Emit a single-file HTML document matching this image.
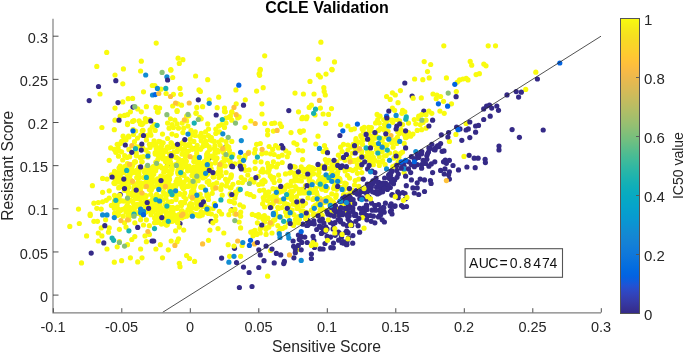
<!DOCTYPE html>
<html><head><meta charset="utf-8"><style>html,body{margin:0;padding:0;background:#fff;overflow:hidden}svg{display:block;filter:blur(0.4px)}</style></head><body>
<svg width="685" height="354" viewBox="0 0 685 354">
<rect width="685" height="354" fill="#fff"/>
<defs><linearGradient id="cb" x1="0" y1="0" x2="0" y2="1"><stop offset="0.0000" stop-color="#f9fb0e"/><stop offset="0.0159" stop-color="#f6f313"/><stop offset="0.0317" stop-color="#f5eb18"/><stop offset="0.0476" stop-color="#f5e41d"/><stop offset="0.0635" stop-color="#f5de21"/><stop offset="0.0794" stop-color="#f7d826"/><stop offset="0.0952" stop-color="#fad32a"/><stop offset="0.1111" stop-color="#fcce2e"/><stop offset="0.1270" stop-color="#fec832"/><stop offset="0.1429" stop-color="#ffc337"/><stop offset="0.1587" stop-color="#fdbe3d"/><stop offset="0.1746" stop-color="#f8bb44"/><stop offset="0.1905" stop-color="#f1b94a"/><stop offset="0.2063" stop-color="#e9b94e"/><stop offset="0.2222" stop-color="#e1b952"/><stop offset="0.2381" stop-color="#d9ba56"/><stop offset="0.2540" stop-color="#d1bb59"/><stop offset="0.2698" stop-color="#c8bc5d"/><stop offset="0.2857" stop-color="#c0bc60"/><stop offset="0.3016" stop-color="#b7bd64"/><stop offset="0.3175" stop-color="#aebe67"/><stop offset="0.3333" stop-color="#a5be6b"/><stop offset="0.3492" stop-color="#9cbf6f"/><stop offset="0.3651" stop-color="#92bf73"/><stop offset="0.3810" stop-color="#87bf77"/><stop offset="0.3968" stop-color="#7cbf7b"/><stop offset="0.4127" stop-color="#71bf80"/><stop offset="0.4286" stop-color="#65be86"/><stop offset="0.4444" stop-color="#59bd8c"/><stop offset="0.4603" stop-color="#4dbc92"/><stop offset="0.4762" stop-color="#42bb98"/><stop offset="0.4921" stop-color="#38b99e"/><stop offset="0.5079" stop-color="#2eb7a4"/><stop offset="0.5238" stop-color="#25b5a9"/><stop offset="0.5397" stop-color="#1db3af"/><stop offset="0.5556" stop-color="#15b1b4"/><stop offset="0.5714" stop-color="#0faeb9"/><stop offset="0.5873" stop-color="#0aacbe"/><stop offset="0.6032" stop-color="#07a9c2"/><stop offset="0.6190" stop-color="#06a7c6"/><stop offset="0.6349" stop-color="#06a4ca"/><stop offset="0.6508" stop-color="#06a0cd"/><stop offset="0.6667" stop-color="#079ccf"/><stop offset="0.6825" stop-color="#0998d1"/><stop offset="0.6984" stop-color="#0c93d2"/><stop offset="0.7143" stop-color="#108ed2"/><stop offset="0.7302" stop-color="#1389d3"/><stop offset="0.7460" stop-color="#1485d4"/><stop offset="0.7619" stop-color="#1481d6"/><stop offset="0.7778" stop-color="#127dd8"/><stop offset="0.7937" stop-color="#1079da"/><stop offset="0.8095" stop-color="#0d75dc"/><stop offset="0.8254" stop-color="#0871de"/><stop offset="0.8413" stop-color="#046de0"/><stop offset="0.8571" stop-color="#0268e1"/><stop offset="0.8730" stop-color="#0363e1"/><stop offset="0.8889" stop-color="#0f5cdd"/><stop offset="0.9048" stop-color="#2053d4"/><stop offset="0.9206" stop-color="#2c4ac7"/><stop offset="0.9365" stop-color="#3243ba"/><stop offset="0.9524" stop-color="#353dad"/><stop offset="0.9683" stop-color="#3637a0"/><stop offset="0.9841" stop-color="#363093"/><stop offset="1.0000" stop-color="#352a87"/></linearGradient></defs>
<g stroke="none">
<circle cx="133.0" cy="107.1" r="2.6" fill="#352a87"/>
<circle cx="412.1" cy="96.0" r="2.6" fill="#352a87"/>
<circle cx="423.8" cy="111.1" r="2.6" fill="#352a87"/>
<circle cx="195.3" cy="148.7" r="2.6" fill="#352a87"/>
<circle cx="225.7" cy="147.2" r="2.6" fill="#352a87"/>
<circle cx="209.2" cy="158.1" r="2.6" fill="#352a87"/>
<circle cx="167.6" cy="164.4" r="2.6" fill="#352a87"/>
<circle cx="281.5" cy="145.7" r="2.6" fill="#352a87"/>
<circle cx="120.2" cy="194.5" r="2.6" fill="#352a87"/>
<circle cx="231.8" cy="209.8" r="2.6" fill="#352a87"/>
<circle cx="303.4" cy="189.4" r="2.6" fill="#352a87"/>
<circle cx="180.0" cy="223.5" r="2.6" fill="#352a87"/>
<circle cx="211.1" cy="221.3" r="2.6" fill="#352a87"/>
<circle cx="234.5" cy="248.3" r="2.6" fill="#352a87"/>
<circle cx="185.9" cy="145.2" r="2.6" fill="#f9fb0e"/>
<circle cx="218.2" cy="151.9" r="2.6" fill="#f9fb0e"/>
<circle cx="182.1" cy="149.5" r="2.6" fill="#f9fb0e"/>
<circle cx="197.7" cy="148.7" r="2.6" fill="#f9fb0e"/>
<circle cx="162.8" cy="155.0" r="2.6" fill="#f9fb0e"/>
<circle cx="197.4" cy="149.0" r="2.6" fill="#f9fb0e"/>
<circle cx="196.7" cy="153.2" r="2.6" fill="#f9fb0e"/>
<circle cx="228.7" cy="147.1" r="2.6" fill="#f9fb0e"/>
<circle cx="230.3" cy="154.5" r="2.6" fill="#f9fb0e"/>
<circle cx="192.8" cy="148.4" r="2.6" fill="#f9fb0e"/>
<circle cx="209.8" cy="149.4" r="2.6" fill="#f9fb0e"/>
<circle cx="180.0" cy="145.5" r="2.6" fill="#f9fb0e"/>
<circle cx="179.8" cy="167.3" r="2.6" fill="#f9fb0e"/>
<circle cx="230.3" cy="162.1" r="2.6" fill="#f9fb0e"/>
<circle cx="153.3" cy="166.6" r="2.6" fill="#f9fb0e"/>
<circle cx="221.8" cy="162.7" r="2.6" fill="#f9fb0e"/>
<circle cx="167.1" cy="147.3" r="2.6" fill="#f9fb0e"/>
<circle cx="185.7" cy="165.4" r="2.6" fill="#f9fb0e"/>
<circle cx="198.7" cy="161.9" r="2.6" fill="#f9fb0e"/>
<circle cx="171.4" cy="157.0" r="2.6" fill="#f9fb0e"/>
<circle cx="209.0" cy="164.0" r="2.6" fill="#f9fb0e"/>
<circle cx="216.8" cy="150.3" r="2.6" fill="#f9fb0e"/>
<circle cx="222.0" cy="150.0" r="2.6" fill="#f9fb0e"/>
<circle cx="216.4" cy="157.8" r="2.6" fill="#f9fb0e"/>
<circle cx="167.7" cy="158.5" r="2.6" fill="#f9fb0e"/>
<circle cx="193.9" cy="167.0" r="2.6" fill="#f9fb0e"/>
<circle cx="156.3" cy="148.8" r="2.6" fill="#f9fb0e"/>
<circle cx="230.7" cy="164.1" r="2.6" fill="#f9fb0e"/>
<circle cx="164.9" cy="150.3" r="2.6" fill="#f9fb0e"/>
<circle cx="195.6" cy="148.6" r="2.6" fill="#f9fb0e"/>
<circle cx="178.6" cy="146.1" r="2.6" fill="#f9fb0e"/>
<circle cx="209.2" cy="146.8" r="2.6" fill="#f9fb0e"/>
<circle cx="231.6" cy="166.2" r="2.6" fill="#f9fb0e"/>
<circle cx="215.3" cy="162.8" r="2.6" fill="#f9fb0e"/>
<circle cx="182.1" cy="160.6" r="2.6" fill="#f9fb0e"/>
<circle cx="213.1" cy="156.1" r="2.6" fill="#f9fb0e"/>
<circle cx="157.9" cy="159.4" r="2.6" fill="#f9fb0e"/>
<circle cx="178.7" cy="159.0" r="2.6" fill="#f9fb0e"/>
<circle cx="186.2" cy="166.9" r="2.6" fill="#f9fb0e"/>
<circle cx="168.9" cy="162.7" r="2.6" fill="#f9fb0e"/>
<circle cx="208.2" cy="157.8" r="2.6" fill="#f9fb0e"/>
<circle cx="159.3" cy="148.8" r="2.6" fill="#f9fb0e"/>
<circle cx="229.4" cy="150.3" r="2.6" fill="#f9fb0e"/>
<circle cx="165.9" cy="151.6" r="2.6" fill="#f9fb0e"/>
<circle cx="195.4" cy="157.0" r="2.6" fill="#f9fb0e"/>
<circle cx="153.3" cy="145.1" r="2.6" fill="#f9fb0e"/>
<circle cx="192.2" cy="149.3" r="2.6" fill="#f9fb0e"/>
<circle cx="201.0" cy="163.4" r="2.6" fill="#f9fb0e"/>
<circle cx="160.6" cy="156.6" r="2.6" fill="#f9fb0e"/>
<circle cx="185.1" cy="163.2" r="2.6" fill="#f9fb0e"/>
<circle cx="228.4" cy="154.6" r="2.6" fill="#f9fb0e"/>
<circle cx="172.2" cy="165.2" r="2.6" fill="#f9fb0e"/>
<circle cx="155.2" cy="152.6" r="2.6" fill="#f9fb0e"/>
<circle cx="184.2" cy="149.1" r="2.6" fill="#f9fb0e"/>
<circle cx="206.7" cy="156.9" r="2.6" fill="#f9fb0e"/>
<circle cx="172.7" cy="154.5" r="2.6" fill="#f9fb0e"/>
<circle cx="207.7" cy="152.5" r="2.6" fill="#f9fb0e"/>
<circle cx="158.3" cy="155.6" r="2.6" fill="#f9fb0e"/>
<circle cx="168.4" cy="159.3" r="2.6" fill="#f9fb0e"/>
<circle cx="168.9" cy="148.1" r="2.6" fill="#f9fb0e"/>
<circle cx="223.6" cy="152.6" r="2.6" fill="#f9fb0e"/>
<circle cx="176.1" cy="157.4" r="2.6" fill="#f9fb0e"/>
<circle cx="207.8" cy="160.4" r="2.6" fill="#f9fb0e"/>
<circle cx="216.1" cy="151.0" r="2.6" fill="#f9fb0e"/>
<circle cx="186.7" cy="153.4" r="2.6" fill="#f9fb0e"/>
<circle cx="193.8" cy="158.2" r="2.6" fill="#f9fb0e"/>
<circle cx="202.7" cy="146.6" r="2.6" fill="#f9fb0e"/>
<circle cx="182.3" cy="161.3" r="2.6" fill="#f9fb0e"/>
<circle cx="155.8" cy="162.2" r="2.6" fill="#f9fb0e"/>
<circle cx="207.2" cy="154.2" r="2.6" fill="#f9fb0e"/>
<circle cx="188.5" cy="151.1" r="2.6" fill="#f9fb0e"/>
<circle cx="211.2" cy="156.0" r="2.6" fill="#f9fb0e"/>
<circle cx="173.9" cy="145.7" r="2.6" fill="#f9fb0e"/>
<circle cx="180.3" cy="166.2" r="2.6" fill="#f9fb0e"/>
<circle cx="206.4" cy="159.4" r="2.6" fill="#f9fb0e"/>
<circle cx="226.8" cy="145.7" r="2.6" fill="#f9fb0e"/>
<circle cx="200.6" cy="149.3" r="2.6" fill="#f9fb0e"/>
<circle cx="184.4" cy="149.2" r="2.6" fill="#f9fb0e"/>
<circle cx="180.6" cy="165.7" r="2.6" fill="#f9fb0e"/>
<circle cx="210.3" cy="164.5" r="2.6" fill="#f9fb0e"/>
<circle cx="159.0" cy="151.9" r="2.6" fill="#f9fb0e"/>
<circle cx="214.9" cy="145.9" r="2.6" fill="#f9fb0e"/>
<circle cx="168.0" cy="146.9" r="2.6" fill="#f9fb0e"/>
<circle cx="217.6" cy="150.3" r="2.6" fill="#f9fb0e"/>
<circle cx="186.5" cy="145.3" r="2.6" fill="#f9fb0e"/>
<circle cx="162.0" cy="156.8" r="2.6" fill="#f9fb0e"/>
<circle cx="215.5" cy="152.8" r="2.6" fill="#f9fb0e"/>
<circle cx="178.2" cy="145.9" r="2.6" fill="#f9fb0e"/>
<circle cx="160.9" cy="148.4" r="2.6" fill="#f9fb0e"/>
<circle cx="169.3" cy="158.1" r="2.6" fill="#f9fb0e"/>
<circle cx="181.4" cy="167.5" r="2.6" fill="#f9fb0e"/>
<circle cx="175.4" cy="164.7" r="2.6" fill="#f9fb0e"/>
<circle cx="160.3" cy="157.1" r="2.6" fill="#f9fb0e"/>
<circle cx="196.4" cy="160.1" r="2.6" fill="#f9fb0e"/>
<circle cx="185.4" cy="157.1" r="2.6" fill="#f9fb0e"/>
<circle cx="214.4" cy="148.5" r="2.6" fill="#f9fb0e"/>
<circle cx="195.0" cy="158.5" r="2.6" fill="#f9fb0e"/>
<circle cx="214.8" cy="148.8" r="2.6" fill="#f9fb0e"/>
<circle cx="185.8" cy="145.6" r="2.6" fill="#f9fb0e"/>
<circle cx="205.3" cy="165.0" r="2.6" fill="#f9fb0e"/>
<circle cx="180.9" cy="163.8" r="2.6" fill="#f9fb0e"/>
<circle cx="205.0" cy="145.4" r="2.6" fill="#f9fb0e"/>
<circle cx="190.1" cy="146.1" r="2.6" fill="#f9fb0e"/>
<circle cx="177.7" cy="163.4" r="2.6" fill="#f9fb0e"/>
<circle cx="162.9" cy="158.0" r="2.6" fill="#f9fb0e"/>
<circle cx="157.5" cy="147.5" r="2.6" fill="#f9fb0e"/>
<circle cx="228.2" cy="147.2" r="2.6" fill="#f9fb0e"/>
<circle cx="166.8" cy="166.6" r="2.6" fill="#f9fb0e"/>
<circle cx="177.4" cy="150.0" r="2.6" fill="#f9fb0e"/>
<circle cx="160.6" cy="156.5" r="2.6" fill="#f9fb0e"/>
<circle cx="157.7" cy="150.1" r="2.6" fill="#f9fb0e"/>
<circle cx="170.5" cy="162.1" r="2.6" fill="#f9fb0e"/>
<circle cx="165.8" cy="158.5" r="2.6" fill="#f9fb0e"/>
<circle cx="172.1" cy="167.9" r="2.6" fill="#f9fb0e"/>
<circle cx="231.3" cy="166.2" r="2.6" fill="#f9fb0e"/>
<circle cx="224.1" cy="157.7" r="2.6" fill="#f9fb0e"/>
<circle cx="226.5" cy="159.7" r="2.6" fill="#f9fb0e"/>
<circle cx="165.6" cy="161.8" r="2.6" fill="#f9fb0e"/>
<circle cx="220.1" cy="145.3" r="2.6" fill="#f9fb0e"/>
<circle cx="168.4" cy="163.0" r="2.6" fill="#f9fb0e"/>
<circle cx="213.7" cy="157.9" r="2.6" fill="#f9fb0e"/>
<circle cx="162.7" cy="151.1" r="2.6" fill="#f9fb0e"/>
<circle cx="171.6" cy="167.6" r="2.6" fill="#f9fb0e"/>
<circle cx="170.8" cy="153.5" r="2.6" fill="#f9fb0e"/>
<circle cx="207.4" cy="160.3" r="2.6" fill="#f9fb0e"/>
<circle cx="197.4" cy="160.0" r="2.6" fill="#f9fb0e"/>
<circle cx="221.3" cy="166.0" r="2.6" fill="#f9fb0e"/>
<circle cx="161.6" cy="145.7" r="2.6" fill="#f9fb0e"/>
<circle cx="225.2" cy="165.9" r="2.6" fill="#f9fb0e"/>
<circle cx="182.1" cy="154.2" r="2.6" fill="#f9fb0e"/>
<circle cx="207.1" cy="154.7" r="2.6" fill="#f9fb0e"/>
<circle cx="161.8" cy="150.7" r="2.6" fill="#f9fb0e"/>
<circle cx="177.0" cy="158.0" r="2.6" fill="#f9fb0e"/>
<circle cx="166.5" cy="161.8" r="2.6" fill="#f9fb0e"/>
<circle cx="229.6" cy="153.9" r="2.6" fill="#f9fb0e"/>
<circle cx="198.1" cy="159.6" r="2.6" fill="#f9fb0e"/>
<circle cx="216.0" cy="159.5" r="2.6" fill="#f9fb0e"/>
<circle cx="193.8" cy="161.6" r="2.6" fill="#f9fb0e"/>
<circle cx="154.9" cy="166.6" r="2.6" fill="#f9fb0e"/>
<circle cx="224.0" cy="161.0" r="2.6" fill="#f9fb0e"/>
<circle cx="168.9" cy="159.4" r="2.6" fill="#f9fb0e"/>
<circle cx="155.2" cy="154.1" r="2.6" fill="#f9fb0e"/>
<circle cx="170.0" cy="157.9" r="2.6" fill="#f9fb0e"/>
<circle cx="172.8" cy="147.1" r="2.6" fill="#f9fb0e"/>
<circle cx="215.7" cy="150.8" r="2.6" fill="#f9fb0e"/>
<circle cx="197.2" cy="145.4" r="2.6" fill="#f9fb0e"/>
<circle cx="197.5" cy="163.2" r="2.6" fill="#f9fb0e"/>
<circle cx="215.0" cy="152.6" r="2.6" fill="#f9fb0e"/>
<circle cx="163.1" cy="159.0" r="2.6" fill="#f9fb0e"/>
<circle cx="177.2" cy="151.6" r="2.6" fill="#f9fb0e"/>
<circle cx="169.6" cy="154.0" r="2.6" fill="#f9fb0e"/>
<circle cx="206.9" cy="154.2" r="2.6" fill="#f9fb0e"/>
<circle cx="204.1" cy="161.7" r="2.6" fill="#f9fb0e"/>
<circle cx="217.0" cy="158.1" r="2.6" fill="#f9fb0e"/>
<circle cx="231.2" cy="156.5" r="2.6" fill="#f9fb0e"/>
<circle cx="195.4" cy="160.1" r="2.6" fill="#f9fb0e"/>
<circle cx="229.7" cy="161.1" r="2.6" fill="#f9fb0e"/>
<circle cx="225.4" cy="148.6" r="2.6" fill="#f9fb0e"/>
<circle cx="186.3" cy="161.2" r="2.6" fill="#f9fb0e"/>
<circle cx="210.9" cy="164.1" r="2.6" fill="#f9fb0e"/>
<circle cx="174.0" cy="152.2" r="2.6" fill="#f9fb0e"/>
<circle cx="185.6" cy="154.0" r="2.6" fill="#f9fb0e"/>
<circle cx="160.3" cy="141.9" r="2.6" fill="#f9fb0e"/>
<circle cx="203.7" cy="143.7" r="2.6" fill="#f9fb0e"/>
<circle cx="171.2" cy="143.1" r="2.6" fill="#f9fb0e"/>
<circle cx="212.3" cy="140.8" r="2.6" fill="#f9fb0e"/>
<circle cx="154.1" cy="140.8" r="2.6" fill="#f9fb0e"/>
<circle cx="206.6" cy="144.6" r="2.6" fill="#f9fb0e"/>
<circle cx="183.6" cy="141.6" r="2.6" fill="#f9fb0e"/>
<circle cx="245.2" cy="155.7" r="2.6" fill="#f9fb0e"/>
<circle cx="232.8" cy="154.4" r="2.6" fill="#f9fb0e"/>
<circle cx="244.6" cy="158.2" r="2.6" fill="#f9fb0e"/>
<circle cx="239.3" cy="157.1" r="2.6" fill="#f9fb0e"/>
<circle cx="234.9" cy="163.8" r="2.6" fill="#f9fb0e"/>
<circle cx="239.9" cy="162.4" r="2.6" fill="#f9fb0e"/>
<circle cx="243.9" cy="166.2" r="2.6" fill="#f9fb0e"/>
<circle cx="248.7" cy="152.4" r="2.6" fill="#f9fb0e"/>
<circle cx="131.6" cy="166.6" r="2.6" fill="#f9fb0e"/>
<circle cx="143.4" cy="177.5" r="2.6" fill="#f9fb0e"/>
<circle cx="152.1" cy="177.3" r="2.6" fill="#f9fb0e"/>
<circle cx="133.8" cy="190.6" r="2.6" fill="#f9fb0e"/>
<circle cx="146.3" cy="195.8" r="2.6" fill="#f9fb0e"/>
<circle cx="148.4" cy="182.0" r="2.6" fill="#f9fb0e"/>
<circle cx="117.8" cy="175.3" r="2.6" fill="#f9fb0e"/>
<circle cx="115.8" cy="201.4" r="2.6" fill="#f9fb0e"/>
<circle cx="140.8" cy="203.7" r="2.6" fill="#f9fb0e"/>
<circle cx="144.5" cy="172.3" r="2.6" fill="#f9fb0e"/>
<circle cx="116.5" cy="199.0" r="2.6" fill="#f9fb0e"/>
<circle cx="114.0" cy="182.9" r="2.6" fill="#f9fb0e"/>
<circle cx="136.9" cy="198.6" r="2.6" fill="#f9fb0e"/>
<circle cx="138.0" cy="213.5" r="2.6" fill="#f9fb0e"/>
<circle cx="152.0" cy="181.5" r="2.6" fill="#f9fb0e"/>
<circle cx="126.3" cy="167.1" r="2.6" fill="#f9fb0e"/>
<circle cx="118.7" cy="187.9" r="2.6" fill="#f9fb0e"/>
<circle cx="139.0" cy="177.8" r="2.6" fill="#f9fb0e"/>
<circle cx="117.9" cy="200.2" r="2.6" fill="#f9fb0e"/>
<circle cx="140.2" cy="191.0" r="2.6" fill="#f9fb0e"/>
<circle cx="119.5" cy="175.8" r="2.6" fill="#f9fb0e"/>
<circle cx="124.5" cy="208.6" r="2.6" fill="#f9fb0e"/>
<circle cx="150.1" cy="168.4" r="2.6" fill="#f9fb0e"/>
<circle cx="150.5" cy="211.6" r="2.6" fill="#f9fb0e"/>
<circle cx="144.9" cy="177.7" r="2.6" fill="#f9fb0e"/>
<circle cx="151.7" cy="206.4" r="2.6" fill="#f9fb0e"/>
<circle cx="119.4" cy="167.8" r="2.6" fill="#f9fb0e"/>
<circle cx="128.7" cy="195.0" r="2.6" fill="#f9fb0e"/>
<circle cx="115.0" cy="213.7" r="2.6" fill="#f9fb0e"/>
<circle cx="140.2" cy="191.8" r="2.6" fill="#f9fb0e"/>
<circle cx="133.2" cy="171.2" r="2.6" fill="#f9fb0e"/>
<circle cx="143.2" cy="203.1" r="2.6" fill="#f9fb0e"/>
<circle cx="114.9" cy="206.3" r="2.6" fill="#f9fb0e"/>
<circle cx="127.8" cy="212.7" r="2.6" fill="#f9fb0e"/>
<circle cx="127.3" cy="176.6" r="2.6" fill="#f9fb0e"/>
<circle cx="121.6" cy="182.6" r="2.6" fill="#f9fb0e"/>
<circle cx="116.8" cy="174.1" r="2.6" fill="#f9fb0e"/>
<circle cx="132.4" cy="193.6" r="2.6" fill="#f9fb0e"/>
<circle cx="135.7" cy="172.6" r="2.6" fill="#f9fb0e"/>
<circle cx="115.0" cy="173.3" r="2.6" fill="#f9fb0e"/>
<circle cx="149.1" cy="172.8" r="2.6" fill="#f9fb0e"/>
<circle cx="140.7" cy="193.8" r="2.6" fill="#f9fb0e"/>
<circle cx="137.4" cy="212.8" r="2.6" fill="#f9fb0e"/>
<circle cx="124.0" cy="201.1" r="2.6" fill="#f9fb0e"/>
<circle cx="134.2" cy="184.4" r="2.6" fill="#f9fb0e"/>
<circle cx="129.6" cy="176.1" r="2.6" fill="#f9fb0e"/>
<circle cx="117.9" cy="212.1" r="2.6" fill="#f9fb0e"/>
<circle cx="139.0" cy="174.5" r="2.6" fill="#f9fb0e"/>
<circle cx="145.3" cy="175.2" r="2.6" fill="#f9fb0e"/>
<circle cx="139.8" cy="195.3" r="2.6" fill="#f9fb0e"/>
<circle cx="145.1" cy="186.6" r="2.6" fill="#f9fb0e"/>
<circle cx="151.3" cy="202.0" r="2.6" fill="#f9fb0e"/>
<circle cx="131.5" cy="172.1" r="2.6" fill="#f9fb0e"/>
<circle cx="124.1" cy="172.6" r="2.6" fill="#f9fb0e"/>
<circle cx="134.3" cy="206.3" r="2.6" fill="#f9fb0e"/>
<circle cx="142.9" cy="197.9" r="2.6" fill="#f9fb0e"/>
<circle cx="130.6" cy="179.9" r="2.6" fill="#f9fb0e"/>
<circle cx="145.4" cy="199.6" r="2.6" fill="#f9fb0e"/>
<circle cx="139.9" cy="193.9" r="2.6" fill="#f9fb0e"/>
<circle cx="144.8" cy="195.4" r="2.6" fill="#f9fb0e"/>
<circle cx="124.3" cy="184.7" r="2.6" fill="#f9fb0e"/>
<circle cx="126.1" cy="180.6" r="2.6" fill="#f9fb0e"/>
<circle cx="149.0" cy="201.6" r="2.6" fill="#f9fb0e"/>
<circle cx="137.9" cy="188.5" r="2.6" fill="#f9fb0e"/>
<circle cx="132.9" cy="171.3" r="2.6" fill="#f9fb0e"/>
<circle cx="132.5" cy="195.4" r="2.6" fill="#f9fb0e"/>
<circle cx="127.7" cy="191.4" r="2.6" fill="#f9fb0e"/>
<circle cx="153.0" cy="211.6" r="2.6" fill="#f9fb0e"/>
<circle cx="117.0" cy="213.3" r="2.6" fill="#f9fb0e"/>
<circle cx="145.0" cy="206.6" r="2.6" fill="#f9fb0e"/>
<circle cx="145.4" cy="176.4" r="2.6" fill="#f9fb0e"/>
<circle cx="119.1" cy="198.1" r="2.6" fill="#f9fb0e"/>
<circle cx="146.3" cy="171.1" r="2.6" fill="#f9fb0e"/>
<circle cx="114.6" cy="213.3" r="2.6" fill="#f9fb0e"/>
<circle cx="149.5" cy="179.1" r="2.6" fill="#f9fb0e"/>
<circle cx="146.3" cy="180.9" r="2.6" fill="#f9fb0e"/>
<circle cx="146.8" cy="166.6" r="2.6" fill="#f9fb0e"/>
<circle cx="137.7" cy="177.2" r="2.6" fill="#f9fb0e"/>
<circle cx="138.8" cy="167.3" r="2.6" fill="#f9fb0e"/>
<circle cx="139.2" cy="171.0" r="2.6" fill="#f9fb0e"/>
<circle cx="131.3" cy="169.5" r="2.6" fill="#f9fb0e"/>
<circle cx="129.0" cy="173.8" r="2.6" fill="#f9fb0e"/>
<circle cx="126.8" cy="189.5" r="2.6" fill="#f9fb0e"/>
<circle cx="139.7" cy="197.7" r="2.6" fill="#f9fb0e"/>
<circle cx="134.4" cy="208.6" r="2.6" fill="#f9fb0e"/>
<circle cx="130.0" cy="173.2" r="2.6" fill="#f9fb0e"/>
<circle cx="140.7" cy="183.9" r="2.6" fill="#f9fb0e"/>
<circle cx="150.5" cy="185.5" r="2.6" fill="#f9fb0e"/>
<circle cx="114.5" cy="183.2" r="2.6" fill="#f9fb0e"/>
<circle cx="151.4" cy="189.9" r="2.6" fill="#f9fb0e"/>
<circle cx="146.1" cy="184.4" r="2.6" fill="#f9fb0e"/>
<circle cx="137.7" cy="169.8" r="2.6" fill="#f9fb0e"/>
<circle cx="121.9" cy="171.2" r="2.6" fill="#f9fb0e"/>
<circle cx="129.7" cy="182.2" r="2.6" fill="#f9fb0e"/>
<circle cx="135.8" cy="198.4" r="2.6" fill="#f9fb0e"/>
<circle cx="123.4" cy="179.4" r="2.6" fill="#f9fb0e"/>
<circle cx="115.0" cy="172.1" r="2.6" fill="#f9fb0e"/>
<circle cx="128.9" cy="211.0" r="2.6" fill="#f9fb0e"/>
<circle cx="121.3" cy="186.4" r="2.6" fill="#f9fb0e"/>
<circle cx="114.5" cy="195.4" r="2.6" fill="#f9fb0e"/>
<circle cx="130.4" cy="182.6" r="2.6" fill="#f9fb0e"/>
<circle cx="129.2" cy="179.6" r="2.6" fill="#f9fb0e"/>
<circle cx="129.9" cy="175.2" r="2.6" fill="#f9fb0e"/>
<circle cx="141.8" cy="212.7" r="2.6" fill="#f9fb0e"/>
<circle cx="149.4" cy="184.3" r="2.6" fill="#f9fb0e"/>
<circle cx="114.5" cy="204.4" r="2.6" fill="#f9fb0e"/>
<circle cx="132.0" cy="193.3" r="2.6" fill="#f9fb0e"/>
<circle cx="139.6" cy="206.6" r="2.6" fill="#f9fb0e"/>
<circle cx="134.2" cy="187.7" r="2.6" fill="#f9fb0e"/>
<circle cx="119.1" cy="168.1" r="2.6" fill="#f9fb0e"/>
<circle cx="120.5" cy="173.7" r="2.6" fill="#f9fb0e"/>
<circle cx="150.7" cy="194.3" r="2.6" fill="#f9fb0e"/>
<circle cx="115.1" cy="181.9" r="2.6" fill="#f9fb0e"/>
<circle cx="130.1" cy="207.7" r="2.6" fill="#f9fb0e"/>
<circle cx="130.1" cy="193.3" r="2.6" fill="#f9fb0e"/>
<circle cx="124.3" cy="182.2" r="2.6" fill="#f9fb0e"/>
<circle cx="117.1" cy="205.1" r="2.6" fill="#f9fb0e"/>
<circle cx="133.1" cy="202.6" r="2.6" fill="#f9fb0e"/>
<circle cx="136.3" cy="170.4" r="2.6" fill="#f9fb0e"/>
<circle cx="124.5" cy="182.0" r="2.6" fill="#f9fb0e"/>
<circle cx="144.5" cy="183.3" r="2.6" fill="#f9fb0e"/>
<circle cx="151.7" cy="205.8" r="2.6" fill="#f9fb0e"/>
<circle cx="140.9" cy="192.6" r="2.6" fill="#f9fb0e"/>
<circle cx="141.0" cy="182.9" r="2.6" fill="#f9fb0e"/>
<circle cx="118.0" cy="208.9" r="2.6" fill="#f9fb0e"/>
<circle cx="131.9" cy="213.9" r="2.6" fill="#f9fb0e"/>
<circle cx="142.5" cy="194.7" r="2.6" fill="#f9fb0e"/>
<circle cx="130.7" cy="200.3" r="2.6" fill="#f9fb0e"/>
<circle cx="123.5" cy="183.7" r="2.6" fill="#f9fb0e"/>
<circle cx="126.5" cy="206.9" r="2.6" fill="#f9fb0e"/>
<circle cx="151.0" cy="170.9" r="2.6" fill="#f9fb0e"/>
<circle cx="115.0" cy="183.6" r="2.6" fill="#f9fb0e"/>
<circle cx="140.6" cy="187.9" r="2.6" fill="#f9fb0e"/>
<circle cx="143.6" cy="214.4" r="2.6" fill="#f9fb0e"/>
<circle cx="140.0" cy="199.3" r="2.6" fill="#f9fb0e"/>
<circle cx="119.6" cy="195.3" r="2.6" fill="#f9fb0e"/>
<circle cx="138.5" cy="175.8" r="2.6" fill="#f9fb0e"/>
<circle cx="115.0" cy="199.9" r="2.6" fill="#f9fb0e"/>
<circle cx="152.7" cy="198.3" r="2.6" fill="#f9fb0e"/>
<circle cx="121.8" cy="209.5" r="2.6" fill="#f9fb0e"/>
<circle cx="126.4" cy="183.1" r="2.6" fill="#f9fb0e"/>
<circle cx="145.7" cy="205.7" r="2.6" fill="#f9fb0e"/>
<circle cx="150.3" cy="210.2" r="2.6" fill="#f9fb0e"/>
<circle cx="114.1" cy="177.4" r="2.6" fill="#f9fb0e"/>
<circle cx="136.7" cy="177.6" r="2.6" fill="#f9fb0e"/>
<circle cx="147.2" cy="202.8" r="2.6" fill="#f9fb0e"/>
<circle cx="143.5" cy="213.2" r="2.6" fill="#f9fb0e"/>
<circle cx="141.6" cy="214.2" r="2.6" fill="#f9fb0e"/>
<circle cx="132.2" cy="172.8" r="2.6" fill="#f9fb0e"/>
<circle cx="134.1" cy="213.4" r="2.6" fill="#f9fb0e"/>
<circle cx="138.0" cy="182.1" r="2.6" fill="#f9fb0e"/>
<circle cx="117.8" cy="172.7" r="2.6" fill="#f9fb0e"/>
<circle cx="118.8" cy="201.5" r="2.6" fill="#f9fb0e"/>
<circle cx="126.8" cy="187.7" r="2.6" fill="#f9fb0e"/>
<circle cx="152.0" cy="182.6" r="2.6" fill="#f9fb0e"/>
<circle cx="139.5" cy="183.5" r="2.6" fill="#f9fb0e"/>
<circle cx="129.0" cy="187.3" r="2.6" fill="#f9fb0e"/>
<circle cx="131.3" cy="171.8" r="2.6" fill="#f9fb0e"/>
<circle cx="139.0" cy="193.8" r="2.6" fill="#f9fb0e"/>
<circle cx="118.4" cy="214.7" r="2.6" fill="#f9fb0e"/>
<circle cx="152.5" cy="179.7" r="2.6" fill="#f9fb0e"/>
<circle cx="127.3" cy="205.0" r="2.6" fill="#f9fb0e"/>
<circle cx="133.7" cy="194.3" r="2.6" fill="#f9fb0e"/>
<circle cx="143.8" cy="203.6" r="2.6" fill="#f9fb0e"/>
<circle cx="124.3" cy="190.4" r="2.6" fill="#f9fb0e"/>
<circle cx="145.6" cy="210.1" r="2.6" fill="#f9fb0e"/>
<circle cx="147.8" cy="206.0" r="2.6" fill="#f9fb0e"/>
<circle cx="139.7" cy="167.3" r="2.6" fill="#f9fb0e"/>
<circle cx="128.3" cy="201.5" r="2.6" fill="#f9fb0e"/>
<circle cx="123.5" cy="169.1" r="2.6" fill="#f9fb0e"/>
<circle cx="137.2" cy="204.4" r="2.6" fill="#f9fb0e"/>
<circle cx="152.8" cy="202.4" r="2.6" fill="#f9fb0e"/>
<circle cx="131.5" cy="167.6" r="2.6" fill="#f9fb0e"/>
<circle cx="140.5" cy="210.6" r="2.6" fill="#f9fb0e"/>
<circle cx="134.2" cy="194.1" r="2.6" fill="#f9fb0e"/>
<circle cx="117.6" cy="182.0" r="2.6" fill="#f9fb0e"/>
<circle cx="137.1" cy="206.1" r="2.6" fill="#f9fb0e"/>
<circle cx="126.7" cy="207.6" r="2.6" fill="#f9fb0e"/>
<circle cx="136.9" cy="193.7" r="2.6" fill="#f9fb0e"/>
<circle cx="121.8" cy="200.8" r="2.6" fill="#f9fb0e"/>
<circle cx="119.3" cy="187.0" r="2.6" fill="#f9fb0e"/>
<circle cx="148.6" cy="209.4" r="2.6" fill="#f9fb0e"/>
<circle cx="150.8" cy="175.7" r="2.6" fill="#f9fb0e"/>
<circle cx="149.3" cy="189.4" r="2.6" fill="#f9fb0e"/>
<circle cx="120.4" cy="210.8" r="2.6" fill="#f9fb0e"/>
<circle cx="151.1" cy="214.7" r="2.6" fill="#f9fb0e"/>
<circle cx="128.0" cy="177.2" r="2.6" fill="#f9fb0e"/>
<circle cx="150.1" cy="201.6" r="2.6" fill="#f9fb0e"/>
<circle cx="150.1" cy="202.5" r="2.6" fill="#f9fb0e"/>
<circle cx="152.4" cy="202.5" r="2.6" fill="#f9fb0e"/>
<circle cx="146.0" cy="212.1" r="2.6" fill="#f9fb0e"/>
<circle cx="130.8" cy="212.0" r="2.6" fill="#f9fb0e"/>
<circle cx="130.1" cy="214.1" r="2.6" fill="#f9fb0e"/>
<circle cx="135.1" cy="198.0" r="2.6" fill="#f9fb0e"/>
<circle cx="114.4" cy="183.0" r="2.6" fill="#f9fb0e"/>
<circle cx="124.7" cy="166.6" r="2.6" fill="#f9fb0e"/>
<circle cx="126.2" cy="178.9" r="2.6" fill="#f9fb0e"/>
<circle cx="118.2" cy="178.8" r="2.6" fill="#f9fb0e"/>
<circle cx="147.6" cy="176.8" r="2.6" fill="#f9fb0e"/>
<circle cx="141.3" cy="215.6" r="2.6" fill="#f9fb0e"/>
<circle cx="114.4" cy="201.6" r="2.6" fill="#f9fb0e"/>
<circle cx="119.2" cy="175.2" r="2.6" fill="#f9fb0e"/>
<circle cx="126.0" cy="211.9" r="2.6" fill="#f9fb0e"/>
<circle cx="148.2" cy="170.6" r="2.6" fill="#f9fb0e"/>
<circle cx="144.8" cy="170.2" r="2.6" fill="#f9fb0e"/>
<circle cx="128.0" cy="216.0" r="2.6" fill="#f9fb0e"/>
<circle cx="148.3" cy="171.5" r="2.6" fill="#f9fb0e"/>
<circle cx="136.1" cy="187.0" r="2.6" fill="#f9fb0e"/>
<circle cx="140.3" cy="208.9" r="2.6" fill="#f9fb0e"/>
<circle cx="135.7" cy="212.6" r="2.6" fill="#f9fb0e"/>
<circle cx="149.0" cy="174.2" r="2.6" fill="#f9fb0e"/>
<circle cx="114.5" cy="171.4" r="2.6" fill="#f9fb0e"/>
<circle cx="118.1" cy="177.3" r="2.6" fill="#f9fb0e"/>
<circle cx="120.8" cy="177.8" r="2.6" fill="#f9fb0e"/>
<circle cx="119.2" cy="176.2" r="2.6" fill="#f9fb0e"/>
<circle cx="119.2" cy="173.8" r="2.6" fill="#f9fb0e"/>
<circle cx="119.3" cy="179.0" r="2.6" fill="#f9fb0e"/>
<circle cx="120.9" cy="177.6" r="2.6" fill="#f9fb0e"/>
<circle cx="188.1" cy="169.6" r="2.6" fill="#f9fb0e"/>
<circle cx="170.1" cy="188.8" r="2.6" fill="#f9fb0e"/>
<circle cx="169.0" cy="175.9" r="2.6" fill="#f9fb0e"/>
<circle cx="172.5" cy="207.7" r="2.6" fill="#f9fb0e"/>
<circle cx="166.9" cy="212.8" r="2.6" fill="#f9fb0e"/>
<circle cx="153.3" cy="187.1" r="2.6" fill="#f9fb0e"/>
<circle cx="190.5" cy="203.7" r="2.6" fill="#f9fb0e"/>
<circle cx="153.6" cy="171.8" r="2.6" fill="#f9fb0e"/>
<circle cx="156.7" cy="194.3" r="2.6" fill="#f9fb0e"/>
<circle cx="157.9" cy="185.8" r="2.6" fill="#f9fb0e"/>
<circle cx="167.7" cy="171.1" r="2.6" fill="#f9fb0e"/>
<circle cx="172.5" cy="187.8" r="2.6" fill="#f9fb0e"/>
<circle cx="183.1" cy="183.3" r="2.6" fill="#f9fb0e"/>
<circle cx="156.6" cy="182.4" r="2.6" fill="#f9fb0e"/>
<circle cx="189.1" cy="166.2" r="2.6" fill="#f9fb0e"/>
<circle cx="180.1" cy="167.0" r="2.6" fill="#f9fb0e"/>
<circle cx="197.9" cy="175.8" r="2.6" fill="#f9fb0e"/>
<circle cx="180.7" cy="170.6" r="2.6" fill="#f9fb0e"/>
<circle cx="181.5" cy="205.6" r="2.6" fill="#f9fb0e"/>
<circle cx="200.6" cy="205.5" r="2.6" fill="#f9fb0e"/>
<circle cx="199.5" cy="166.4" r="2.6" fill="#f9fb0e"/>
<circle cx="194.9" cy="168.5" r="2.6" fill="#f9fb0e"/>
<circle cx="198.3" cy="215.8" r="2.6" fill="#f9fb0e"/>
<circle cx="190.3" cy="196.3" r="2.6" fill="#f9fb0e"/>
<circle cx="191.1" cy="170.3" r="2.6" fill="#f9fb0e"/>
<circle cx="197.9" cy="170.4" r="2.6" fill="#f9fb0e"/>
<circle cx="165.4" cy="179.5" r="2.6" fill="#f9fb0e"/>
<circle cx="188.8" cy="185.7" r="2.6" fill="#f9fb0e"/>
<circle cx="173.1" cy="191.1" r="2.6" fill="#f9fb0e"/>
<circle cx="192.2" cy="208.0" r="2.6" fill="#f9fb0e"/>
<circle cx="196.9" cy="180.2" r="2.6" fill="#f9fb0e"/>
<circle cx="155.7" cy="170.7" r="2.6" fill="#f9fb0e"/>
<circle cx="159.0" cy="203.3" r="2.6" fill="#f9fb0e"/>
<circle cx="157.4" cy="203.8" r="2.6" fill="#f9fb0e"/>
<circle cx="153.1" cy="200.3" r="2.6" fill="#f9fb0e"/>
<circle cx="165.9" cy="198.2" r="2.6" fill="#f9fb0e"/>
<circle cx="192.5" cy="198.7" r="2.6" fill="#f9fb0e"/>
<circle cx="156.8" cy="167.0" r="2.6" fill="#f9fb0e"/>
<circle cx="172.9" cy="211.4" r="2.6" fill="#f9fb0e"/>
<circle cx="177.2" cy="179.1" r="2.6" fill="#f9fb0e"/>
<circle cx="177.5" cy="207.0" r="2.6" fill="#f9fb0e"/>
<circle cx="163.8" cy="172.2" r="2.6" fill="#f9fb0e"/>
<circle cx="200.8" cy="187.2" r="2.6" fill="#f9fb0e"/>
<circle cx="176.1" cy="181.5" r="2.6" fill="#f9fb0e"/>
<circle cx="165.7" cy="209.1" r="2.6" fill="#f9fb0e"/>
<circle cx="194.7" cy="178.7" r="2.6" fill="#f9fb0e"/>
<circle cx="190.7" cy="212.0" r="2.6" fill="#f9fb0e"/>
<circle cx="174.7" cy="215.0" r="2.6" fill="#f9fb0e"/>
<circle cx="157.7" cy="207.9" r="2.6" fill="#f9fb0e"/>
<circle cx="197.2" cy="178.6" r="2.6" fill="#f9fb0e"/>
<circle cx="167.4" cy="179.6" r="2.6" fill="#f9fb0e"/>
<circle cx="160.1" cy="206.6" r="2.6" fill="#f9fb0e"/>
<circle cx="189.3" cy="205.4" r="2.6" fill="#f9fb0e"/>
<circle cx="186.4" cy="179.1" r="2.6" fill="#f9fb0e"/>
<circle cx="157.5" cy="178.9" r="2.6" fill="#f9fb0e"/>
<circle cx="194.0" cy="167.0" r="2.6" fill="#f9fb0e"/>
<circle cx="180.7" cy="182.1" r="2.6" fill="#f9fb0e"/>
<circle cx="168.0" cy="182.7" r="2.6" fill="#f9fb0e"/>
<circle cx="183.8" cy="174.4" r="2.6" fill="#f9fb0e"/>
<circle cx="161.3" cy="208.5" r="2.6" fill="#f9fb0e"/>
<circle cx="192.2" cy="184.0" r="2.6" fill="#f9fb0e"/>
<circle cx="165.9" cy="195.2" r="2.6" fill="#f9fb0e"/>
<circle cx="201.5" cy="205.4" r="2.6" fill="#f9fb0e"/>
<circle cx="176.0" cy="197.7" r="2.6" fill="#f9fb0e"/>
<circle cx="171.7" cy="201.5" r="2.6" fill="#f9fb0e"/>
<circle cx="179.9" cy="167.4" r="2.6" fill="#f9fb0e"/>
<circle cx="188.0" cy="209.6" r="2.6" fill="#f9fb0e"/>
<circle cx="178.2" cy="174.0" r="2.6" fill="#f9fb0e"/>
<circle cx="168.8" cy="175.6" r="2.6" fill="#f9fb0e"/>
<circle cx="196.7" cy="202.8" r="2.6" fill="#f9fb0e"/>
<circle cx="168.5" cy="181.1" r="2.6" fill="#f9fb0e"/>
<circle cx="159.6" cy="188.0" r="2.6" fill="#f9fb0e"/>
<circle cx="203.8" cy="203.8" r="2.6" fill="#f9fb0e"/>
<circle cx="201.6" cy="169.7" r="2.6" fill="#f9fb0e"/>
<circle cx="201.1" cy="211.6" r="2.6" fill="#f9fb0e"/>
<circle cx="195.2" cy="172.4" r="2.6" fill="#f9fb0e"/>
<circle cx="198.2" cy="214.9" r="2.6" fill="#f9fb0e"/>
<circle cx="191.5" cy="191.7" r="2.6" fill="#f9fb0e"/>
<circle cx="170.8" cy="209.9" r="2.6" fill="#f9fb0e"/>
<circle cx="184.1" cy="182.2" r="2.6" fill="#f9fb0e"/>
<circle cx="157.3" cy="166.9" r="2.6" fill="#f9fb0e"/>
<circle cx="189.5" cy="180.8" r="2.6" fill="#f9fb0e"/>
<circle cx="159.9" cy="181.4" r="2.6" fill="#f9fb0e"/>
<circle cx="177.0" cy="208.4" r="2.6" fill="#f9fb0e"/>
<circle cx="177.7" cy="172.4" r="2.6" fill="#f9fb0e"/>
<circle cx="196.1" cy="199.7" r="2.6" fill="#f9fb0e"/>
<circle cx="181.4" cy="210.9" r="2.6" fill="#f9fb0e"/>
<circle cx="174.1" cy="185.4" r="2.6" fill="#f9fb0e"/>
<circle cx="155.8" cy="200.8" r="2.6" fill="#f9fb0e"/>
<circle cx="185.3" cy="213.4" r="2.6" fill="#f9fb0e"/>
<circle cx="153.4" cy="186.6" r="2.6" fill="#f9fb0e"/>
<circle cx="175.7" cy="186.8" r="2.6" fill="#f9fb0e"/>
<circle cx="155.3" cy="206.7" r="2.6" fill="#f9fb0e"/>
<circle cx="155.2" cy="198.0" r="2.6" fill="#f9fb0e"/>
<circle cx="169.3" cy="187.2" r="2.6" fill="#f9fb0e"/>
<circle cx="196.6" cy="176.2" r="2.6" fill="#f9fb0e"/>
<circle cx="179.6" cy="179.3" r="2.6" fill="#f9fb0e"/>
<circle cx="184.7" cy="193.2" r="2.6" fill="#f9fb0e"/>
<circle cx="187.7" cy="170.8" r="2.6" fill="#f9fb0e"/>
<circle cx="185.9" cy="199.1" r="2.6" fill="#f9fb0e"/>
<circle cx="156.5" cy="214.5" r="2.6" fill="#f9fb0e"/>
<circle cx="197.2" cy="205.7" r="2.6" fill="#f9fb0e"/>
<circle cx="193.9" cy="191.0" r="2.6" fill="#f9fb0e"/>
<circle cx="200.6" cy="173.8" r="2.6" fill="#f9fb0e"/>
<circle cx="191.7" cy="214.8" r="2.6" fill="#f9fb0e"/>
<circle cx="156.3" cy="198.4" r="2.6" fill="#f9fb0e"/>
<circle cx="203.6" cy="173.1" r="2.6" fill="#f9fb0e"/>
<circle cx="182.1" cy="210.9" r="2.6" fill="#f9fb0e"/>
<circle cx="166.7" cy="176.5" r="2.6" fill="#f9fb0e"/>
<circle cx="190.3" cy="205.7" r="2.6" fill="#f9fb0e"/>
<circle cx="202.0" cy="198.6" r="2.6" fill="#f9fb0e"/>
<circle cx="155.8" cy="207.1" r="2.6" fill="#f9fb0e"/>
<circle cx="167.9" cy="194.2" r="2.6" fill="#f9fb0e"/>
<circle cx="190.5" cy="214.9" r="2.6" fill="#f9fb0e"/>
<circle cx="181.7" cy="173.2" r="2.6" fill="#f9fb0e"/>
<circle cx="179.6" cy="193.7" r="2.6" fill="#f9fb0e"/>
<circle cx="192.1" cy="175.6" r="2.6" fill="#f9fb0e"/>
<circle cx="181.7" cy="168.5" r="2.6" fill="#f9fb0e"/>
<circle cx="204.2" cy="167.1" r="2.6" fill="#f9fb0e"/>
<circle cx="181.1" cy="174.7" r="2.6" fill="#f9fb0e"/>
<circle cx="167.3" cy="186.1" r="2.6" fill="#f9fb0e"/>
<circle cx="166.2" cy="179.1" r="2.6" fill="#f9fb0e"/>
<circle cx="169.1" cy="191.0" r="2.6" fill="#f9fb0e"/>
<circle cx="202.7" cy="176.5" r="2.6" fill="#f9fb0e"/>
<circle cx="162.0" cy="168.1" r="2.6" fill="#f9fb0e"/>
<circle cx="200.6" cy="205.2" r="2.6" fill="#f9fb0e"/>
<circle cx="196.2" cy="173.5" r="2.6" fill="#f9fb0e"/>
<circle cx="176.0" cy="199.6" r="2.6" fill="#f9fb0e"/>
<circle cx="180.6" cy="202.6" r="2.6" fill="#f9fb0e"/>
<circle cx="163.1" cy="211.1" r="2.6" fill="#f9fb0e"/>
<circle cx="183.8" cy="196.6" r="2.6" fill="#f9fb0e"/>
<circle cx="183.5" cy="188.1" r="2.6" fill="#f9fb0e"/>
<circle cx="153.7" cy="174.2" r="2.6" fill="#f9fb0e"/>
<circle cx="178.0" cy="170.1" r="2.6" fill="#f9fb0e"/>
<circle cx="183.9" cy="175.5" r="2.6" fill="#f9fb0e"/>
<circle cx="188.6" cy="186.3" r="2.6" fill="#f9fb0e"/>
<circle cx="187.2" cy="179.1" r="2.6" fill="#f9fb0e"/>
<circle cx="159.5" cy="199.2" r="2.6" fill="#f9fb0e"/>
<circle cx="195.9" cy="176.5" r="2.6" fill="#f9fb0e"/>
<circle cx="154.9" cy="209.4" r="2.6" fill="#f9fb0e"/>
<circle cx="192.2" cy="204.3" r="2.6" fill="#f9fb0e"/>
<circle cx="194.1" cy="186.9" r="2.6" fill="#f9fb0e"/>
<circle cx="202.5" cy="206.4" r="2.6" fill="#f9fb0e"/>
<circle cx="192.3" cy="213.0" r="2.6" fill="#f9fb0e"/>
<circle cx="200.2" cy="194.3" r="2.6" fill="#f9fb0e"/>
<circle cx="155.9" cy="195.5" r="2.6" fill="#f9fb0e"/>
<circle cx="178.8" cy="166.8" r="2.6" fill="#f9fb0e"/>
<circle cx="169.3" cy="207.0" r="2.6" fill="#f9fb0e"/>
<circle cx="185.5" cy="212.5" r="2.6" fill="#f9fb0e"/>
<circle cx="192.3" cy="175.3" r="2.6" fill="#f9fb0e"/>
<circle cx="190.1" cy="168.3" r="2.6" fill="#f9fb0e"/>
<circle cx="198.2" cy="180.7" r="2.6" fill="#f9fb0e"/>
<circle cx="203.5" cy="168.4" r="2.6" fill="#f9fb0e"/>
<circle cx="191.6" cy="171.1" r="2.6" fill="#f9fb0e"/>
<circle cx="197.9" cy="206.9" r="2.6" fill="#f9fb0e"/>
<circle cx="179.6" cy="194.2" r="2.6" fill="#f9fb0e"/>
<circle cx="164.4" cy="184.2" r="2.6" fill="#f9fb0e"/>
<circle cx="160.7" cy="185.7" r="2.6" fill="#f9fb0e"/>
<circle cx="160.2" cy="197.7" r="2.6" fill="#f9fb0e"/>
<circle cx="178.6" cy="183.8" r="2.6" fill="#f9fb0e"/>
<circle cx="171.0" cy="213.6" r="2.6" fill="#f9fb0e"/>
<circle cx="202.3" cy="215.0" r="2.6" fill="#f9fb0e"/>
<circle cx="171.9" cy="170.1" r="2.6" fill="#f9fb0e"/>
<circle cx="161.5" cy="209.0" r="2.6" fill="#f9fb0e"/>
<circle cx="171.2" cy="173.4" r="2.6" fill="#f9fb0e"/>
<circle cx="202.7" cy="177.2" r="2.6" fill="#f9fb0e"/>
<circle cx="182.1" cy="186.7" r="2.6" fill="#f9fb0e"/>
<circle cx="160.2" cy="184.6" r="2.6" fill="#f9fb0e"/>
<circle cx="194.0" cy="193.2" r="2.6" fill="#f9fb0e"/>
<circle cx="197.6" cy="166.8" r="2.6" fill="#f9fb0e"/>
<circle cx="158.6" cy="187.6" r="2.6" fill="#f9fb0e"/>
<circle cx="186.4" cy="186.6" r="2.6" fill="#f9fb0e"/>
<circle cx="167.4" cy="206.7" r="2.6" fill="#f9fb0e"/>
<circle cx="197.3" cy="198.5" r="2.6" fill="#f9fb0e"/>
<circle cx="159.9" cy="203.0" r="2.6" fill="#f9fb0e"/>
<circle cx="184.6" cy="202.7" r="2.6" fill="#f9fb0e"/>
<circle cx="191.3" cy="194.2" r="2.6" fill="#f9fb0e"/>
<circle cx="173.0" cy="207.9" r="2.6" fill="#f9fb0e"/>
<circle cx="201.1" cy="213.6" r="2.6" fill="#f9fb0e"/>
<circle cx="168.8" cy="176.6" r="2.6" fill="#f9fb0e"/>
<circle cx="163.0" cy="200.0" r="2.6" fill="#f9fb0e"/>
<circle cx="203.1" cy="177.9" r="2.6" fill="#f9fb0e"/>
<circle cx="176.4" cy="193.3" r="2.6" fill="#f9fb0e"/>
<circle cx="174.7" cy="193.4" r="2.6" fill="#f9fb0e"/>
<circle cx="172.3" cy="195.3" r="2.6" fill="#f9fb0e"/>
<circle cx="203.9" cy="204.2" r="2.6" fill="#f9fb0e"/>
<circle cx="203.1" cy="187.1" r="2.6" fill="#f9fb0e"/>
<circle cx="160.8" cy="176.1" r="2.6" fill="#f9fb0e"/>
<circle cx="165.0" cy="204.5" r="2.6" fill="#f9fb0e"/>
<circle cx="164.6" cy="194.1" r="2.6" fill="#f9fb0e"/>
<circle cx="201.2" cy="187.1" r="2.6" fill="#f9fb0e"/>
<circle cx="165.3" cy="210.4" r="2.6" fill="#f9fb0e"/>
<circle cx="203.9" cy="169.4" r="2.6" fill="#f9fb0e"/>
<circle cx="195.8" cy="214.7" r="2.6" fill="#f9fb0e"/>
<circle cx="168.4" cy="183.9" r="2.6" fill="#f9fb0e"/>
<circle cx="163.0" cy="176.8" r="2.6" fill="#f9fb0e"/>
<circle cx="193.0" cy="188.1" r="2.6" fill="#f9fb0e"/>
<circle cx="169.1" cy="184.2" r="2.6" fill="#f9fb0e"/>
<circle cx="200.2" cy="215.8" r="2.6" fill="#f9fb0e"/>
<circle cx="169.6" cy="179.4" r="2.6" fill="#f9fb0e"/>
<circle cx="167.0" cy="205.2" r="2.6" fill="#f9fb0e"/>
<circle cx="200.3" cy="175.6" r="2.6" fill="#f9fb0e"/>
<circle cx="158.4" cy="182.6" r="2.6" fill="#f9fb0e"/>
<circle cx="196.2" cy="208.4" r="2.6" fill="#f9fb0e"/>
<circle cx="202.4" cy="187.0" r="2.6" fill="#f9fb0e"/>
<circle cx="155.3" cy="168.3" r="2.6" fill="#f9fb0e"/>
<circle cx="194.9" cy="184.7" r="2.6" fill="#f9fb0e"/>
<circle cx="161.9" cy="180.1" r="2.6" fill="#f9fb0e"/>
<circle cx="158.2" cy="211.8" r="2.6" fill="#f9fb0e"/>
<circle cx="175.4" cy="191.2" r="2.6" fill="#f9fb0e"/>
<circle cx="163.4" cy="192.1" r="2.6" fill="#f9fb0e"/>
<circle cx="166.2" cy="213.0" r="2.6" fill="#f9fb0e"/>
<circle cx="198.0" cy="201.9" r="2.6" fill="#f9fb0e"/>
<circle cx="182.3" cy="202.5" r="2.6" fill="#f9fb0e"/>
<circle cx="157.4" cy="184.1" r="2.6" fill="#f9fb0e"/>
<circle cx="198.8" cy="205.6" r="2.6" fill="#f9fb0e"/>
<circle cx="169.4" cy="185.2" r="2.6" fill="#f9fb0e"/>
<circle cx="160.2" cy="166.0" r="2.6" fill="#f9fb0e"/>
<circle cx="202.4" cy="175.2" r="2.6" fill="#f9fb0e"/>
<circle cx="194.7" cy="174.9" r="2.6" fill="#f9fb0e"/>
<circle cx="176.7" cy="193.2" r="2.6" fill="#f9fb0e"/>
<circle cx="162.6" cy="180.1" r="2.6" fill="#f9fb0e"/>
<circle cx="160.2" cy="166.2" r="2.6" fill="#f9fb0e"/>
<circle cx="172.1" cy="208.0" r="2.6" fill="#f9fb0e"/>
<circle cx="164.4" cy="187.6" r="2.6" fill="#f9fb0e"/>
<circle cx="173.5" cy="191.8" r="2.6" fill="#f9fb0e"/>
<circle cx="164.1" cy="168.4" r="2.6" fill="#f9fb0e"/>
<circle cx="170.2" cy="215.0" r="2.6" fill="#f9fb0e"/>
<circle cx="183.2" cy="188.6" r="2.6" fill="#f9fb0e"/>
<circle cx="168.3" cy="201.8" r="2.6" fill="#f9fb0e"/>
<circle cx="160.7" cy="196.7" r="2.6" fill="#f9fb0e"/>
<circle cx="179.0" cy="169.4" r="2.6" fill="#f9fb0e"/>
<circle cx="220.0" cy="174.1" r="2.6" fill="#f9fb0e"/>
<circle cx="205.3" cy="176.8" r="2.6" fill="#f9fb0e"/>
<circle cx="211.1" cy="168.6" r="2.6" fill="#f9fb0e"/>
<circle cx="225.6" cy="179.3" r="2.6" fill="#f9fb0e"/>
<circle cx="216.7" cy="182.9" r="2.6" fill="#f9fb0e"/>
<circle cx="231.3" cy="174.8" r="2.6" fill="#f9fb0e"/>
<circle cx="220.8" cy="187.4" r="2.6" fill="#f9fb0e"/>
<circle cx="213.0" cy="176.8" r="2.6" fill="#f9fb0e"/>
<circle cx="219.6" cy="174.7" r="2.6" fill="#f9fb0e"/>
<circle cx="221.8" cy="184.9" r="2.6" fill="#f9fb0e"/>
<circle cx="231.2" cy="175.9" r="2.6" fill="#f9fb0e"/>
<circle cx="213.5" cy="184.4" r="2.6" fill="#f9fb0e"/>
<circle cx="226.1" cy="172.6" r="2.6" fill="#f9fb0e"/>
<circle cx="218.3" cy="171.9" r="2.6" fill="#f9fb0e"/>
<circle cx="220.7" cy="171.0" r="2.6" fill="#f9fb0e"/>
<circle cx="207.1" cy="172.4" r="2.6" fill="#f9fb0e"/>
<circle cx="207.6" cy="173.2" r="2.6" fill="#f9fb0e"/>
<circle cx="214.9" cy="173.5" r="2.6" fill="#f9fb0e"/>
<circle cx="232.9" cy="184.3" r="2.6" fill="#f9fb0e"/>
<circle cx="212.8" cy="187.7" r="2.6" fill="#f9fb0e"/>
<circle cx="219.5" cy="166.4" r="2.6" fill="#f9fb0e"/>
<circle cx="219.1" cy="168.0" r="2.6" fill="#f9fb0e"/>
<circle cx="213.2" cy="189.1" r="2.6" fill="#f9fb0e"/>
<circle cx="220.9" cy="189.6" r="2.6" fill="#f9fb0e"/>
<circle cx="218.3" cy="174.0" r="2.6" fill="#f9fb0e"/>
<circle cx="211.9" cy="171.9" r="2.6" fill="#f9fb0e"/>
<circle cx="228.1" cy="180.2" r="2.6" fill="#f9fb0e"/>
<circle cx="230.8" cy="177.5" r="2.6" fill="#f9fb0e"/>
<circle cx="231.1" cy="187.6" r="2.6" fill="#f9fb0e"/>
<circle cx="207.2" cy="182.0" r="2.6" fill="#f9fb0e"/>
<circle cx="207.2" cy="174.5" r="2.6" fill="#f9fb0e"/>
<circle cx="208.8" cy="181.2" r="2.6" fill="#f9fb0e"/>
<circle cx="208.7" cy="168.1" r="2.6" fill="#f9fb0e"/>
<circle cx="227.1" cy="182.3" r="2.6" fill="#f9fb0e"/>
<circle cx="230.4" cy="187.8" r="2.6" fill="#f9fb0e"/>
<circle cx="226.4" cy="185.9" r="2.6" fill="#f9fb0e"/>
<circle cx="213.7" cy="177.0" r="2.6" fill="#f9fb0e"/>
<circle cx="221.4" cy="175.5" r="2.6" fill="#f9fb0e"/>
<circle cx="218.9" cy="177.6" r="2.6" fill="#f9fb0e"/>
<circle cx="220.5" cy="166.9" r="2.6" fill="#f9fb0e"/>
<circle cx="209.5" cy="184.5" r="2.6" fill="#f9fb0e"/>
<circle cx="231.0" cy="195.4" r="2.6" fill="#f9fb0e"/>
<circle cx="208.4" cy="196.1" r="2.6" fill="#f9fb0e"/>
<circle cx="231.4" cy="201.5" r="2.6" fill="#f9fb0e"/>
<circle cx="234.4" cy="202.9" r="2.6" fill="#f9fb0e"/>
<circle cx="208.5" cy="209.9" r="2.6" fill="#f9fb0e"/>
<circle cx="208.6" cy="208.1" r="2.6" fill="#f9fb0e"/>
<circle cx="234.9" cy="209.4" r="2.6" fill="#f9fb0e"/>
<circle cx="229.4" cy="201.1" r="2.6" fill="#f9fb0e"/>
<circle cx="206.9" cy="195.9" r="2.6" fill="#f9fb0e"/>
<circle cx="230.8" cy="210.5" r="2.6" fill="#f9fb0e"/>
<circle cx="222.2" cy="195.2" r="2.6" fill="#f9fb0e"/>
<circle cx="219.3" cy="211.3" r="2.6" fill="#f9fb0e"/>
<circle cx="208.3" cy="213.5" r="2.6" fill="#f9fb0e"/>
<circle cx="207.3" cy="208.8" r="2.6" fill="#f9fb0e"/>
<circle cx="205.5" cy="212.2" r="2.6" fill="#f9fb0e"/>
<circle cx="214.4" cy="204.3" r="2.6" fill="#f9fb0e"/>
<circle cx="206.3" cy="207.3" r="2.6" fill="#f9fb0e"/>
<circle cx="234.9" cy="197.9" r="2.6" fill="#f9fb0e"/>
<circle cx="230.1" cy="193.9" r="2.6" fill="#f9fb0e"/>
<circle cx="206.1" cy="207.3" r="2.6" fill="#f9fb0e"/>
<circle cx="213.1" cy="208.6" r="2.6" fill="#f9fb0e"/>
<circle cx="207.0" cy="193.5" r="2.6" fill="#f9fb0e"/>
<circle cx="214.5" cy="203.5" r="2.6" fill="#f9fb0e"/>
<circle cx="212.2" cy="193.3" r="2.6" fill="#f9fb0e"/>
<circle cx="208.4" cy="199.5" r="2.6" fill="#f9fb0e"/>
<circle cx="236.1" cy="193.1" r="2.6" fill="#f9fb0e"/>
<circle cx="235.5" cy="192.0" r="2.6" fill="#f9fb0e"/>
<circle cx="240.7" cy="168.0" r="2.6" fill="#f9fb0e"/>
<circle cx="235.4" cy="195.1" r="2.6" fill="#f9fb0e"/>
<circle cx="247.8" cy="175.0" r="2.6" fill="#f9fb0e"/>
<circle cx="245.3" cy="170.3" r="2.6" fill="#f9fb0e"/>
<circle cx="243.4" cy="206.8" r="2.6" fill="#f9fb0e"/>
<circle cx="238.4" cy="189.2" r="2.6" fill="#f9fb0e"/>
<circle cx="251.3" cy="179.4" r="2.6" fill="#f9fb0e"/>
<circle cx="249.1" cy="169.9" r="2.6" fill="#f9fb0e"/>
<circle cx="239.9" cy="204.8" r="2.6" fill="#f9fb0e"/>
<circle cx="250.6" cy="180.5" r="2.6" fill="#f9fb0e"/>
<circle cx="242.4" cy="182.6" r="2.6" fill="#f9fb0e"/>
<circle cx="238.5" cy="182.5" r="2.6" fill="#f9fb0e"/>
<circle cx="250.1" cy="194.7" r="2.6" fill="#f9fb0e"/>
<circle cx="250.2" cy="194.5" r="2.6" fill="#f9fb0e"/>
<circle cx="247.2" cy="193.7" r="2.6" fill="#f9fb0e"/>
<circle cx="238.8" cy="190.5" r="2.6" fill="#f9fb0e"/>
<circle cx="241.2" cy="177.4" r="2.6" fill="#f9fb0e"/>
<circle cx="240.7" cy="212.0" r="2.6" fill="#f9fb0e"/>
<circle cx="252.3" cy="214.4" r="2.6" fill="#f9fb0e"/>
<circle cx="244.8" cy="179.8" r="2.6" fill="#f9fb0e"/>
<circle cx="261.0" cy="171.6" r="2.6" fill="#f9fb0e"/>
<circle cx="274.2" cy="182.4" r="2.6" fill="#f9fb0e"/>
<circle cx="270.3" cy="175.9" r="2.6" fill="#f9fb0e"/>
<circle cx="263.7" cy="180.0" r="2.6" fill="#f9fb0e"/>
<circle cx="272.6" cy="179.6" r="2.6" fill="#f9fb0e"/>
<circle cx="273.8" cy="177.5" r="2.6" fill="#f9fb0e"/>
<circle cx="271.5" cy="177.5" r="2.6" fill="#f9fb0e"/>
<circle cx="265.1" cy="181.6" r="2.6" fill="#f9fb0e"/>
<circle cx="262.8" cy="182.0" r="2.6" fill="#f9fb0e"/>
<circle cx="258.7" cy="184.5" r="2.6" fill="#f9fb0e"/>
<circle cx="269.1" cy="169.7" r="2.6" fill="#f9fb0e"/>
<circle cx="268.1" cy="171.5" r="2.6" fill="#f9fb0e"/>
<circle cx="255.1" cy="168.5" r="2.6" fill="#f9fb0e"/>
<circle cx="262.5" cy="184.0" r="2.6" fill="#f9fb0e"/>
<circle cx="258.2" cy="176.3" r="2.6" fill="#f9fb0e"/>
<circle cx="262.7" cy="169.2" r="2.6" fill="#f9fb0e"/>
<circle cx="268.3" cy="171.8" r="2.6" fill="#f9fb0e"/>
<circle cx="254.0" cy="182.1" r="2.6" fill="#f9fb0e"/>
<circle cx="269.8" cy="166.9" r="2.6" fill="#f9fb0e"/>
<circle cx="263.0" cy="172.1" r="2.6" fill="#f9fb0e"/>
<circle cx="267.4" cy="172.0" r="2.6" fill="#f9fb0e"/>
<circle cx="268.4" cy="166.9" r="2.6" fill="#f9fb0e"/>
<circle cx="273.0" cy="178.3" r="2.6" fill="#f9fb0e"/>
<circle cx="261.8" cy="181.5" r="2.6" fill="#f9fb0e"/>
<circle cx="259.7" cy="190.6" r="2.6" fill="#f9fb0e"/>
<circle cx="253.8" cy="196.5" r="2.6" fill="#f9fb0e"/>
<circle cx="267.5" cy="200.6" r="2.6" fill="#f9fb0e"/>
<circle cx="263.9" cy="200.0" r="2.6" fill="#f9fb0e"/>
<circle cx="273.0" cy="188.7" r="2.6" fill="#f9fb0e"/>
<circle cx="265.3" cy="196.1" r="2.6" fill="#f9fb0e"/>
<circle cx="265.7" cy="193.8" r="2.6" fill="#f9fb0e"/>
<circle cx="268.9" cy="192.1" r="2.6" fill="#f9fb0e"/>
<circle cx="263.6" cy="190.1" r="2.6" fill="#f9fb0e"/>
<circle cx="272.5" cy="199.4" r="2.6" fill="#f9fb0e"/>
<circle cx="263.3" cy="197.5" r="2.6" fill="#f9fb0e"/>
<circle cx="273.4" cy="196.0" r="2.6" fill="#f9fb0e"/>
<circle cx="274.5" cy="195.6" r="2.6" fill="#f9fb0e"/>
<circle cx="268.1" cy="192.2" r="2.6" fill="#f9fb0e"/>
<circle cx="269.6" cy="196.9" r="2.6" fill="#f9fb0e"/>
<circle cx="269.9" cy="204.9" r="2.6" fill="#f9fb0e"/>
<circle cx="258.5" cy="214.6" r="2.6" fill="#f9fb0e"/>
<circle cx="264.7" cy="207.0" r="2.6" fill="#f9fb0e"/>
<circle cx="262.6" cy="203.8" r="2.6" fill="#f9fb0e"/>
<circle cx="273.2" cy="203.5" r="2.6" fill="#f9fb0e"/>
<circle cx="287.8" cy="204.8" r="2.6" fill="#f9fb0e"/>
<circle cx="277.8" cy="207.3" r="2.6" fill="#f9fb0e"/>
<circle cx="284.6" cy="204.0" r="2.6" fill="#f9fb0e"/>
<circle cx="270.2" cy="205.2" r="2.6" fill="#f9fb0e"/>
<circle cx="281.9" cy="207.6" r="2.6" fill="#f9fb0e"/>
<circle cx="271.6" cy="206.7" r="2.6" fill="#f9fb0e"/>
<circle cx="275.6" cy="212.5" r="2.6" fill="#f9fb0e"/>
<circle cx="285.0" cy="203.3" r="2.6" fill="#f9fb0e"/>
<circle cx="287.5" cy="204.4" r="2.6" fill="#f9fb0e"/>
<circle cx="278.4" cy="208.5" r="2.6" fill="#f9fb0e"/>
<circle cx="270.6" cy="204.4" r="2.6" fill="#f9fb0e"/>
<circle cx="285.6" cy="211.9" r="2.6" fill="#f9fb0e"/>
<circle cx="286.6" cy="215.6" r="2.6" fill="#f9fb0e"/>
<circle cx="288.7" cy="206.9" r="2.6" fill="#f9fb0e"/>
<circle cx="285.5" cy="173.9" r="2.6" fill="#f9fb0e"/>
<circle cx="278.6" cy="175.1" r="2.6" fill="#f9fb0e"/>
<circle cx="289.6" cy="173.1" r="2.6" fill="#f9fb0e"/>
<circle cx="287.5" cy="185.0" r="2.6" fill="#f9fb0e"/>
<circle cx="288.5" cy="186.3" r="2.6" fill="#f9fb0e"/>
<circle cx="279.9" cy="192.1" r="2.6" fill="#f9fb0e"/>
<circle cx="284.8" cy="189.6" r="2.6" fill="#f9fb0e"/>
<circle cx="288.3" cy="196.9" r="2.6" fill="#f9fb0e"/>
<circle cx="283.4" cy="200.1" r="2.6" fill="#f9fb0e"/>
<circle cx="281.4" cy="187.7" r="2.6" fill="#f9fb0e"/>
<circle cx="290.7" cy="185.9" r="2.6" fill="#f9fb0e"/>
<circle cx="277.1" cy="199.4" r="2.6" fill="#f9fb0e"/>
<circle cx="286.0" cy="186.0" r="2.6" fill="#f9fb0e"/>
<circle cx="287.9" cy="195.0" r="2.6" fill="#f9fb0e"/>
<circle cx="282.2" cy="191.2" r="2.6" fill="#f9fb0e"/>
<circle cx="290.2" cy="191.5" r="2.6" fill="#f9fb0e"/>
<circle cx="276.7" cy="189.0" r="2.6" fill="#f9fb0e"/>
<circle cx="279.9" cy="202.0" r="2.6" fill="#f9fb0e"/>
<circle cx="282.0" cy="188.0" r="2.6" fill="#f9fb0e"/>
<circle cx="287.2" cy="197.1" r="2.6" fill="#f9fb0e"/>
<circle cx="276.3" cy="195.0" r="2.6" fill="#f9fb0e"/>
<circle cx="289.9" cy="192.5" r="2.6" fill="#f9fb0e"/>
<circle cx="279.4" cy="201.3" r="2.6" fill="#f9fb0e"/>
<circle cx="276.0" cy="190.2" r="2.6" fill="#f9fb0e"/>
<circle cx="278.2" cy="191.9" r="2.6" fill="#f9fb0e"/>
<circle cx="281.4" cy="200.0" r="2.6" fill="#f9fb0e"/>
<circle cx="276.2" cy="189.6" r="2.6" fill="#f9fb0e"/>
<circle cx="279.6" cy="180.7" r="2.6" fill="#f9fb0e"/>
<circle cx="288.5" cy="194.2" r="2.6" fill="#f9fb0e"/>
<circle cx="312.8" cy="192.6" r="2.6" fill="#f9fb0e"/>
<circle cx="318.7" cy="169.0" r="2.6" fill="#f9fb0e"/>
<circle cx="311.4" cy="167.7" r="2.6" fill="#f9fb0e"/>
<circle cx="297.1" cy="208.5" r="2.6" fill="#f9fb0e"/>
<circle cx="339.4" cy="180.8" r="2.6" fill="#f9fb0e"/>
<circle cx="292.1" cy="210.1" r="2.6" fill="#f9fb0e"/>
<circle cx="295.2" cy="178.2" r="2.6" fill="#f9fb0e"/>
<circle cx="343.6" cy="194.7" r="2.6" fill="#f9fb0e"/>
<circle cx="318.2" cy="205.0" r="2.6" fill="#f9fb0e"/>
<circle cx="347.9" cy="194.9" r="2.6" fill="#f9fb0e"/>
<circle cx="348.1" cy="169.4" r="2.6" fill="#f9fb0e"/>
<circle cx="323.2" cy="200.3" r="2.6" fill="#f9fb0e"/>
<circle cx="343.5" cy="189.8" r="2.6" fill="#f9fb0e"/>
<circle cx="330.0" cy="180.4" r="2.6" fill="#f9fb0e"/>
<circle cx="336.3" cy="194.9" r="2.6" fill="#f9fb0e"/>
<circle cx="352.4" cy="192.4" r="2.6" fill="#f9fb0e"/>
<circle cx="302.9" cy="205.7" r="2.6" fill="#f9fb0e"/>
<circle cx="319.0" cy="172.5" r="2.6" fill="#f9fb0e"/>
<circle cx="350.7" cy="190.8" r="2.6" fill="#f9fb0e"/>
<circle cx="301.4" cy="176.1" r="2.6" fill="#f9fb0e"/>
<circle cx="306.8" cy="212.3" r="2.6" fill="#f9fb0e"/>
<circle cx="341.4" cy="167.7" r="2.6" fill="#f9fb0e"/>
<circle cx="334.4" cy="182.4" r="2.6" fill="#f9fb0e"/>
<circle cx="318.1" cy="203.1" r="2.6" fill="#f9fb0e"/>
<circle cx="309.2" cy="180.6" r="2.6" fill="#f9fb0e"/>
<circle cx="348.7" cy="205.4" r="2.6" fill="#f9fb0e"/>
<circle cx="342.5" cy="203.2" r="2.6" fill="#f9fb0e"/>
<circle cx="350.5" cy="203.7" r="2.6" fill="#f9fb0e"/>
<circle cx="337.2" cy="180.6" r="2.6" fill="#f9fb0e"/>
<circle cx="334.7" cy="212.9" r="2.6" fill="#f9fb0e"/>
<circle cx="326.4" cy="201.9" r="2.6" fill="#f9fb0e"/>
<circle cx="301.9" cy="189.3" r="2.6" fill="#f9fb0e"/>
<circle cx="323.8" cy="202.5" r="2.6" fill="#f9fb0e"/>
<circle cx="323.2" cy="177.8" r="2.6" fill="#f9fb0e"/>
<circle cx="352.1" cy="190.2" r="2.6" fill="#f9fb0e"/>
<circle cx="298.3" cy="208.1" r="2.6" fill="#f9fb0e"/>
<circle cx="313.7" cy="213.6" r="2.6" fill="#f9fb0e"/>
<circle cx="292.9" cy="204.1" r="2.6" fill="#f9fb0e"/>
<circle cx="333.1" cy="201.8" r="2.6" fill="#f9fb0e"/>
<circle cx="293.3" cy="191.2" r="2.6" fill="#f9fb0e"/>
<circle cx="322.3" cy="181.0" r="2.6" fill="#f9fb0e"/>
<circle cx="296.5" cy="196.7" r="2.6" fill="#f9fb0e"/>
<circle cx="313.7" cy="215.3" r="2.6" fill="#f9fb0e"/>
<circle cx="305.5" cy="185.5" r="2.6" fill="#f9fb0e"/>
<circle cx="331.8" cy="172.7" r="2.6" fill="#f9fb0e"/>
<circle cx="300.3" cy="170.4" r="2.6" fill="#f9fb0e"/>
<circle cx="343.6" cy="205.3" r="2.6" fill="#f9fb0e"/>
<circle cx="298.3" cy="180.0" r="2.6" fill="#f9fb0e"/>
<circle cx="332.1" cy="168.9" r="2.6" fill="#f9fb0e"/>
<circle cx="294.8" cy="175.4" r="2.6" fill="#f9fb0e"/>
<circle cx="339.2" cy="178.4" r="2.6" fill="#f9fb0e"/>
<circle cx="337.3" cy="174.2" r="2.6" fill="#f9fb0e"/>
<circle cx="330.3" cy="199.7" r="2.6" fill="#f9fb0e"/>
<circle cx="330.6" cy="174.7" r="2.6" fill="#f9fb0e"/>
<circle cx="319.9" cy="178.6" r="2.6" fill="#f9fb0e"/>
<circle cx="311.0" cy="182.6" r="2.6" fill="#f9fb0e"/>
<circle cx="347.4" cy="175.3" r="2.6" fill="#f9fb0e"/>
<circle cx="315.5" cy="205.1" r="2.6" fill="#f9fb0e"/>
<circle cx="295.9" cy="204.9" r="2.6" fill="#f9fb0e"/>
<circle cx="347.1" cy="197.0" r="2.6" fill="#f9fb0e"/>
<circle cx="348.4" cy="188.7" r="2.6" fill="#f9fb0e"/>
<circle cx="339.3" cy="215.8" r="2.6" fill="#f9fb0e"/>
<circle cx="321.7" cy="188.7" r="2.6" fill="#f9fb0e"/>
<circle cx="350.1" cy="200.8" r="2.6" fill="#f9fb0e"/>
<circle cx="322.3" cy="185.8" r="2.6" fill="#f9fb0e"/>
<circle cx="335.5" cy="214.6" r="2.6" fill="#f9fb0e"/>
<circle cx="322.2" cy="189.2" r="2.6" fill="#f9fb0e"/>
<circle cx="322.5" cy="168.0" r="2.6" fill="#f9fb0e"/>
<circle cx="342.1" cy="202.2" r="2.6" fill="#f9fb0e"/>
<circle cx="329.9" cy="200.9" r="2.6" fill="#f9fb0e"/>
<circle cx="341.1" cy="187.7" r="2.6" fill="#f9fb0e"/>
<circle cx="326.5" cy="178.0" r="2.6" fill="#f9fb0e"/>
<circle cx="325.5" cy="198.5" r="2.6" fill="#f9fb0e"/>
<circle cx="325.9" cy="175.8" r="2.6" fill="#f9fb0e"/>
<circle cx="308.2" cy="168.0" r="2.6" fill="#f9fb0e"/>
<circle cx="317.1" cy="194.9" r="2.6" fill="#f9fb0e"/>
<circle cx="312.9" cy="199.5" r="2.6" fill="#f9fb0e"/>
<circle cx="314.8" cy="189.5" r="2.6" fill="#f9fb0e"/>
<circle cx="303.5" cy="192.6" r="2.6" fill="#f9fb0e"/>
<circle cx="304.4" cy="177.0" r="2.6" fill="#f9fb0e"/>
<circle cx="317.6" cy="197.8" r="2.6" fill="#f9fb0e"/>
<circle cx="322.9" cy="177.4" r="2.6" fill="#f9fb0e"/>
<circle cx="326.4" cy="201.1" r="2.6" fill="#f9fb0e"/>
<circle cx="304.2" cy="172.0" r="2.6" fill="#f9fb0e"/>
<circle cx="344.8" cy="183.1" r="2.6" fill="#f9fb0e"/>
<circle cx="325.8" cy="190.4" r="2.6" fill="#f9fb0e"/>
<circle cx="322.7" cy="181.7" r="2.6" fill="#f9fb0e"/>
<circle cx="300.4" cy="200.9" r="2.6" fill="#f9fb0e"/>
<circle cx="333.1" cy="212.8" r="2.6" fill="#f9fb0e"/>
<circle cx="321.9" cy="208.5" r="2.6" fill="#f9fb0e"/>
<circle cx="322.2" cy="215.4" r="2.6" fill="#f9fb0e"/>
<circle cx="301.4" cy="181.0" r="2.6" fill="#f9fb0e"/>
<circle cx="338.7" cy="187.1" r="2.6" fill="#f9fb0e"/>
<circle cx="325.9" cy="210.3" r="2.6" fill="#f9fb0e"/>
<circle cx="304.2" cy="169.3" r="2.6" fill="#f9fb0e"/>
<circle cx="292.1" cy="196.9" r="2.6" fill="#f9fb0e"/>
<circle cx="349.6" cy="178.0" r="2.6" fill="#f9fb0e"/>
<circle cx="322.3" cy="187.4" r="2.6" fill="#f9fb0e"/>
<circle cx="321.6" cy="207.2" r="2.6" fill="#f9fb0e"/>
<circle cx="345.9" cy="195.2" r="2.6" fill="#f9fb0e"/>
<circle cx="320.3" cy="211.4" r="2.6" fill="#f9fb0e"/>
<circle cx="318.5" cy="181.2" r="2.6" fill="#f9fb0e"/>
<circle cx="320.7" cy="199.1" r="2.6" fill="#f9fb0e"/>
<circle cx="305.5" cy="203.3" r="2.6" fill="#f9fb0e"/>
<circle cx="314.2" cy="169.0" r="2.6" fill="#f9fb0e"/>
<circle cx="334.3" cy="210.3" r="2.6" fill="#f9fb0e"/>
<circle cx="347.4" cy="215.1" r="2.6" fill="#f9fb0e"/>
<circle cx="294.0" cy="214.7" r="2.6" fill="#f9fb0e"/>
<circle cx="346.8" cy="210.5" r="2.6" fill="#f9fb0e"/>
<circle cx="291.5" cy="199.6" r="2.6" fill="#f9fb0e"/>
<circle cx="303.2" cy="211.0" r="2.6" fill="#f9fb0e"/>
<circle cx="308.1" cy="168.9" r="2.6" fill="#f9fb0e"/>
<circle cx="327.4" cy="200.6" r="2.6" fill="#f9fb0e"/>
<circle cx="324.1" cy="186.6" r="2.6" fill="#f9fb0e"/>
<circle cx="295.2" cy="202.2" r="2.6" fill="#f9fb0e"/>
<circle cx="291.5" cy="195.0" r="2.6" fill="#f9fb0e"/>
<circle cx="297.1" cy="188.8" r="2.6" fill="#f9fb0e"/>
<circle cx="327.1" cy="178.3" r="2.6" fill="#f9fb0e"/>
<circle cx="337.8" cy="178.8" r="2.6" fill="#f9fb0e"/>
<circle cx="344.7" cy="185.6" r="2.6" fill="#f9fb0e"/>
<circle cx="333.6" cy="188.6" r="2.6" fill="#f9fb0e"/>
<circle cx="310.8" cy="170.6" r="2.6" fill="#f9fb0e"/>
<circle cx="328.9" cy="168.6" r="2.6" fill="#f9fb0e"/>
<circle cx="320.0" cy="186.3" r="2.6" fill="#f9fb0e"/>
<circle cx="309.1" cy="178.6" r="2.6" fill="#f9fb0e"/>
<circle cx="321.2" cy="210.1" r="2.6" fill="#f9fb0e"/>
<circle cx="340.2" cy="181.4" r="2.6" fill="#f9fb0e"/>
<circle cx="327.9" cy="197.5" r="2.6" fill="#f9fb0e"/>
<circle cx="335.8" cy="197.3" r="2.6" fill="#f9fb0e"/>
<circle cx="294.9" cy="173.2" r="2.6" fill="#f9fb0e"/>
<circle cx="339.9" cy="179.1" r="2.6" fill="#f9fb0e"/>
<circle cx="326.2" cy="168.7" r="2.6" fill="#f9fb0e"/>
<circle cx="327.0" cy="180.4" r="2.6" fill="#f9fb0e"/>
<circle cx="293.6" cy="166.7" r="2.6" fill="#f9fb0e"/>
<circle cx="305.8" cy="191.8" r="2.6" fill="#f9fb0e"/>
<circle cx="337.6" cy="167.5" r="2.6" fill="#f9fb0e"/>
<circle cx="322.5" cy="182.8" r="2.6" fill="#f9fb0e"/>
<circle cx="328.6" cy="201.1" r="2.6" fill="#f9fb0e"/>
<circle cx="296.2" cy="178.4" r="2.6" fill="#f9fb0e"/>
<circle cx="344.9" cy="199.2" r="2.6" fill="#f9fb0e"/>
<circle cx="301.3" cy="192.9" r="2.6" fill="#f9fb0e"/>
<circle cx="313.5" cy="173.7" r="2.6" fill="#f9fb0e"/>
<circle cx="316.2" cy="192.5" r="2.6" fill="#f9fb0e"/>
<circle cx="331.7" cy="210.2" r="2.6" fill="#f9fb0e"/>
<circle cx="308.0" cy="215.4" r="2.6" fill="#f9fb0e"/>
<circle cx="313.8" cy="198.4" r="2.6" fill="#f9fb0e"/>
<circle cx="315.5" cy="188.4" r="2.6" fill="#f9fb0e"/>
<circle cx="333.6" cy="203.1" r="2.6" fill="#f9fb0e"/>
<circle cx="295.2" cy="167.1" r="2.6" fill="#f9fb0e"/>
<circle cx="312.5" cy="181.9" r="2.6" fill="#f9fb0e"/>
<circle cx="318.6" cy="213.3" r="2.6" fill="#f9fb0e"/>
<circle cx="309.7" cy="177.4" r="2.6" fill="#f9fb0e"/>
<circle cx="317.7" cy="182.6" r="2.6" fill="#f9fb0e"/>
<circle cx="316.5" cy="192.3" r="2.6" fill="#f9fb0e"/>
<circle cx="298.0" cy="203.8" r="2.6" fill="#f9fb0e"/>
<circle cx="330.3" cy="203.7" r="2.6" fill="#f9fb0e"/>
<circle cx="318.3" cy="174.8" r="2.6" fill="#f9fb0e"/>
<circle cx="337.0" cy="209.6" r="2.6" fill="#f9fb0e"/>
<circle cx="346.3" cy="202.1" r="2.6" fill="#f9fb0e"/>
<circle cx="298.8" cy="180.7" r="2.6" fill="#f9fb0e"/>
<circle cx="333.8" cy="168.0" r="2.6" fill="#f9fb0e"/>
<circle cx="308.6" cy="185.3" r="2.6" fill="#f9fb0e"/>
<circle cx="340.4" cy="167.4" r="2.6" fill="#f9fb0e"/>
<circle cx="308.0" cy="197.9" r="2.6" fill="#f9fb0e"/>
<circle cx="291.3" cy="181.4" r="2.6" fill="#f9fb0e"/>
<circle cx="336.6" cy="189.3" r="2.6" fill="#f9fb0e"/>
<circle cx="337.0" cy="178.3" r="2.6" fill="#f9fb0e"/>
<circle cx="335.2" cy="173.8" r="2.6" fill="#f9fb0e"/>
<circle cx="330.0" cy="205.5" r="2.6" fill="#f9fb0e"/>
<circle cx="294.9" cy="180.0" r="2.6" fill="#f9fb0e"/>
<circle cx="311.5" cy="210.2" r="2.6" fill="#f9fb0e"/>
<circle cx="295.3" cy="186.6" r="2.6" fill="#f9fb0e"/>
<circle cx="352.7" cy="170.6" r="2.6" fill="#f9fb0e"/>
<circle cx="350.2" cy="169.6" r="2.6" fill="#f9fb0e"/>
<circle cx="324.7" cy="188.5" r="2.6" fill="#f9fb0e"/>
<circle cx="333.4" cy="180.3" r="2.6" fill="#f9fb0e"/>
<circle cx="320.2" cy="209.3" r="2.6" fill="#f9fb0e"/>
<circle cx="301.1" cy="210.8" r="2.6" fill="#f9fb0e"/>
<circle cx="296.9" cy="174.7" r="2.6" fill="#f9fb0e"/>
<circle cx="304.9" cy="192.9" r="2.6" fill="#f9fb0e"/>
<circle cx="310.2" cy="189.5" r="2.6" fill="#f9fb0e"/>
<circle cx="294.7" cy="181.1" r="2.6" fill="#f9fb0e"/>
<circle cx="291.3" cy="172.1" r="2.6" fill="#f9fb0e"/>
<circle cx="331.8" cy="193.9" r="2.6" fill="#f9fb0e"/>
<circle cx="319.7" cy="167.3" r="2.6" fill="#f9fb0e"/>
<circle cx="338.0" cy="170.9" r="2.6" fill="#f9fb0e"/>
<circle cx="334.3" cy="186.3" r="2.6" fill="#f9fb0e"/>
<circle cx="345.1" cy="170.9" r="2.6" fill="#f9fb0e"/>
<circle cx="312.8" cy="168.1" r="2.6" fill="#f9fb0e"/>
<circle cx="349.1" cy="196.8" r="2.6" fill="#f9fb0e"/>
<circle cx="312.0" cy="174.1" r="2.6" fill="#f9fb0e"/>
<circle cx="346.2" cy="183.8" r="2.6" fill="#f9fb0e"/>
<circle cx="298.8" cy="189.4" r="2.6" fill="#f9fb0e"/>
<circle cx="313.5" cy="206.9" r="2.6" fill="#f9fb0e"/>
<circle cx="294.7" cy="204.3" r="2.6" fill="#f9fb0e"/>
<circle cx="346.1" cy="169.0" r="2.6" fill="#f9fb0e"/>
<circle cx="333.1" cy="202.3" r="2.6" fill="#f9fb0e"/>
<circle cx="338.0" cy="209.4" r="2.6" fill="#f9fb0e"/>
<circle cx="320.0" cy="198.3" r="2.6" fill="#f9fb0e"/>
<circle cx="327.4" cy="188.1" r="2.6" fill="#f9fb0e"/>
<circle cx="299.3" cy="193.1" r="2.6" fill="#f9fb0e"/>
<circle cx="323.7" cy="183.3" r="2.6" fill="#f9fb0e"/>
<circle cx="167.3" cy="224.7" r="2.6" fill="#f9fb0e"/>
<circle cx="177.4" cy="217.1" r="2.6" fill="#f9fb0e"/>
<circle cx="155.2" cy="217.8" r="2.6" fill="#f9fb0e"/>
<circle cx="172.1" cy="221.0" r="2.6" fill="#f9fb0e"/>
<circle cx="158.2" cy="222.2" r="2.6" fill="#f9fb0e"/>
<circle cx="163.2" cy="218.6" r="2.6" fill="#f9fb0e"/>
<circle cx="156.6" cy="222.5" r="2.6" fill="#f9fb0e"/>
<circle cx="161.0" cy="216.4" r="2.6" fill="#f9fb0e"/>
<circle cx="181.7" cy="218.0" r="2.6" fill="#f9fb0e"/>
<circle cx="178.8" cy="214.7" r="2.6" fill="#f9fb0e"/>
<circle cx="169.1" cy="221.7" r="2.6" fill="#f9fb0e"/>
<circle cx="175.5" cy="219.6" r="2.6" fill="#f9fb0e"/>
<circle cx="158.5" cy="220.5" r="2.6" fill="#f9fb0e"/>
<circle cx="181.3" cy="217.5" r="2.6" fill="#f9fb0e"/>
<circle cx="166.0" cy="222.0" r="2.6" fill="#f9fb0e"/>
<circle cx="164.3" cy="221.8" r="2.6" fill="#f9fb0e"/>
<circle cx="166.4" cy="216.0" r="2.6" fill="#f9fb0e"/>
<circle cx="168.3" cy="214.7" r="2.6" fill="#f9fb0e"/>
<circle cx="155.6" cy="219.2" r="2.6" fill="#f9fb0e"/>
<circle cx="163.9" cy="223.6" r="2.6" fill="#f9fb0e"/>
<circle cx="154.7" cy="218.2" r="2.6" fill="#f9fb0e"/>
<circle cx="172.3" cy="220.8" r="2.6" fill="#f9fb0e"/>
<circle cx="172.8" cy="220.9" r="2.6" fill="#f9fb0e"/>
<circle cx="183.9" cy="216.7" r="2.6" fill="#f9fb0e"/>
<circle cx="169.2" cy="214.9" r="2.6" fill="#f9fb0e"/>
<circle cx="177.4" cy="220.6" r="2.6" fill="#f9fb0e"/>
<circle cx="183.9" cy="215.4" r="2.6" fill="#f9fb0e"/>
<circle cx="170.2" cy="217.2" r="2.6" fill="#f9fb0e"/>
<circle cx="166.4" cy="225.1" r="2.6" fill="#f9fb0e"/>
<circle cx="160.4" cy="215.6" r="2.6" fill="#f9fb0e"/>
<circle cx="165.9" cy="217.3" r="2.6" fill="#f9fb0e"/>
<circle cx="177.6" cy="222.6" r="2.6" fill="#f9fb0e"/>
<circle cx="161.4" cy="224.1" r="2.6" fill="#f9fb0e"/>
<circle cx="160.5" cy="214.8" r="2.6" fill="#f9fb0e"/>
<circle cx="124.7" cy="155.7" r="2.6" fill="#f9fb0e"/>
<circle cx="133.5" cy="134.5" r="2.6" fill="#f9fb0e"/>
<circle cx="140.9" cy="135.1" r="2.6" fill="#f9fb0e"/>
<circle cx="128.5" cy="136.0" r="2.6" fill="#f9fb0e"/>
<circle cx="141.7" cy="148.2" r="2.6" fill="#f9fb0e"/>
<circle cx="118.5" cy="156.2" r="2.6" fill="#f9fb0e"/>
<circle cx="124.3" cy="138.5" r="2.6" fill="#f9fb0e"/>
<circle cx="121.6" cy="151.8" r="2.6" fill="#f9fb0e"/>
<circle cx="137.5" cy="138.1" r="2.6" fill="#f9fb0e"/>
<circle cx="152.8" cy="144.0" r="2.6" fill="#f9fb0e"/>
<circle cx="122.7" cy="160.0" r="2.6" fill="#f9fb0e"/>
<circle cx="135.9" cy="146.6" r="2.6" fill="#f9fb0e"/>
<circle cx="139.2" cy="146.9" r="2.6" fill="#f9fb0e"/>
<circle cx="133.1" cy="129.7" r="2.6" fill="#f9fb0e"/>
<circle cx="145.9" cy="150.0" r="2.6" fill="#f9fb0e"/>
<circle cx="143.0" cy="130.3" r="2.6" fill="#f9fb0e"/>
<circle cx="134.5" cy="141.7" r="2.6" fill="#f9fb0e"/>
<circle cx="136.4" cy="155.8" r="2.6" fill="#f9fb0e"/>
<circle cx="127.0" cy="157.4" r="2.6" fill="#f9fb0e"/>
<circle cx="142.3" cy="130.8" r="2.6" fill="#f9fb0e"/>
<circle cx="148.1" cy="153.0" r="2.6" fill="#f9fb0e"/>
<circle cx="127.4" cy="163.7" r="2.6" fill="#f9fb0e"/>
<circle cx="119.5" cy="151.0" r="2.6" fill="#f9fb0e"/>
<circle cx="147.9" cy="157.0" r="2.6" fill="#f9fb0e"/>
<circle cx="150.0" cy="147.4" r="2.6" fill="#f9fb0e"/>
<circle cx="150.0" cy="129.8" r="2.6" fill="#f9fb0e"/>
<circle cx="146.9" cy="135.7" r="2.6" fill="#f9fb0e"/>
<circle cx="140.6" cy="167.7" r="2.6" fill="#f9fb0e"/>
<circle cx="135.5" cy="161.8" r="2.6" fill="#f9fb0e"/>
<circle cx="141.9" cy="161.8" r="2.6" fill="#f9fb0e"/>
<circle cx="118.1" cy="147.5" r="2.6" fill="#f9fb0e"/>
<circle cx="140.8" cy="157.0" r="2.6" fill="#f9fb0e"/>
<circle cx="150.9" cy="135.2" r="2.6" fill="#f9fb0e"/>
<circle cx="136.3" cy="152.9" r="2.6" fill="#f9fb0e"/>
<circle cx="132.0" cy="164.7" r="2.6" fill="#f9fb0e"/>
<circle cx="135.6" cy="131.0" r="2.6" fill="#f9fb0e"/>
<circle cx="140.4" cy="157.8" r="2.6" fill="#f9fb0e"/>
<circle cx="142.5" cy="147.6" r="2.6" fill="#f9fb0e"/>
<circle cx="134.4" cy="162.2" r="2.6" fill="#f9fb0e"/>
<circle cx="140.5" cy="122.9" r="2.6" fill="#f9fb0e"/>
<circle cx="145.4" cy="118.7" r="2.6" fill="#f9fb0e"/>
<circle cx="140.4" cy="124.0" r="2.6" fill="#f9fb0e"/>
<circle cx="141.8" cy="124.6" r="2.6" fill="#f9fb0e"/>
<circle cx="127.6" cy="123.3" r="2.6" fill="#f9fb0e"/>
<circle cx="143.1" cy="123.2" r="2.6" fill="#f9fb0e"/>
<circle cx="132.6" cy="121.4" r="2.6" fill="#f9fb0e"/>
<circle cx="149.7" cy="119.5" r="2.6" fill="#f9fb0e"/>
<circle cx="267.9" cy="218.1" r="2.6" fill="#f9fb0e"/>
<circle cx="269.8" cy="223.6" r="2.6" fill="#f9fb0e"/>
<circle cx="277.9" cy="216.3" r="2.6" fill="#f9fb0e"/>
<circle cx="270.3" cy="222.5" r="2.6" fill="#f9fb0e"/>
<circle cx="260.1" cy="229.0" r="2.6" fill="#f9fb0e"/>
<circle cx="279.0" cy="230.9" r="2.6" fill="#f9fb0e"/>
<circle cx="295.7" cy="219.1" r="2.6" fill="#f9fb0e"/>
<circle cx="266.0" cy="229.3" r="2.6" fill="#f9fb0e"/>
<circle cx="255.6" cy="232.9" r="2.6" fill="#f9fb0e"/>
<circle cx="264.4" cy="215.7" r="2.6" fill="#f9fb0e"/>
<circle cx="298.5" cy="216.7" r="2.6" fill="#f9fb0e"/>
<circle cx="297.5" cy="219.1" r="2.6" fill="#f9fb0e"/>
<circle cx="254.9" cy="230.4" r="2.6" fill="#f9fb0e"/>
<circle cx="273.4" cy="220.6" r="2.6" fill="#f9fb0e"/>
<circle cx="258.7" cy="217.2" r="2.6" fill="#f9fb0e"/>
<circle cx="253.0" cy="235.8" r="2.6" fill="#f9fb0e"/>
<circle cx="280.8" cy="217.1" r="2.6" fill="#f9fb0e"/>
<circle cx="265.9" cy="227.8" r="2.6" fill="#f9fb0e"/>
<circle cx="282.5" cy="228.5" r="2.6" fill="#f9fb0e"/>
<circle cx="268.8" cy="227.2" r="2.6" fill="#f9fb0e"/>
<circle cx="260.9" cy="227.7" r="2.6" fill="#f9fb0e"/>
<circle cx="288.0" cy="215.9" r="2.6" fill="#f9fb0e"/>
<circle cx="293.5" cy="225.4" r="2.6" fill="#f9fb0e"/>
<circle cx="263.1" cy="219.3" r="2.6" fill="#f9fb0e"/>
<circle cx="256.8" cy="234.4" r="2.6" fill="#f9fb0e"/>
<circle cx="291.5" cy="223.9" r="2.6" fill="#f9fb0e"/>
<circle cx="299.4" cy="219.3" r="2.6" fill="#f9fb0e"/>
<circle cx="253.2" cy="233.9" r="2.6" fill="#f9fb0e"/>
<circle cx="375.6" cy="123.0" r="2.6" fill="#f9fb0e"/>
<circle cx="398.1" cy="161.5" r="2.6" fill="#f9fb0e"/>
<circle cx="371.4" cy="127.5" r="2.6" fill="#f9fb0e"/>
<circle cx="369.0" cy="139.6" r="2.6" fill="#f9fb0e"/>
<circle cx="388.0" cy="131.3" r="2.6" fill="#f9fb0e"/>
<circle cx="395.2" cy="154.8" r="2.6" fill="#f9fb0e"/>
<circle cx="395.5" cy="165.1" r="2.6" fill="#f9fb0e"/>
<circle cx="397.4" cy="137.3" r="2.6" fill="#f9fb0e"/>
<circle cx="354.4" cy="128.8" r="2.6" fill="#f9fb0e"/>
<circle cx="399.6" cy="120.8" r="2.6" fill="#f9fb0e"/>
<circle cx="397.8" cy="132.0" r="2.6" fill="#f9fb0e"/>
<circle cx="369.8" cy="139.8" r="2.6" fill="#f9fb0e"/>
<circle cx="400.5" cy="153.4" r="2.6" fill="#f9fb0e"/>
<circle cx="377.9" cy="148.9" r="2.6" fill="#f9fb0e"/>
<circle cx="378.5" cy="137.5" r="2.6" fill="#f9fb0e"/>
<circle cx="404.2" cy="143.4" r="2.6" fill="#f9fb0e"/>
<circle cx="361.7" cy="137.4" r="2.6" fill="#f9fb0e"/>
<circle cx="375.6" cy="132.3" r="2.6" fill="#f9fb0e"/>
<circle cx="358.7" cy="159.9" r="2.6" fill="#f9fb0e"/>
<circle cx="392.8" cy="166.6" r="2.6" fill="#f9fb0e"/>
<circle cx="392.3" cy="142.9" r="2.6" fill="#f9fb0e"/>
<circle cx="380.6" cy="128.6" r="2.6" fill="#f9fb0e"/>
<circle cx="372.6" cy="162.1" r="2.6" fill="#f9fb0e"/>
<circle cx="376.8" cy="137.7" r="2.6" fill="#f9fb0e"/>
<circle cx="365.6" cy="156.6" r="2.6" fill="#f9fb0e"/>
<circle cx="353.1" cy="161.4" r="2.6" fill="#f9fb0e"/>
<circle cx="362.2" cy="128.7" r="2.6" fill="#f9fb0e"/>
<circle cx="368.7" cy="139.3" r="2.6" fill="#f9fb0e"/>
<circle cx="386.2" cy="155.5" r="2.6" fill="#f9fb0e"/>
<circle cx="380.5" cy="151.7" r="2.6" fill="#f9fb0e"/>
<circle cx="355.3" cy="148.8" r="2.6" fill="#f9fb0e"/>
<circle cx="386.3" cy="121.7" r="2.6" fill="#f9fb0e"/>
<circle cx="380.4" cy="128.5" r="2.6" fill="#f9fb0e"/>
<circle cx="382.7" cy="160.5" r="2.6" fill="#f9fb0e"/>
<circle cx="392.7" cy="122.3" r="2.6" fill="#f9fb0e"/>
<circle cx="370.9" cy="164.0" r="2.6" fill="#f9fb0e"/>
<circle cx="359.1" cy="149.4" r="2.6" fill="#f9fb0e"/>
<circle cx="402.5" cy="152.1" r="2.6" fill="#f9fb0e"/>
<circle cx="389.1" cy="119.9" r="2.6" fill="#f9fb0e"/>
<circle cx="369.2" cy="129.9" r="2.6" fill="#f9fb0e"/>
<circle cx="367.8" cy="151.1" r="2.6" fill="#f9fb0e"/>
<circle cx="356.0" cy="138.6" r="2.6" fill="#f9fb0e"/>
<circle cx="377.6" cy="145.8" r="2.6" fill="#f9fb0e"/>
<circle cx="371.0" cy="158.0" r="2.6" fill="#f9fb0e"/>
<circle cx="406.7" cy="136.9" r="2.6" fill="#f9fb0e"/>
<circle cx="378.5" cy="161.8" r="2.6" fill="#f9fb0e"/>
<circle cx="362.6" cy="163.0" r="2.6" fill="#f9fb0e"/>
<circle cx="399.5" cy="133.4" r="2.6" fill="#f9fb0e"/>
<circle cx="353.2" cy="144.4" r="2.6" fill="#f9fb0e"/>
<circle cx="364.2" cy="127.4" r="2.6" fill="#f9fb0e"/>
<circle cx="374.8" cy="138.3" r="2.6" fill="#f9fb0e"/>
<circle cx="395.4" cy="152.8" r="2.6" fill="#f9fb0e"/>
<circle cx="398.9" cy="156.9" r="2.6" fill="#f9fb0e"/>
<circle cx="375.8" cy="135.5" r="2.6" fill="#f9fb0e"/>
<circle cx="374.7" cy="144.2" r="2.6" fill="#f9fb0e"/>
<circle cx="380.5" cy="146.4" r="2.6" fill="#f9fb0e"/>
<circle cx="405.2" cy="135.9" r="2.6" fill="#f9fb0e"/>
<circle cx="385.0" cy="127.6" r="2.6" fill="#f9fb0e"/>
<circle cx="385.5" cy="147.1" r="2.6" fill="#f9fb0e"/>
<circle cx="391.5" cy="140.5" r="2.6" fill="#f9fb0e"/>
<circle cx="360.8" cy="135.5" r="2.6" fill="#f9fb0e"/>
<circle cx="368.7" cy="127.4" r="2.6" fill="#f9fb0e"/>
<circle cx="368.5" cy="133.2" r="2.6" fill="#f9fb0e"/>
<circle cx="381.3" cy="138.4" r="2.6" fill="#f9fb0e"/>
<circle cx="376.9" cy="122.2" r="2.6" fill="#f9fb0e"/>
<circle cx="386.2" cy="136.9" r="2.6" fill="#f9fb0e"/>
<circle cx="387.0" cy="145.0" r="2.6" fill="#f9fb0e"/>
<circle cx="342.9" cy="213.2" r="2.6" fill="#352a87"/>
<circle cx="334.7" cy="209.6" r="2.6" fill="#352a87"/>
<circle cx="327.0" cy="211.7" r="2.6" fill="#352a87"/>
<circle cx="340.4" cy="208.7" r="2.6" fill="#352a87"/>
<circle cx="339.9" cy="212.7" r="2.6" fill="#352a87"/>
<circle cx="340.7" cy="212.1" r="2.6" fill="#352a87"/>
<circle cx="342.5" cy="214.7" r="2.6" fill="#352a87"/>
<circle cx="339.9" cy="201.6" r="2.6" fill="#352a87"/>
<circle cx="350.1" cy="208.0" r="2.6" fill="#352a87"/>
<circle cx="341.7" cy="213.7" r="2.6" fill="#352a87"/>
<circle cx="331.6" cy="207.4" r="2.6" fill="#352a87"/>
<circle cx="342.7" cy="213.6" r="2.6" fill="#352a87"/>
<circle cx="349.3" cy="196.1" r="2.6" fill="#352a87"/>
<circle cx="330.5" cy="207.1" r="2.6" fill="#352a87"/>
<circle cx="339.8" cy="212.5" r="2.6" fill="#352a87"/>
<circle cx="346.9" cy="198.6" r="2.6" fill="#352a87"/>
<circle cx="350.4" cy="207.0" r="2.6" fill="#352a87"/>
<circle cx="340.8" cy="207.6" r="2.6" fill="#352a87"/>
<circle cx="335.8" cy="212.1" r="2.6" fill="#352a87"/>
<circle cx="352.9" cy="211.6" r="2.6" fill="#352a87"/>
<circle cx="339.3" cy="215.3" r="2.6" fill="#352a87"/>
<circle cx="348.8" cy="213.3" r="2.6" fill="#352a87"/>
<circle cx="348.2" cy="204.5" r="2.6" fill="#352a87"/>
<circle cx="332.5" cy="207.8" r="2.6" fill="#352a87"/>
<circle cx="349.3" cy="215.8" r="2.6" fill="#352a87"/>
<circle cx="342.2" cy="199.5" r="2.6" fill="#352a87"/>
<circle cx="328.0" cy="214.2" r="2.6" fill="#352a87"/>
<circle cx="342.7" cy="198.4" r="2.6" fill="#352a87"/>
<circle cx="350.3" cy="197.6" r="2.6" fill="#352a87"/>
<circle cx="352.7" cy="208.8" r="2.6" fill="#352a87"/>
<circle cx="335.4" cy="205.6" r="2.6" fill="#352a87"/>
<circle cx="349.0" cy="212.5" r="2.6" fill="#352a87"/>
<circle cx="342.0" cy="201.0" r="2.6" fill="#352a87"/>
<circle cx="344.8" cy="199.1" r="2.6" fill="#352a87"/>
<circle cx="347.0" cy="200.1" r="2.6" fill="#352a87"/>
<circle cx="346.8" cy="208.7" r="2.6" fill="#352a87"/>
<circle cx="334.4" cy="210.3" r="2.6" fill="#352a87"/>
<circle cx="345.1" cy="196.9" r="2.6" fill="#352a87"/>
<circle cx="349.2" cy="199.9" r="2.6" fill="#352a87"/>
<circle cx="318.1" cy="215.8" r="2.6" fill="#352a87"/>
<circle cx="352.7" cy="207.8" r="2.6" fill="#352a87"/>
<circle cx="344.9" cy="208.4" r="2.6" fill="#352a87"/>
<circle cx="347.1" cy="215.0" r="2.6" fill="#352a87"/>
<circle cx="339.1" cy="211.4" r="2.6" fill="#352a87"/>
<circle cx="340.1" cy="213.1" r="2.6" fill="#352a87"/>
<circle cx="300.3" cy="235.1" r="2.6" fill="#352a87"/>
<circle cx="338.6" cy="240.2" r="2.6" fill="#352a87"/>
<circle cx="341.5" cy="237.1" r="2.6" fill="#352a87"/>
<circle cx="338.2" cy="219.6" r="2.6" fill="#352a87"/>
<circle cx="340.4" cy="220.2" r="2.6" fill="#352a87"/>
<circle cx="330.5" cy="237.1" r="2.6" fill="#352a87"/>
<circle cx="320.4" cy="220.7" r="2.6" fill="#352a87"/>
<circle cx="325.5" cy="231.3" r="2.6" fill="#352a87"/>
<circle cx="313.9" cy="240.7" r="2.6" fill="#352a87"/>
<circle cx="325.6" cy="226.9" r="2.6" fill="#352a87"/>
<circle cx="343.9" cy="243.2" r="2.6" fill="#352a87"/>
<circle cx="350.5" cy="223.3" r="2.6" fill="#352a87"/>
<circle cx="352.9" cy="235.6" r="2.6" fill="#352a87"/>
<circle cx="330.4" cy="222.6" r="2.6" fill="#352a87"/>
<circle cx="348.1" cy="219.3" r="2.6" fill="#352a87"/>
<circle cx="333.3" cy="247.8" r="2.6" fill="#352a87"/>
<circle cx="340.5" cy="221.8" r="2.6" fill="#352a87"/>
<circle cx="352.7" cy="243.2" r="2.6" fill="#352a87"/>
<circle cx="349.8" cy="222.0" r="2.6" fill="#352a87"/>
<circle cx="319.7" cy="220.6" r="2.6" fill="#352a87"/>
<circle cx="346.9" cy="244.4" r="2.6" fill="#352a87"/>
<circle cx="311.2" cy="223.4" r="2.6" fill="#352a87"/>
<circle cx="306.8" cy="225.5" r="2.6" fill="#352a87"/>
<circle cx="334.2" cy="216.2" r="2.6" fill="#352a87"/>
<circle cx="325.0" cy="243.5" r="2.6" fill="#352a87"/>
<circle cx="304.8" cy="237.1" r="2.6" fill="#352a87"/>
<circle cx="321.3" cy="227.4" r="2.6" fill="#352a87"/>
<circle cx="348.1" cy="232.7" r="2.6" fill="#352a87"/>
<circle cx="313.8" cy="220.8" r="2.6" fill="#352a87"/>
<circle cx="346.5" cy="244.7" r="2.6" fill="#352a87"/>
<circle cx="320.1" cy="226.9" r="2.6" fill="#352a87"/>
<circle cx="307.8" cy="225.3" r="2.6" fill="#352a87"/>
<circle cx="321.5" cy="220.9" r="2.6" fill="#352a87"/>
<circle cx="322.8" cy="232.2" r="2.6" fill="#352a87"/>
<circle cx="298.4" cy="235.1" r="2.6" fill="#352a87"/>
<circle cx="347.0" cy="241.6" r="2.6" fill="#352a87"/>
<circle cx="323.9" cy="223.0" r="2.6" fill="#352a87"/>
<circle cx="335.0" cy="222.7" r="2.6" fill="#352a87"/>
<circle cx="343.4" cy="224.1" r="2.6" fill="#352a87"/>
<circle cx="301.8" cy="242.4" r="2.6" fill="#352a87"/>
<circle cx="302.9" cy="224.2" r="2.6" fill="#352a87"/>
<circle cx="333.7" cy="228.0" r="2.6" fill="#352a87"/>
<circle cx="314.5" cy="247.4" r="2.6" fill="#352a87"/>
<circle cx="325.0" cy="227.8" r="2.6" fill="#352a87"/>
<circle cx="327.0" cy="228.9" r="2.6" fill="#352a87"/>
<circle cx="350.8" cy="223.6" r="2.6" fill="#352a87"/>
<circle cx="342.0" cy="242.7" r="2.6" fill="#352a87"/>
<circle cx="307.2" cy="242.5" r="2.6" fill="#352a87"/>
<circle cx="333.5" cy="243.1" r="2.6" fill="#352a87"/>
<circle cx="322.3" cy="219.2" r="2.6" fill="#352a87"/>
<circle cx="320.1" cy="248.9" r="2.6" fill="#352a87"/>
<circle cx="347.1" cy="225.7" r="2.6" fill="#352a87"/>
<circle cx="330.7" cy="215.1" r="2.6" fill="#352a87"/>
<circle cx="335.2" cy="235.3" r="2.6" fill="#352a87"/>
<circle cx="314.2" cy="223.9" r="2.6" fill="#352a87"/>
<circle cx="316.7" cy="229.5" r="2.6" fill="#352a87"/>
<circle cx="299.3" cy="239.4" r="2.6" fill="#352a87"/>
<circle cx="307.5" cy="220.4" r="2.6" fill="#352a87"/>
<circle cx="319.4" cy="226.2" r="2.6" fill="#352a87"/>
<circle cx="343.0" cy="241.6" r="2.6" fill="#352a87"/>
<circle cx="330.8" cy="247.7" r="2.6" fill="#352a87"/>
<circle cx="293.6" cy="246.3" r="2.6" fill="#352a87"/>
<circle cx="347.7" cy="216.1" r="2.6" fill="#352a87"/>
<circle cx="345.7" cy="232.5" r="2.6" fill="#352a87"/>
<circle cx="346.6" cy="231.1" r="2.6" fill="#352a87"/>
<circle cx="351.7" cy="225.5" r="2.6" fill="#352a87"/>
<circle cx="301.7" cy="237.1" r="2.6" fill="#352a87"/>
<circle cx="351.4" cy="223.3" r="2.6" fill="#352a87"/>
<circle cx="333.1" cy="223.7" r="2.6" fill="#352a87"/>
<circle cx="313.1" cy="236.4" r="2.6" fill="#352a87"/>
<circle cx="338.4" cy="232.1" r="2.6" fill="#352a87"/>
<circle cx="348.6" cy="237.9" r="2.6" fill="#352a87"/>
<circle cx="323.5" cy="228.9" r="2.6" fill="#352a87"/>
<circle cx="333.1" cy="228.9" r="2.6" fill="#352a87"/>
<circle cx="340.9" cy="234.2" r="2.6" fill="#352a87"/>
<circle cx="327.1" cy="236.4" r="2.6" fill="#352a87"/>
<circle cx="321.4" cy="233.4" r="2.6" fill="#352a87"/>
<circle cx="309.3" cy="222.3" r="2.6" fill="#352a87"/>
<circle cx="438.9" cy="146.7" r="2.6" fill="#352a87"/>
<circle cx="426.8" cy="155.8" r="2.6" fill="#352a87"/>
<circle cx="431.3" cy="163.9" r="2.6" fill="#352a87"/>
<circle cx="444.0" cy="150.9" r="2.6" fill="#352a87"/>
<circle cx="428.5" cy="152.1" r="2.6" fill="#352a87"/>
<circle cx="435.0" cy="149.9" r="2.6" fill="#352a87"/>
<circle cx="415.3" cy="158.9" r="2.6" fill="#352a87"/>
<circle cx="426.9" cy="159.3" r="2.6" fill="#352a87"/>
<circle cx="420.7" cy="152.6" r="2.6" fill="#352a87"/>
<circle cx="435.2" cy="148.4" r="2.6" fill="#352a87"/>
<circle cx="425.6" cy="163.5" r="2.6" fill="#352a87"/>
<circle cx="445.3" cy="160.2" r="2.6" fill="#352a87"/>
<circle cx="438.0" cy="145.7" r="2.6" fill="#352a87"/>
<circle cx="429.9" cy="148.6" r="2.6" fill="#352a87"/>
<circle cx="444.9" cy="161.0" r="2.6" fill="#352a87"/>
<circle cx="421.8" cy="151.5" r="2.6" fill="#352a87"/>
<circle cx="370.0" cy="187.8" r="2.6" fill="#352a87"/>
<circle cx="390.3" cy="187.5" r="2.6" fill="#352a87"/>
<circle cx="386.3" cy="184.6" r="2.6" fill="#352a87"/>
<circle cx="378.7" cy="182.3" r="2.6" fill="#352a87"/>
<circle cx="385.9" cy="183.4" r="2.6" fill="#352a87"/>
<circle cx="390.7" cy="173.6" r="2.6" fill="#352a87"/>
<circle cx="379.6" cy="183.3" r="2.6" fill="#352a87"/>
<circle cx="393.5" cy="180.0" r="2.6" fill="#352a87"/>
<circle cx="392.2" cy="179.2" r="2.6" fill="#352a87"/>
<circle cx="373.0" cy="180.8" r="2.6" fill="#352a87"/>
<circle cx="363.3" cy="191.4" r="2.6" fill="#352a87"/>
<circle cx="354.5" cy="192.6" r="2.6" fill="#352a87"/>
<circle cx="394.7" cy="180.0" r="2.6" fill="#352a87"/>
<circle cx="370.3" cy="189.3" r="2.6" fill="#352a87"/>
<circle cx="388.6" cy="175.1" r="2.6" fill="#352a87"/>
<circle cx="366.8" cy="193.9" r="2.6" fill="#352a87"/>
<circle cx="375.2" cy="180.6" r="2.6" fill="#352a87"/>
<circle cx="393.5" cy="183.7" r="2.6" fill="#352a87"/>
<circle cx="376.0" cy="191.8" r="2.6" fill="#352a87"/>
<circle cx="379.5" cy="193.0" r="2.6" fill="#352a87"/>
<circle cx="382.0" cy="187.7" r="2.6" fill="#352a87"/>
<circle cx="379.3" cy="192.3" r="2.6" fill="#352a87"/>
<circle cx="364.5" cy="191.8" r="2.6" fill="#352a87"/>
<circle cx="363.1" cy="189.5" r="2.6" fill="#352a87"/>
<circle cx="375.9" cy="192.2" r="2.6" fill="#352a87"/>
<circle cx="377.6" cy="182.6" r="2.6" fill="#352a87"/>
<circle cx="378.4" cy="186.9" r="2.6" fill="#352a87"/>
<circle cx="373.1" cy="181.1" r="2.6" fill="#352a87"/>
<circle cx="356.3" cy="190.7" r="2.6" fill="#352a87"/>
<circle cx="372.4" cy="183.1" r="2.6" fill="#352a87"/>
<circle cx="371.2" cy="183.6" r="2.6" fill="#352a87"/>
<circle cx="372.8" cy="183.7" r="2.6" fill="#352a87"/>
<circle cx="361.6" cy="190.7" r="2.6" fill="#352a87"/>
<circle cx="381.0" cy="189.6" r="2.6" fill="#352a87"/>
<circle cx="382.1" cy="184.1" r="2.6" fill="#352a87"/>
<circle cx="376.6" cy="187.2" r="2.6" fill="#352a87"/>
<circle cx="375.2" cy="192.7" r="2.6" fill="#352a87"/>
<circle cx="377.2" cy="192.2" r="2.6" fill="#352a87"/>
<circle cx="367.8" cy="191.0" r="2.6" fill="#352a87"/>
<circle cx="367.4" cy="184.0" r="2.6" fill="#352a87"/>
<circle cx="372.6" cy="191.8" r="2.6" fill="#352a87"/>
<circle cx="382.6" cy="191.8" r="2.6" fill="#352a87"/>
<circle cx="391.4" cy="181.8" r="2.6" fill="#352a87"/>
<circle cx="376.8" cy="193.1" r="2.6" fill="#352a87"/>
<circle cx="365.6" cy="189.6" r="2.6" fill="#352a87"/>
<circle cx="389.4" cy="178.5" r="2.6" fill="#352a87"/>
<circle cx="388.4" cy="185.1" r="2.6" fill="#352a87"/>
<circle cx="383.1" cy="183.0" r="2.6" fill="#352a87"/>
<circle cx="368.5" cy="190.2" r="2.6" fill="#352a87"/>
<circle cx="377.5" cy="193.9" r="2.6" fill="#352a87"/>
<circle cx="390.5" cy="175.2" r="2.6" fill="#352a87"/>
<circle cx="387.4" cy="189.4" r="2.6" fill="#352a87"/>
<circle cx="382.5" cy="184.1" r="2.6" fill="#352a87"/>
<circle cx="392.1" cy="171.2" r="2.6" fill="#352a87"/>
<circle cx="361.0" cy="191.8" r="2.6" fill="#352a87"/>
<circle cx="376.0" cy="178.2" r="2.6" fill="#352a87"/>
<circle cx="371.4" cy="187.0" r="2.6" fill="#352a87"/>
<circle cx="384.6" cy="178.0" r="2.6" fill="#352a87"/>
<circle cx="359.3" cy="194.0" r="2.6" fill="#352a87"/>
<circle cx="397.0" cy="177.3" r="2.6" fill="#352a87"/>
<circle cx="379.4" cy="187.2" r="2.6" fill="#352a87"/>
<circle cx="368.1" cy="188.1" r="2.6" fill="#352a87"/>
<circle cx="362.2" cy="190.1" r="2.6" fill="#352a87"/>
<circle cx="380.6" cy="185.3" r="2.6" fill="#352a87"/>
<circle cx="384.3" cy="188.4" r="2.6" fill="#352a87"/>
<circle cx="391.3" cy="171.0" r="2.6" fill="#352a87"/>
<circle cx="357.4" cy="194.2" r="2.6" fill="#352a87"/>
<circle cx="389.7" cy="173.9" r="2.6" fill="#352a87"/>
<circle cx="379.4" cy="215.9" r="2.6" fill="#352a87"/>
<circle cx="361.8" cy="209.9" r="2.6" fill="#352a87"/>
<circle cx="355.8" cy="214.4" r="2.6" fill="#352a87"/>
<circle cx="379.4" cy="210.2" r="2.6" fill="#352a87"/>
<circle cx="354.7" cy="203.7" r="2.6" fill="#352a87"/>
<circle cx="383.2" cy="207.3" r="2.6" fill="#352a87"/>
<circle cx="361.5" cy="213.3" r="2.6" fill="#352a87"/>
<circle cx="367.0" cy="209.4" r="2.6" fill="#352a87"/>
<circle cx="378.6" cy="204.6" r="2.6" fill="#352a87"/>
<circle cx="362.2" cy="197.9" r="2.6" fill="#352a87"/>
<circle cx="380.5" cy="210.4" r="2.6" fill="#352a87"/>
<circle cx="381.2" cy="208.6" r="2.6" fill="#352a87"/>
<circle cx="366.4" cy="206.1" r="2.6" fill="#352a87"/>
<circle cx="370.1" cy="198.9" r="2.6" fill="#352a87"/>
<circle cx="364.3" cy="210.9" r="2.6" fill="#352a87"/>
<circle cx="363.2" cy="212.6" r="2.6" fill="#352a87"/>
<circle cx="366.4" cy="199.2" r="2.6" fill="#352a87"/>
<circle cx="365.1" cy="214.7" r="2.6" fill="#352a87"/>
<circle cx="375.1" cy="205.7" r="2.6" fill="#352a87"/>
<circle cx="375.6" cy="210.2" r="2.6" fill="#352a87"/>
<circle cx="353.1" cy="199.7" r="2.6" fill="#352a87"/>
<circle cx="390.1" cy="205.9" r="2.6" fill="#352a87"/>
<circle cx="363.6" cy="208.2" r="2.6" fill="#352a87"/>
<circle cx="368.8" cy="197.0" r="2.6" fill="#352a87"/>
<circle cx="371.6" cy="203.2" r="2.6" fill="#352a87"/>
<circle cx="385.4" cy="203.2" r="2.6" fill="#352a87"/>
<circle cx="366.4" cy="205.0" r="2.6" fill="#352a87"/>
<circle cx="392.0" cy="214.0" r="2.6" fill="#352a87"/>
<circle cx="355.2" cy="214.6" r="2.6" fill="#352a87"/>
<circle cx="366.1" cy="209.5" r="2.6" fill="#352a87"/>
<circle cx="390.4" cy="211.6" r="2.6" fill="#352a87"/>
<circle cx="366.7" cy="205.7" r="2.6" fill="#352a87"/>
<circle cx="383.8" cy="207.8" r="2.6" fill="#352a87"/>
<circle cx="359.8" cy="198.7" r="2.6" fill="#352a87"/>
<circle cx="362.0" cy="209.9" r="2.6" fill="#352a87"/>
<circle cx="374.9" cy="205.6" r="2.6" fill="#352a87"/>
<circle cx="359.7" cy="208.3" r="2.6" fill="#352a87"/>
<circle cx="355.4" cy="215.6" r="2.6" fill="#352a87"/>
<circle cx="384.2" cy="212.2" r="2.6" fill="#352a87"/>
<circle cx="367.3" cy="215.7" r="2.6" fill="#352a87"/>
<circle cx="372.1" cy="210.2" r="2.6" fill="#352a87"/>
<circle cx="391.4" cy="210.3" r="2.6" fill="#352a87"/>
<circle cx="394.4" cy="206.3" r="2.6" fill="#352a87"/>
<circle cx="405.0" cy="193.6" r="2.6" fill="#352a87"/>
<circle cx="391.8" cy="195.1" r="2.6" fill="#352a87"/>
<circle cx="399.1" cy="193.7" r="2.6" fill="#352a87"/>
<circle cx="398.2" cy="197.7" r="2.6" fill="#352a87"/>
<circle cx="395.1" cy="205.9" r="2.6" fill="#352a87"/>
<circle cx="403.2" cy="207.1" r="2.6" fill="#352a87"/>
<circle cx="402.8" cy="192.6" r="2.6" fill="#352a87"/>
<circle cx="392.3" cy="194.5" r="2.6" fill="#352a87"/>
<circle cx="401.5" cy="205.5" r="2.6" fill="#352a87"/>
<circle cx="406.5" cy="206.5" r="2.6" fill="#352a87"/>
<circle cx="405.5" cy="198.8" r="2.6" fill="#352a87"/>
<circle cx="397.8" cy="191.9" r="2.6" fill="#352a87"/>
<circle cx="391.2" cy="203.8" r="2.6" fill="#352a87"/>
<circle cx="106.7" cy="52.4" r="2.6" fill="#f9fb0e"/>
<circle cx="96.8" cy="66.4" r="2.6" fill="#f9fb0e"/>
<circle cx="141.3" cy="61.2" r="2.6" fill="#f9fb0e"/>
<circle cx="123.4" cy="68.9" r="2.6" fill="#f9fb0e"/>
<circle cx="140.6" cy="71.0" r="2.6" fill="#f9fb0e"/>
<circle cx="156.2" cy="43.1" r="2.6" fill="#f9fb0e"/>
<circle cx="178.1" cy="58.2" r="2.6" fill="#f9fb0e"/>
<circle cx="182.9" cy="59.7" r="2.6" fill="#f9fb0e"/>
<circle cx="179.3" cy="63.4" r="2.6" fill="#f9fb0e"/>
<circle cx="170.8" cy="69.6" r="2.6" fill="#f9fb0e"/>
<circle cx="320.9" cy="42.2" r="2.6" fill="#f9fb0e"/>
<circle cx="264.7" cy="55.8" r="2.6" fill="#f9fb0e"/>
<circle cx="318.3" cy="59.1" r="2.6" fill="#f9fb0e"/>
<circle cx="334.5" cy="61.9" r="2.6" fill="#f9fb0e"/>
<circle cx="260.3" cy="69.3" r="2.6" fill="#f9fb0e"/>
<circle cx="331.8" cy="69.3" r="2.6" fill="#f9fb0e"/>
<circle cx="443.8" cy="45.8" r="2.6" fill="#f9fb0e"/>
<circle cx="424.2" cy="61.6" r="2.6" fill="#f9fb0e"/>
<circle cx="430.7" cy="64.5" r="2.6" fill="#f9fb0e"/>
<circle cx="488.2" cy="45.8" r="2.6" fill="#f9fb0e"/>
<circle cx="495.5" cy="45.8" r="2.6" fill="#f9fb0e"/>
<circle cx="470.2" cy="61.4" r="2.6" fill="#f9fb0e"/>
<circle cx="471.7" cy="65.2" r="2.6" fill="#f9fb0e"/>
<circle cx="483.8" cy="64.1" r="2.6" fill="#f9fb0e"/>
<circle cx="486.0" cy="65.8" r="2.6" fill="#f9fb0e"/>
<circle cx="476.1" cy="74.6" r="2.6" fill="#f9fb0e"/>
<circle cx="479.4" cy="73.7" r="2.6" fill="#f9fb0e"/>
<circle cx="459.6" cy="79.9" r="2.6" fill="#f9fb0e"/>
<circle cx="462.9" cy="79.0" r="2.6" fill="#f9fb0e"/>
<circle cx="466.2" cy="78.4" r="2.6" fill="#f9fb0e"/>
<circle cx="468.0" cy="79.9" r="2.6" fill="#f9fb0e"/>
<circle cx="457.4" cy="82.1" r="2.6" fill="#f9fb0e"/>
<circle cx="456.3" cy="91.6" r="2.6" fill="#f9fb0e"/>
<circle cx="535.8" cy="72.2" r="2.6" fill="#f9fb0e"/>
<circle cx="525.7" cy="89.4" r="2.6" fill="#f9fb0e"/>
<circle cx="115.0" cy="75.0" r="2.6" fill="#f9fb0e"/>
<circle cx="122.8" cy="83.8" r="2.6" fill="#f9fb0e"/>
<circle cx="143.5" cy="91.8" r="2.6" fill="#f9fb0e"/>
<circle cx="100.0" cy="94.0" r="2.6" fill="#f9fb0e"/>
<circle cx="122.8" cy="101.9" r="2.6" fill="#f9fb0e"/>
<circle cx="128.2" cy="98.7" r="2.6" fill="#f9fb0e"/>
<circle cx="132.6" cy="98.4" r="2.6" fill="#f9fb0e"/>
<circle cx="115.0" cy="108.1" r="2.6" fill="#f9fb0e"/>
<circle cx="137.7" cy="108.9" r="2.6" fill="#f9fb0e"/>
<circle cx="146.4" cy="106.7" r="2.6" fill="#f9fb0e"/>
<circle cx="141.3" cy="111.8" r="2.6" fill="#f9fb0e"/>
<circle cx="130.4" cy="111.8" r="2.6" fill="#f9fb0e"/>
<circle cx="127.5" cy="114.7" r="2.6" fill="#f9fb0e"/>
<circle cx="120.2" cy="116.2" r="2.6" fill="#f9fb0e"/>
<circle cx="124.5" cy="115.4" r="2.6" fill="#f9fb0e"/>
<circle cx="152.3" cy="85.5" r="2.6" fill="#f9fb0e"/>
<circle cx="170.8" cy="70.2" r="2.6" fill="#f9fb0e"/>
<circle cx="172.7" cy="77.5" r="2.6" fill="#f9fb0e"/>
<circle cx="195.6" cy="76.0" r="2.6" fill="#f9fb0e"/>
<circle cx="207.7" cy="79.7" r="2.6" fill="#f9fb0e"/>
<circle cx="235.9" cy="89.9" r="2.6" fill="#f9fb0e"/>
<circle cx="154.8" cy="85.5" r="2.6" fill="#f9fb0e"/>
<circle cx="161.0" cy="89.2" r="2.6" fill="#f9fb0e"/>
<circle cx="166.1" cy="93.5" r="2.6" fill="#f9fb0e"/>
<circle cx="173.4" cy="94.3" r="2.6" fill="#f9fb0e"/>
<circle cx="180.0" cy="88.4" r="2.6" fill="#f9fb0e"/>
<circle cx="180.7" cy="94.3" r="2.6" fill="#f9fb0e"/>
<circle cx="199.0" cy="89.9" r="2.6" fill="#f9fb0e"/>
<circle cx="200.4" cy="91.4" r="2.6" fill="#f9fb0e"/>
<circle cx="209.2" cy="99.8" r="2.6" fill="#f9fb0e"/>
<circle cx="218.7" cy="97.2" r="2.6" fill="#f9fb0e"/>
<circle cx="245.3" cy="99.8" r="2.6" fill="#f9fb0e"/>
<circle cx="236.2" cy="103.8" r="2.6" fill="#f9fb0e"/>
<circle cx="172.7" cy="106.0" r="2.6" fill="#f9fb0e"/>
<circle cx="177.8" cy="103.8" r="2.6" fill="#f9fb0e"/>
<circle cx="181.5" cy="105.2" r="2.6" fill="#f9fb0e"/>
<circle cx="177.1" cy="110.6" r="2.6" fill="#f9fb0e"/>
<circle cx="196.8" cy="107.4" r="2.6" fill="#f9fb0e"/>
<circle cx="202.6" cy="106.7" r="2.6" fill="#f9fb0e"/>
<circle cx="155.9" cy="107.4" r="2.6" fill="#f9fb0e"/>
<circle cx="159.6" cy="108.1" r="2.6" fill="#f9fb0e"/>
<circle cx="157.4" cy="111.8" r="2.6" fill="#f9fb0e"/>
<circle cx="186.6" cy="116.2" r="2.6" fill="#f9fb0e"/>
<circle cx="196.0" cy="113.3" r="2.6" fill="#f9fb0e"/>
<circle cx="217.2" cy="107.7" r="2.6" fill="#f9fb0e"/>
<circle cx="224.5" cy="108.1" r="2.6" fill="#f9fb0e"/>
<circle cx="225.3" cy="111.8" r="2.6" fill="#f9fb0e"/>
<circle cx="231.8" cy="111.8" r="2.6" fill="#f9fb0e"/>
<circle cx="230.4" cy="116.2" r="2.6" fill="#f9fb0e"/>
<circle cx="239.1" cy="116.9" r="2.6" fill="#f9fb0e"/>
<circle cx="260.0" cy="70.6" r="2.6" fill="#f9fb0e"/>
<circle cx="259.1" cy="73.8" r="2.6" fill="#f9fb0e"/>
<circle cx="259.6" cy="75.3" r="2.6" fill="#f9fb0e"/>
<circle cx="332.1" cy="69.8" r="2.6" fill="#f9fb0e"/>
<circle cx="318.4" cy="75.0" r="2.6" fill="#f9fb0e"/>
<circle cx="320.4" cy="77.0" r="2.6" fill="#f9fb0e"/>
<circle cx="326.0" cy="74.1" r="2.6" fill="#f9fb0e"/>
<circle cx="310.0" cy="81.4" r="2.6" fill="#f9fb0e"/>
<circle cx="256.6" cy="91.1" r="2.6" fill="#f9fb0e"/>
<circle cx="263.2" cy="87.7" r="2.6" fill="#f9fb0e"/>
<circle cx="323.8" cy="87.7" r="2.6" fill="#f9fb0e"/>
<circle cx="324.2" cy="91.4" r="2.6" fill="#f9fb0e"/>
<circle cx="325.3" cy="95.0" r="2.6" fill="#f9fb0e"/>
<circle cx="295.0" cy="93.1" r="2.6" fill="#f9fb0e"/>
<circle cx="303.4" cy="94.0" r="2.6" fill="#f9fb0e"/>
<circle cx="314.0" cy="94.0" r="2.6" fill="#f9fb0e"/>
<circle cx="261.8" cy="103.8" r="2.6" fill="#f9fb0e"/>
<circle cx="298.5" cy="111.8" r="2.6" fill="#f9fb0e"/>
<circle cx="309.2" cy="107.4" r="2.6" fill="#f9fb0e"/>
<circle cx="311.4" cy="105.2" r="2.6" fill="#f9fb0e"/>
<circle cx="320.4" cy="108.1" r="2.6" fill="#f9fb0e"/>
<circle cx="331.5" cy="108.6" r="2.6" fill="#f9fb0e"/>
<circle cx="315.0" cy="115.0" r="2.6" fill="#f9fb0e"/>
<circle cx="323.1" cy="114.0" r="2.6" fill="#f9fb0e"/>
<circle cx="328.6" cy="114.4" r="2.6" fill="#f9fb0e"/>
<circle cx="262.0" cy="114.0" r="2.6" fill="#f9fb0e"/>
<circle cx="302.6" cy="117.3" r="2.6" fill="#f9fb0e"/>
<circle cx="307.0" cy="116.9" r="2.6" fill="#f9fb0e"/>
<circle cx="427.5" cy="71.6" r="2.6" fill="#f9fb0e"/>
<circle cx="414.6" cy="79.0" r="2.6" fill="#f9fb0e"/>
<circle cx="422.8" cy="79.7" r="2.6" fill="#f9fb0e"/>
<circle cx="429.2" cy="77.9" r="2.6" fill="#f9fb0e"/>
<circle cx="446.4" cy="77.9" r="2.6" fill="#f9fb0e"/>
<circle cx="400.4" cy="90.6" r="2.6" fill="#f9fb0e"/>
<circle cx="392.4" cy="92.8" r="2.6" fill="#f9fb0e"/>
<circle cx="395.3" cy="95.0" r="2.6" fill="#f9fb0e"/>
<circle cx="386.6" cy="96.5" r="2.6" fill="#f9fb0e"/>
<circle cx="390.2" cy="99.4" r="2.6" fill="#f9fb0e"/>
<circle cx="413.1" cy="98.2" r="2.6" fill="#f9fb0e"/>
<circle cx="421.3" cy="97.9" r="2.6" fill="#f9fb0e"/>
<circle cx="433.0" cy="94.0" r="2.6" fill="#f9fb0e"/>
<circle cx="436.9" cy="95.0" r="2.6" fill="#f9fb0e"/>
<circle cx="440.6" cy="96.5" r="2.6" fill="#f9fb0e"/>
<circle cx="436.2" cy="98.7" r="2.6" fill="#f9fb0e"/>
<circle cx="443.5" cy="101.3" r="2.6" fill="#f9fb0e"/>
<circle cx="451.5" cy="103.8" r="2.6" fill="#f9fb0e"/>
<circle cx="398.0" cy="102.7" r="2.6" fill="#f9fb0e"/>
<circle cx="392.4" cy="108.1" r="2.6" fill="#f9fb0e"/>
<circle cx="394.6" cy="110.3" r="2.6" fill="#f9fb0e"/>
<circle cx="402.6" cy="110.3" r="2.6" fill="#f9fb0e"/>
<circle cx="404.8" cy="111.8" r="2.6" fill="#f9fb0e"/>
<circle cx="401.9" cy="113.3" r="2.6" fill="#f9fb0e"/>
<circle cx="428.9" cy="111.1" r="2.6" fill="#f9fb0e"/>
<circle cx="431.8" cy="113.3" r="2.6" fill="#f9fb0e"/>
<circle cx="426.0" cy="114.7" r="2.6" fill="#f9fb0e"/>
<circle cx="439.9" cy="111.1" r="2.6" fill="#f9fb0e"/>
<circle cx="444.2" cy="113.3" r="2.6" fill="#f9fb0e"/>
<circle cx="377.1" cy="114.4" r="2.6" fill="#f9fb0e"/>
<circle cx="380.0" cy="116.2" r="2.6" fill="#f9fb0e"/>
<circle cx="418.7" cy="116.2" r="2.6" fill="#f9fb0e"/>
<circle cx="421.6" cy="114.7" r="2.6" fill="#f9fb0e"/>
<circle cx="101.9" cy="127.5" r="2.6" fill="#f9fb0e"/>
<circle cx="114.3" cy="129.7" r="2.6" fill="#f9fb0e"/>
<circle cx="115.0" cy="120.2" r="2.6" fill="#f9fb0e"/>
<circle cx="127.5" cy="124.6" r="2.6" fill="#f9fb0e"/>
<circle cx="134.0" cy="120.6" r="2.6" fill="#f9fb0e"/>
<circle cx="139.1" cy="120.9" r="2.6" fill="#f9fb0e"/>
<circle cx="146.4" cy="121.6" r="2.6" fill="#f9fb0e"/>
<circle cx="123.1" cy="136.2" r="2.6" fill="#f9fb0e"/>
<circle cx="128.9" cy="137.0" r="2.6" fill="#f9fb0e"/>
<circle cx="126.0" cy="139.9" r="2.6" fill="#f9fb0e"/>
<circle cx="121.6" cy="141.4" r="2.6" fill="#f9fb0e"/>
<circle cx="117.2" cy="144.3" r="2.6" fill="#f9fb0e"/>
<circle cx="120.2" cy="143.5" r="2.6" fill="#f9fb0e"/>
<circle cx="110.7" cy="147.9" r="2.6" fill="#f9fb0e"/>
<circle cx="114.3" cy="149.4" r="2.6" fill="#f9fb0e"/>
<circle cx="115.8" cy="152.3" r="2.6" fill="#f9fb0e"/>
<circle cx="128.9" cy="149.4" r="2.6" fill="#f9fb0e"/>
<circle cx="129.6" cy="156.7" r="2.6" fill="#f9fb0e"/>
<circle cx="146.4" cy="139.9" r="2.6" fill="#f9fb0e"/>
<circle cx="149.4" cy="144.3" r="2.6" fill="#f9fb0e"/>
<circle cx="143.5" cy="156.7" r="2.6" fill="#f9fb0e"/>
<circle cx="142.0" cy="161.8" r="2.6" fill="#f9fb0e"/>
<circle cx="109.2" cy="160.3" r="2.6" fill="#f9fb0e"/>
<circle cx="134.8" cy="161.8" r="2.6" fill="#f9fb0e"/>
<circle cx="132.6" cy="165.4" r="2.6" fill="#f9fb0e"/>
<circle cx="126.0" cy="166.2" r="2.6" fill="#f9fb0e"/>
<circle cx="120.2" cy="166.2" r="2.6" fill="#f9fb0e"/>
<circle cx="150.1" cy="132.6" r="2.6" fill="#f9fb0e"/>
<circle cx="152.3" cy="126.8" r="2.6" fill="#f9fb0e"/>
<circle cx="301.9" cy="118.7" r="2.6" fill="#f9fb0e"/>
<circle cx="306.3" cy="118.7" r="2.6" fill="#f9fb0e"/>
<circle cx="264.7" cy="123.5" r="2.6" fill="#f9fb0e"/>
<circle cx="271.7" cy="123.5" r="2.6" fill="#f9fb0e"/>
<circle cx="274.6" cy="123.1" r="2.6" fill="#f9fb0e"/>
<circle cx="280.0" cy="123.8" r="2.6" fill="#f9fb0e"/>
<circle cx="281.5" cy="126.5" r="2.6" fill="#f9fb0e"/>
<circle cx="325.7" cy="123.5" r="2.6" fill="#f9fb0e"/>
<circle cx="340.6" cy="124.6" r="2.6" fill="#f9fb0e"/>
<circle cx="347.9" cy="126.0" r="2.6" fill="#f9fb0e"/>
<circle cx="351.1" cy="129.7" r="2.6" fill="#f9fb0e"/>
<circle cx="267.6" cy="130.4" r="2.6" fill="#f9fb0e"/>
<circle cx="267.6" cy="134.8" r="2.6" fill="#f9fb0e"/>
<circle cx="273.4" cy="131.1" r="2.6" fill="#f9fb0e"/>
<circle cx="291.0" cy="132.6" r="2.6" fill="#f9fb0e"/>
<circle cx="299.7" cy="131.1" r="2.6" fill="#f9fb0e"/>
<circle cx="303.4" cy="130.8" r="2.6" fill="#f9fb0e"/>
<circle cx="300.4" cy="132.3" r="2.6" fill="#f9fb0e"/>
<circle cx="318.0" cy="136.2" r="2.6" fill="#f9fb0e"/>
<circle cx="304.8" cy="140.2" r="2.6" fill="#f9fb0e"/>
<circle cx="293.9" cy="142.8" r="2.6" fill="#f9fb0e"/>
<circle cx="296.8" cy="144.3" r="2.6" fill="#f9fb0e"/>
<circle cx="315.8" cy="144.0" r="2.6" fill="#f9fb0e"/>
<circle cx="256.6" cy="144.3" r="2.6" fill="#f9fb0e"/>
<circle cx="260.3" cy="143.5" r="2.6" fill="#f9fb0e"/>
<circle cx="269.1" cy="146.5" r="2.6" fill="#f9fb0e"/>
<circle cx="275.6" cy="145.7" r="2.6" fill="#f9fb0e"/>
<circle cx="272.7" cy="149.4" r="2.6" fill="#f9fb0e"/>
<circle cx="278.5" cy="147.9" r="2.6" fill="#f9fb0e"/>
<circle cx="285.8" cy="150.8" r="2.6" fill="#f9fb0e"/>
<circle cx="288.8" cy="153.0" r="2.6" fill="#f9fb0e"/>
<circle cx="298.3" cy="150.1" r="2.6" fill="#f9fb0e"/>
<circle cx="302.6" cy="150.8" r="2.6" fill="#f9fb0e"/>
<circle cx="324.5" cy="145.7" r="2.6" fill="#f9fb0e"/>
<circle cx="326.0" cy="149.4" r="2.6" fill="#f9fb0e"/>
<circle cx="323.1" cy="151.6" r="2.6" fill="#f9fb0e"/>
<circle cx="255.2" cy="149.4" r="2.6" fill="#f9fb0e"/>
<circle cx="254.5" cy="153.0" r="2.6" fill="#f9fb0e"/>
<circle cx="261.8" cy="153.8" r="2.6" fill="#f9fb0e"/>
<circle cx="266.1" cy="153.0" r="2.6" fill="#f9fb0e"/>
<circle cx="270.5" cy="153.8" r="2.6" fill="#f9fb0e"/>
<circle cx="274.2" cy="154.5" r="2.6" fill="#f9fb0e"/>
<circle cx="278.5" cy="156.7" r="2.6" fill="#f9fb0e"/>
<circle cx="282.2" cy="155.2" r="2.6" fill="#f9fb0e"/>
<circle cx="287.3" cy="156.7" r="2.6" fill="#f9fb0e"/>
<circle cx="302.6" cy="159.6" r="2.6" fill="#f9fb0e"/>
<circle cx="255.2" cy="161.8" r="2.6" fill="#f9fb0e"/>
<circle cx="261.0" cy="161.8" r="2.6" fill="#f9fb0e"/>
<circle cx="267.6" cy="163.3" r="2.6" fill="#f9fb0e"/>
<circle cx="273.4" cy="161.8" r="2.6" fill="#f9fb0e"/>
<circle cx="277.8" cy="164.0" r="2.6" fill="#f9fb0e"/>
<circle cx="282.2" cy="162.5" r="2.6" fill="#f9fb0e"/>
<circle cx="272.0" cy="166.2" r="2.6" fill="#f9fb0e"/>
<circle cx="276.4" cy="166.9" r="2.6" fill="#f9fb0e"/>
<circle cx="301.2" cy="166.9" r="2.6" fill="#f9fb0e"/>
<circle cx="309.2" cy="166.9" r="2.6" fill="#f9fb0e"/>
<circle cx="325.3" cy="159.6" r="2.6" fill="#f9fb0e"/>
<circle cx="328.9" cy="160.3" r="2.6" fill="#f9fb0e"/>
<circle cx="326.7" cy="163.3" r="2.6" fill="#f9fb0e"/>
<circle cx="331.8" cy="164.7" r="2.6" fill="#f9fb0e"/>
<circle cx="321.6" cy="166.2" r="2.6" fill="#f9fb0e"/>
<circle cx="340.6" cy="147.2" r="2.6" fill="#f9fb0e"/>
<circle cx="343.5" cy="144.3" r="2.6" fill="#f9fb0e"/>
<circle cx="347.9" cy="145.0" r="2.6" fill="#f9fb0e"/>
<circle cx="350.8" cy="147.2" r="2.6" fill="#f9fb0e"/>
<circle cx="342.1" cy="151.6" r="2.6" fill="#f9fb0e"/>
<circle cx="347.9" cy="150.1" r="2.6" fill="#f9fb0e"/>
<circle cx="352.3" cy="153.0" r="2.6" fill="#f9fb0e"/>
<circle cx="338.4" cy="155.2" r="2.6" fill="#f9fb0e"/>
<circle cx="340.6" cy="158.1" r="2.6" fill="#f9fb0e"/>
<circle cx="345.0" cy="160.3" r="2.6" fill="#f9fb0e"/>
<circle cx="349.4" cy="157.4" r="2.6" fill="#f9fb0e"/>
<circle cx="352.3" cy="160.3" r="2.6" fill="#f9fb0e"/>
<circle cx="336.9" cy="161.8" r="2.6" fill="#f9fb0e"/>
<circle cx="332.6" cy="164.0" r="2.6" fill="#f9fb0e"/>
<circle cx="377.8" cy="119.5" r="2.6" fill="#f9fb0e"/>
<circle cx="383.7" cy="119.8" r="2.6" fill="#f9fb0e"/>
<circle cx="392.4" cy="120.2" r="2.6" fill="#f9fb0e"/>
<circle cx="396.8" cy="119.5" r="2.6" fill="#f9fb0e"/>
<circle cx="414.3" cy="119.5" r="2.6" fill="#f9fb0e"/>
<circle cx="418.7" cy="118.7" r="2.6" fill="#f9fb0e"/>
<circle cx="426.0" cy="120.2" r="2.6" fill="#f9fb0e"/>
<circle cx="379.3" cy="123.1" r="2.6" fill="#f9fb0e"/>
<circle cx="384.4" cy="124.6" r="2.6" fill="#f9fb0e"/>
<circle cx="402.6" cy="124.6" r="2.6" fill="#f9fb0e"/>
<circle cx="408.5" cy="123.1" r="2.6" fill="#f9fb0e"/>
<circle cx="415.8" cy="123.8" r="2.6" fill="#f9fb0e"/>
<circle cx="420.2" cy="124.6" r="2.6" fill="#f9fb0e"/>
<circle cx="423.1" cy="122.4" r="2.6" fill="#f9fb0e"/>
<circle cx="426.0" cy="128.2" r="2.6" fill="#f9fb0e"/>
<circle cx="421.6" cy="129.7" r="2.6" fill="#f9fb0e"/>
<circle cx="417.2" cy="130.4" r="2.6" fill="#f9fb0e"/>
<circle cx="363.2" cy="131.1" r="2.6" fill="#f9fb0e"/>
<circle cx="370.5" cy="130.4" r="2.6" fill="#f9fb0e"/>
<circle cx="378.5" cy="130.4" r="2.6" fill="#f9fb0e"/>
<circle cx="383.7" cy="129.7" r="2.6" fill="#f9fb0e"/>
<circle cx="401.2" cy="129.7" r="2.6" fill="#f9fb0e"/>
<circle cx="404.1" cy="134.1" r="2.6" fill="#f9fb0e"/>
<circle cx="408.5" cy="132.6" r="2.6" fill="#f9fb0e"/>
<circle cx="412.9" cy="134.1" r="2.6" fill="#f9fb0e"/>
<circle cx="405.6" cy="137.7" r="2.6" fill="#f9fb0e"/>
<circle cx="410.7" cy="136.2" r="2.6" fill="#f9fb0e"/>
<circle cx="355.9" cy="140.6" r="2.6" fill="#f9fb0e"/>
<circle cx="358.8" cy="142.1" r="2.6" fill="#f9fb0e"/>
<circle cx="363.2" cy="139.9" r="2.6" fill="#f9fb0e"/>
<circle cx="372.0" cy="141.4" r="2.6" fill="#f9fb0e"/>
<circle cx="376.4" cy="137.0" r="2.6" fill="#f9fb0e"/>
<circle cx="371.2" cy="136.2" r="2.6" fill="#f9fb0e"/>
<circle cx="382.2" cy="140.6" r="2.6" fill="#f9fb0e"/>
<circle cx="384.4" cy="144.3" r="2.6" fill="#f9fb0e"/>
<circle cx="391.0" cy="141.4" r="2.6" fill="#f9fb0e"/>
<circle cx="394.6" cy="139.9" r="2.6" fill="#f9fb0e"/>
<circle cx="396.8" cy="143.5" r="2.6" fill="#f9fb0e"/>
<circle cx="393.1" cy="147.2" r="2.6" fill="#f9fb0e"/>
<circle cx="356.6" cy="145.0" r="2.6" fill="#f9fb0e"/>
<circle cx="362.5" cy="144.3" r="2.6" fill="#f9fb0e"/>
<circle cx="370.5" cy="143.5" r="2.6" fill="#f9fb0e"/>
<circle cx="374.2" cy="145.0" r="2.6" fill="#f9fb0e"/>
<circle cx="376.4" cy="149.4" r="2.6" fill="#f9fb0e"/>
<circle cx="382.2" cy="151.6" r="2.6" fill="#f9fb0e"/>
<circle cx="389.5" cy="153.0" r="2.6" fill="#f9fb0e"/>
<circle cx="395.3" cy="153.0" r="2.6" fill="#f9fb0e"/>
<circle cx="393.9" cy="158.1" r="2.6" fill="#f9fb0e"/>
<circle cx="357.4" cy="150.8" r="2.6" fill="#f9fb0e"/>
<circle cx="361.8" cy="151.6" r="2.6" fill="#f9fb0e"/>
<circle cx="367.6" cy="152.3" r="2.6" fill="#f9fb0e"/>
<circle cx="372.0" cy="153.0" r="2.6" fill="#f9fb0e"/>
<circle cx="361.8" cy="155.2" r="2.6" fill="#f9fb0e"/>
<circle cx="369.1" cy="156.7" r="2.6" fill="#f9fb0e"/>
<circle cx="373.4" cy="157.4" r="2.6" fill="#f9fb0e"/>
<circle cx="379.3" cy="156.7" r="2.6" fill="#f9fb0e"/>
<circle cx="384.4" cy="156.0" r="2.6" fill="#f9fb0e"/>
<circle cx="355.2" cy="160.3" r="2.6" fill="#f9fb0e"/>
<circle cx="358.8" cy="158.9" r="2.6" fill="#f9fb0e"/>
<circle cx="369.1" cy="160.3" r="2.6" fill="#f9fb0e"/>
<circle cx="374.9" cy="160.3" r="2.6" fill="#f9fb0e"/>
<circle cx="382.2" cy="161.8" r="2.6" fill="#f9fb0e"/>
<circle cx="357.4" cy="164.7" r="2.6" fill="#f9fb0e"/>
<circle cx="373.4" cy="164.7" r="2.6" fill="#f9fb0e"/>
<circle cx="379.3" cy="165.4" r="2.6" fill="#f9fb0e"/>
<circle cx="385.1" cy="164.7" r="2.6" fill="#f9fb0e"/>
<circle cx="449.4" cy="141.4" r="2.6" fill="#f9fb0e"/>
<circle cx="466.1" cy="123.5" r="2.6" fill="#f9fb0e"/>
<circle cx="455.9" cy="134.4" r="2.6" fill="#f9fb0e"/>
<circle cx="464.0" cy="156.4" r="2.6" fill="#f9fb0e"/>
<circle cx="92.4" cy="185.7" r="2.6" fill="#f9fb0e"/>
<circle cx="102.6" cy="178.4" r="2.6" fill="#f9fb0e"/>
<circle cx="107.0" cy="179.1" r="2.6" fill="#f9fb0e"/>
<circle cx="111.4" cy="174.8" r="2.6" fill="#f9fb0e"/>
<circle cx="102.6" cy="192.3" r="2.6" fill="#f9fb0e"/>
<circle cx="109.2" cy="190.8" r="2.6" fill="#f9fb0e"/>
<circle cx="109.2" cy="198.1" r="2.6" fill="#f9fb0e"/>
<circle cx="106.3" cy="200.3" r="2.6" fill="#f9fb0e"/>
<circle cx="93.9" cy="203.2" r="2.6" fill="#f9fb0e"/>
<circle cx="98.3" cy="202.5" r="2.6" fill="#f9fb0e"/>
<circle cx="102.6" cy="201.8" r="2.6" fill="#f9fb0e"/>
<circle cx="96.8" cy="208.3" r="2.6" fill="#f9fb0e"/>
<circle cx="101.2" cy="209.1" r="2.6" fill="#f9fb0e"/>
<circle cx="78.5" cy="209.1" r="2.6" fill="#f9fb0e"/>
<circle cx="90.2" cy="214.2" r="2.6" fill="#f9fb0e"/>
<circle cx="111.4" cy="205.4" r="2.6" fill="#f9fb0e"/>
<circle cx="114.3" cy="208.3" r="2.6" fill="#f9fb0e"/>
<circle cx="355.9" cy="168.9" r="2.6" fill="#f9fb0e"/>
<circle cx="360.3" cy="167.5" r="2.6" fill="#f9fb0e"/>
<circle cx="357.4" cy="173.3" r="2.6" fill="#f9fb0e"/>
<circle cx="361.8" cy="172.6" r="2.6" fill="#f9fb0e"/>
<circle cx="355.2" cy="180.6" r="2.6" fill="#f9fb0e"/>
<circle cx="358.8" cy="179.1" r="2.6" fill="#f9fb0e"/>
<circle cx="354.5" cy="185.0" r="2.6" fill="#f9fb0e"/>
<circle cx="358.8" cy="186.4" r="2.6" fill="#f9fb0e"/>
<circle cx="364.0" cy="188.6" r="2.6" fill="#f9fb0e"/>
<circle cx="404.1" cy="172.6" r="2.6" fill="#f9fb0e"/>
<circle cx="370.5" cy="198.8" r="2.6" fill="#f9fb0e"/>
<circle cx="367.6" cy="196.7" r="2.6" fill="#f9fb0e"/>
<circle cx="403.4" cy="200.3" r="2.6" fill="#f9fb0e"/>
<circle cx="407.0" cy="197.4" r="2.6" fill="#f9fb0e"/>
<circle cx="395.3" cy="196.7" r="2.6" fill="#f9fb0e"/>
<circle cx="90.2" cy="215.5" r="2.6" fill="#f9fb0e"/>
<circle cx="69.8" cy="226.4" r="2.6" fill="#f9fb0e"/>
<circle cx="79.3" cy="223.5" r="2.6" fill="#f9fb0e"/>
<circle cx="93.9" cy="221.3" r="2.6" fill="#f9fb0e"/>
<circle cx="97.5" cy="221.3" r="2.6" fill="#f9fb0e"/>
<circle cx="105.6" cy="219.8" r="2.6" fill="#f9fb0e"/>
<circle cx="86.6" cy="235.9" r="2.6" fill="#f9fb0e"/>
<circle cx="101.2" cy="227.9" r="2.6" fill="#f9fb0e"/>
<circle cx="98.3" cy="233.0" r="2.6" fill="#f9fb0e"/>
<circle cx="101.9" cy="235.9" r="2.6" fill="#f9fb0e"/>
<circle cx="109.2" cy="227.9" r="2.6" fill="#f9fb0e"/>
<circle cx="108.5" cy="232.2" r="2.6" fill="#f9fb0e"/>
<circle cx="98.3" cy="241.0" r="2.6" fill="#f9fb0e"/>
<circle cx="107.0" cy="249.0" r="2.6" fill="#f9fb0e"/>
<circle cx="119.4" cy="229.3" r="2.6" fill="#f9fb0e"/>
<circle cx="119.4" cy="241.7" r="2.6" fill="#f9fb0e"/>
<circle cx="117.2" cy="246.8" r="2.6" fill="#f9fb0e"/>
<circle cx="127.5" cy="244.7" r="2.6" fill="#f9fb0e"/>
<circle cx="131.8" cy="239.5" r="2.6" fill="#f9fb0e"/>
<circle cx="134.8" cy="236.6" r="2.6" fill="#f9fb0e"/>
<circle cx="124.5" cy="222.8" r="2.6" fill="#f9fb0e"/>
<circle cx="128.9" cy="219.8" r="2.6" fill="#f9fb0e"/>
<circle cx="126.0" cy="227.1" r="2.6" fill="#f9fb0e"/>
<circle cx="117.2" cy="215.5" r="2.6" fill="#f9fb0e"/>
<circle cx="123.1" cy="216.2" r="2.6" fill="#f9fb0e"/>
<circle cx="130.4" cy="215.5" r="2.6" fill="#f9fb0e"/>
<circle cx="134.8" cy="222.8" r="2.6" fill="#f9fb0e"/>
<circle cx="140.6" cy="219.8" r="2.6" fill="#f9fb0e"/>
<circle cx="146.4" cy="219.8" r="2.6" fill="#f9fb0e"/>
<circle cx="143.5" cy="225.0" r="2.6" fill="#f9fb0e"/>
<circle cx="149.4" cy="225.7" r="2.6" fill="#f9fb0e"/>
<circle cx="145.0" cy="235.9" r="2.6" fill="#f9fb0e"/>
<circle cx="149.4" cy="234.4" r="2.6" fill="#f9fb0e"/>
<circle cx="146.4" cy="241.7" r="2.6" fill="#f9fb0e"/>
<circle cx="140.6" cy="249.0" r="2.6" fill="#f9fb0e"/>
<circle cx="130.4" cy="257.8" r="2.6" fill="#f9fb0e"/>
<circle cx="142.0" cy="257.8" r="2.6" fill="#f9fb0e"/>
<circle cx="121.6" cy="260.7" r="2.6" fill="#f9fb0e"/>
<circle cx="114.3" cy="262.2" r="2.6" fill="#f9fb0e"/>
<circle cx="137.7" cy="261.9" r="2.6" fill="#f9fb0e"/>
<circle cx="81.5" cy="262.9" r="2.6" fill="#f9fb0e"/>
<circle cx="155.9" cy="216.9" r="2.6" fill="#f9fb0e"/>
<circle cx="158.8" cy="219.8" r="2.6" fill="#f9fb0e"/>
<circle cx="154.5" cy="222.8" r="2.6" fill="#f9fb0e"/>
<circle cx="167.6" cy="216.9" r="2.6" fill="#f9fb0e"/>
<circle cx="172.0" cy="216.2" r="2.6" fill="#f9fb0e"/>
<circle cx="174.9" cy="219.1" r="2.6" fill="#f9fb0e"/>
<circle cx="177.8" cy="222.8" r="2.6" fill="#f9fb0e"/>
<circle cx="170.5" cy="221.3" r="2.6" fill="#f9fb0e"/>
<circle cx="166.1" cy="220.6" r="2.6" fill="#f9fb0e"/>
<circle cx="186.6" cy="216.2" r="2.6" fill="#f9fb0e"/>
<circle cx="179.3" cy="227.1" r="2.6" fill="#f9fb0e"/>
<circle cx="175.6" cy="230.8" r="2.6" fill="#f9fb0e"/>
<circle cx="183.7" cy="230.1" r="2.6" fill="#f9fb0e"/>
<circle cx="178.5" cy="238.8" r="2.6" fill="#f9fb0e"/>
<circle cx="177.1" cy="241.7" r="2.6" fill="#f9fb0e"/>
<circle cx="171.2" cy="241.0" r="2.6" fill="#f9fb0e"/>
<circle cx="160.3" cy="244.7" r="2.6" fill="#f9fb0e"/>
<circle cx="155.9" cy="249.0" r="2.6" fill="#f9fb0e"/>
<circle cx="168.3" cy="249.8" r="2.6" fill="#f9fb0e"/>
<circle cx="162.5" cy="257.8" r="2.6" fill="#f9fb0e"/>
<circle cx="186.6" cy="255.6" r="2.6" fill="#f9fb0e"/>
<circle cx="189.5" cy="258.5" r="2.6" fill="#f9fb0e"/>
<circle cx="194.6" cy="261.4" r="2.6" fill="#f9fb0e"/>
<circle cx="179.3" cy="263.3" r="2.6" fill="#f9fb0e"/>
<circle cx="208.5" cy="240.3" r="2.6" fill="#f9fb0e"/>
<circle cx="209.9" cy="230.1" r="2.6" fill="#f9fb0e"/>
<circle cx="218.0" cy="228.6" r="2.6" fill="#f9fb0e"/>
<circle cx="223.8" cy="233.0" r="2.6" fill="#f9fb0e"/>
<circle cx="211.4" cy="214.0" r="2.6" fill="#f9fb0e"/>
<circle cx="215.8" cy="216.2" r="2.6" fill="#f9fb0e"/>
<circle cx="221.6" cy="214.0" r="2.6" fill="#f9fb0e"/>
<circle cx="212.9" cy="222.8" r="2.6" fill="#f9fb0e"/>
<circle cx="215.8" cy="220.6" r="2.6" fill="#f9fb0e"/>
<circle cx="228.9" cy="214.7" r="2.6" fill="#f9fb0e"/>
<circle cx="234.8" cy="214.0" r="2.6" fill="#f9fb0e"/>
<circle cx="240.6" cy="216.2" r="2.6" fill="#f9fb0e"/>
<circle cx="239.1" cy="222.0" r="2.6" fill="#f9fb0e"/>
<circle cx="240.6" cy="227.9" r="2.6" fill="#f9fb0e"/>
<circle cx="250.8" cy="232.2" r="2.6" fill="#f9fb0e"/>
<circle cx="228.2" cy="244.7" r="2.6" fill="#f9fb0e"/>
<circle cx="234.0" cy="246.1" r="2.6" fill="#f9fb0e"/>
<circle cx="242.1" cy="245.4" r="2.6" fill="#f9fb0e"/>
<circle cx="229.6" cy="256.3" r="2.6" fill="#f9fb0e"/>
<circle cx="240.6" cy="256.3" r="2.6" fill="#f9fb0e"/>
<circle cx="255.9" cy="215.5" r="2.6" fill="#f9fb0e"/>
<circle cx="261.8" cy="216.9" r="2.6" fill="#f9fb0e"/>
<circle cx="267.6" cy="218.4" r="2.6" fill="#f9fb0e"/>
<circle cx="274.9" cy="219.8" r="2.6" fill="#f9fb0e"/>
<circle cx="257.4" cy="222.8" r="2.6" fill="#f9fb0e"/>
<circle cx="264.7" cy="222.0" r="2.6" fill="#f9fb0e"/>
<circle cx="272.0" cy="224.2" r="2.6" fill="#f9fb0e"/>
<circle cx="277.8" cy="225.7" r="2.6" fill="#f9fb0e"/>
<circle cx="285.1" cy="227.1" r="2.6" fill="#f9fb0e"/>
<circle cx="280.7" cy="228.6" r="2.6" fill="#f9fb0e"/>
<circle cx="288.0" cy="222.8" r="2.6" fill="#f9fb0e"/>
<circle cx="293.9" cy="224.2" r="2.6" fill="#f9fb0e"/>
<circle cx="298.3" cy="222.8" r="2.6" fill="#f9fb0e"/>
<circle cx="295.3" cy="219.8" r="2.6" fill="#f9fb0e"/>
<circle cx="260.3" cy="233.0" r="2.6" fill="#f9fb0e"/>
<circle cx="266.1" cy="234.4" r="2.6" fill="#f9fb0e"/>
<circle cx="272.0" cy="233.0" r="2.6" fill="#f9fb0e"/>
<circle cx="253.0" cy="231.5" r="2.6" fill="#f9fb0e"/>
<circle cx="296.8" cy="217.6" r="2.6" fill="#f9fb0e"/>
<circle cx="302.6" cy="215.5" r="2.6" fill="#f9fb0e"/>
<circle cx="305.6" cy="218.4" r="2.6" fill="#f9fb0e"/>
<circle cx="270.5" cy="250.5" r="2.6" fill="#f9fb0e"/>
<circle cx="312.9" cy="242.5" r="2.6" fill="#f9fb0e"/>
<circle cx="315.8" cy="244.7" r="2.6" fill="#f9fb0e"/>
<circle cx="311.4" cy="245.4" r="2.6" fill="#f9fb0e"/>
<circle cx="327.5" cy="240.3" r="2.6" fill="#f9fb0e"/>
<circle cx="328.2" cy="219.8" r="2.6" fill="#f9fb0e"/>
<circle cx="326.0" cy="230.1" r="2.6" fill="#f9fb0e"/>
<circle cx="334.8" cy="233.0" r="2.6" fill="#f9fb0e"/>
<circle cx="334.8" cy="228.6" r="2.6" fill="#f9fb0e"/>
<circle cx="342.1" cy="234.4" r="2.6" fill="#f9fb0e"/>
<circle cx="347.9" cy="238.8" r="2.6" fill="#f9fb0e"/>
<circle cx="350.8" cy="225.0" r="2.6" fill="#f9fb0e"/>
<circle cx="296.8" cy="249.8" r="2.6" fill="#f9fb0e"/>
<circle cx="364.0" cy="228.2" r="2.6" fill="#f9fb0e"/>
<circle cx="362.5" cy="217.6" r="2.6" fill="#f9fb0e"/>
<circle cx="180.0" cy="266.7" r="2.6" fill="#f9fb0e"/>
<circle cx="267.6" cy="276.2" r="2.6" fill="#f9fb0e"/>
<circle cx="158.1" cy="112.2" r="2.6" fill="#f9fb0e"/>
<circle cx="177.1" cy="111.5" r="2.6" fill="#f9fb0e"/>
<circle cx="196.1" cy="112.9" r="2.6" fill="#f9fb0e"/>
<circle cx="224.5" cy="111.5" r="2.6" fill="#f9fb0e"/>
<circle cx="231.8" cy="112.2" r="2.6" fill="#f9fb0e"/>
<circle cx="170.5" cy="118.8" r="2.6" fill="#f9fb0e"/>
<circle cx="174.9" cy="120.2" r="2.6" fill="#f9fb0e"/>
<circle cx="167.6" cy="123.1" r="2.6" fill="#f9fb0e"/>
<circle cx="172.0" cy="124.6" r="2.6" fill="#f9fb0e"/>
<circle cx="177.1" cy="123.9" r="2.6" fill="#f9fb0e"/>
<circle cx="182.2" cy="123.1" r="2.6" fill="#f9fb0e"/>
<circle cx="186.6" cy="120.9" r="2.6" fill="#f9fb0e"/>
<circle cx="188.8" cy="115.8" r="2.6" fill="#f9fb0e"/>
<circle cx="169.1" cy="128.2" r="2.6" fill="#f9fb0e"/>
<circle cx="173.4" cy="127.5" r="2.6" fill="#f9fb0e"/>
<circle cx="178.5" cy="128.2" r="2.6" fill="#f9fb0e"/>
<circle cx="183.7" cy="128.2" r="2.6" fill="#f9fb0e"/>
<circle cx="188.0" cy="126.1" r="2.6" fill="#f9fb0e"/>
<circle cx="191.0" cy="130.4" r="2.6" fill="#f9fb0e"/>
<circle cx="195.3" cy="131.9" r="2.6" fill="#f9fb0e"/>
<circle cx="201.2" cy="118.8" r="2.6" fill="#f9fb0e"/>
<circle cx="199.7" cy="117.3" r="2.6" fill="#f9fb0e"/>
<circle cx="207.7" cy="123.9" r="2.6" fill="#f9fb0e"/>
<circle cx="201.2" cy="133.4" r="2.6" fill="#f9fb0e"/>
<circle cx="205.6" cy="131.9" r="2.6" fill="#f9fb0e"/>
<circle cx="208.5" cy="129.0" r="2.6" fill="#f9fb0e"/>
<circle cx="195.3" cy="135.5" r="2.6" fill="#f9fb0e"/>
<circle cx="199.7" cy="136.3" r="2.6" fill="#f9fb0e"/>
<circle cx="204.1" cy="137.0" r="2.6" fill="#f9fb0e"/>
<circle cx="208.5" cy="135.5" r="2.6" fill="#f9fb0e"/>
<circle cx="211.4" cy="137.7" r="2.6" fill="#f9fb0e"/>
<circle cx="215.8" cy="129.0" r="2.6" fill="#f9fb0e"/>
<circle cx="218.7" cy="126.1" r="2.6" fill="#f9fb0e"/>
<circle cx="221.6" cy="124.6" r="2.6" fill="#f9fb0e"/>
<circle cx="224.5" cy="127.5" r="2.6" fill="#f9fb0e"/>
<circle cx="215.8" cy="133.4" r="2.6" fill="#f9fb0e"/>
<circle cx="219.4" cy="131.9" r="2.6" fill="#f9fb0e"/>
<circle cx="226.0" cy="123.1" r="2.6" fill="#f9fb0e"/>
<circle cx="228.9" cy="117.3" r="2.6" fill="#f9fb0e"/>
<circle cx="231.8" cy="120.2" r="2.6" fill="#f9fb0e"/>
<circle cx="226.0" cy="118.0" r="2.6" fill="#f9fb0e"/>
<circle cx="237.7" cy="118.0" r="2.6" fill="#f9fb0e"/>
<circle cx="245.0" cy="127.5" r="2.6" fill="#f9fb0e"/>
<circle cx="250.8" cy="121.0" r="2.6" fill="#f9fb0e"/>
<circle cx="154.5" cy="124.6" r="2.6" fill="#f9fb0e"/>
<circle cx="155.2" cy="130.4" r="2.6" fill="#f9fb0e"/>
<circle cx="162.5" cy="134.1" r="2.6" fill="#f9fb0e"/>
<circle cx="172.0" cy="134.1" r="2.6" fill="#f9fb0e"/>
<circle cx="176.4" cy="135.5" r="2.6" fill="#f9fb0e"/>
<circle cx="182.9" cy="132.6" r="2.6" fill="#f9fb0e"/>
<circle cx="192.4" cy="134.8" r="2.6" fill="#f9fb0e"/>
<circle cx="167.6" cy="138.5" r="2.6" fill="#f9fb0e"/>
<circle cx="190.2" cy="139.2" r="2.6" fill="#f9fb0e"/>
<circle cx="193.9" cy="141.4" r="2.6" fill="#f9fb0e"/>
<circle cx="189.5" cy="143.6" r="2.6" fill="#f9fb0e"/>
<circle cx="201.2" cy="140.7" r="2.6" fill="#f9fb0e"/>
<circle cx="205.6" cy="141.4" r="2.6" fill="#f9fb0e"/>
<circle cx="210.0" cy="139.9" r="2.6" fill="#f9fb0e"/>
<circle cx="214.3" cy="141.4" r="2.6" fill="#f9fb0e"/>
<circle cx="218.7" cy="142.1" r="2.6" fill="#f9fb0e"/>
<circle cx="221.6" cy="139.9" r="2.6" fill="#f9fb0e"/>
<circle cx="226.0" cy="141.4" r="2.6" fill="#f9fb0e"/>
<circle cx="231.8" cy="141.4" r="2.6" fill="#f9fb0e"/>
<circle cx="158.8" cy="141.4" r="2.6" fill="#f9fb0e"/>
<circle cx="163.2" cy="142.8" r="2.6" fill="#f9fb0e"/>
<circle cx="155.9" cy="144.3" r="2.6" fill="#f9fb0e"/>
<circle cx="171.2" cy="142.8" r="2.6" fill="#f9fb0e"/>
<circle cx="181.5" cy="143.6" r="2.6" fill="#f9fb0e"/>
<circle cx="454.8" cy="84.3" r="2.6" fill="#0364e1"/>
<circle cx="456.1" cy="96.7" r="2.6" fill="#352a87"/>
<circle cx="559.8" cy="63.0" r="2.6" fill="#0364e1"/>
<circle cx="537.4" cy="79.0" r="2.6" fill="#352a87"/>
<circle cx="521.3" cy="92.2" r="2.6" fill="#352a87"/>
<circle cx="516.2" cy="91.6" r="2.6" fill="#352a87"/>
<circle cx="507.0" cy="94.9" r="2.6" fill="#352a87"/>
<circle cx="518.6" cy="97.1" r="2.6" fill="#352a87"/>
<circle cx="145.7" cy="75.0" r="2.6" fill="#118cd2"/>
<circle cx="115.8" cy="80.7" r="2.6" fill="#352a87"/>
<circle cx="98.5" cy="86.5" r="2.6" fill="#352a87"/>
<circle cx="89.2" cy="100.6" r="2.6" fill="#352a87"/>
<circle cx="118.0" cy="102.6" r="2.6" fill="#352a87"/>
<circle cx="134.8" cy="106.7" r="2.6" fill="#88bf77"/>
<circle cx="152.5" cy="95.0" r="2.6" fill="#118cd2"/>
<circle cx="162.1" cy="72.4" r="2.6" fill="#88bf77"/>
<circle cx="166.9" cy="76.8" r="2.6" fill="#118cd2"/>
<circle cx="167.6" cy="80.0" r="2.6" fill="#352a87"/>
<circle cx="238.8" cy="85.2" r="2.6" fill="#0364e1"/>
<circle cx="157.4" cy="88.4" r="2.6" fill="#118cd2"/>
<circle cx="165.8" cy="88.4" r="2.6" fill="#18b1b2"/>
<circle cx="155.2" cy="94.6" r="2.6" fill="#0364e1"/>
<circle cx="158.8" cy="93.5" r="2.6" fill="#fec13a"/>
<circle cx="170.5" cy="96.5" r="2.6" fill="#fec13a"/>
<circle cx="198.3" cy="99.8" r="2.6" fill="#352a87"/>
<circle cx="209.2" cy="103.3" r="2.6" fill="#118cd2"/>
<circle cx="243.5" cy="105.2" r="2.6" fill="#352a87"/>
<circle cx="234.0" cy="107.4" r="2.6" fill="#fec13a"/>
<circle cx="189.2" cy="103.0" r="2.6" fill="#fec13a"/>
<circle cx="175.6" cy="103.0" r="2.6" fill="#fec13a"/>
<circle cx="166.9" cy="114.7" r="2.6" fill="#88bf77"/>
<circle cx="188.0" cy="114.4" r="2.6" fill="#88bf77"/>
<circle cx="216.2" cy="115.0" r="2.6" fill="#352a87"/>
<circle cx="236.2" cy="114.7" r="2.6" fill="#fec13a"/>
<circle cx="319.4" cy="100.4" r="2.6" fill="#fec13a"/>
<circle cx="288.8" cy="110.6" r="2.6" fill="#352a87"/>
<circle cx="315.5" cy="109.2" r="2.6" fill="#18b1b2"/>
<circle cx="313.6" cy="113.3" r="2.6" fill="#18b1b2"/>
<circle cx="404.8" cy="83.0" r="2.6" fill="#352a87"/>
<circle cx="448.2" cy="93.1" r="2.6" fill="#88bf77"/>
<circle cx="438.4" cy="103.8" r="2.6" fill="#0364e1"/>
<circle cx="447.6" cy="106.2" r="2.6" fill="#0364e1"/>
<circle cx="388.8" cy="111.1" r="2.6" fill="#352a87"/>
<circle cx="386.6" cy="116.2" r="2.6" fill="#0364e1"/>
<circle cx="396.1" cy="115.4" r="2.6" fill="#118cd2"/>
<circle cx="406.3" cy="116.9" r="2.6" fill="#18b1b2"/>
<circle cx="119.0" cy="120.2" r="2.6" fill="#352a87"/>
<circle cx="150.8" cy="120.9" r="2.6" fill="#352a87"/>
<circle cx="133.0" cy="130.8" r="2.6" fill="#0364e1"/>
<circle cx="143.5" cy="135.5" r="2.6" fill="#352a87"/>
<circle cx="125.3" cy="145.0" r="2.6" fill="#352a87"/>
<circle cx="131.8" cy="145.7" r="2.6" fill="#fec13a"/>
<circle cx="135.5" cy="148.7" r="2.6" fill="#18b1b2"/>
<circle cx="141.8" cy="144.0" r="2.6" fill="#352a87"/>
<circle cx="141.3" cy="150.1" r="2.6" fill="#352a87"/>
<circle cx="131.8" cy="152.3" r="2.6" fill="#352a87"/>
<circle cx="147.9" cy="156.0" r="2.6" fill="#118cd2"/>
<circle cx="129.6" cy="164.4" r="2.6" fill="#fec13a"/>
<circle cx="140.6" cy="166.9" r="2.6" fill="#352a87"/>
<circle cx="147.6" cy="165.4" r="2.6" fill="#88bf77"/>
<circle cx="157.1" cy="125.3" r="2.6" fill="#18b1b2"/>
<circle cx="184.4" cy="119.8" r="2.6" fill="#fec13a"/>
<circle cx="194.2" cy="123.1" r="2.6" fill="#18b1b2"/>
<circle cx="198.3" cy="119.5" r="2.6" fill="#88bf77"/>
<circle cx="222.3" cy="119.5" r="2.6" fill="#18b1b2"/>
<circle cx="235.5" cy="123.1" r="2.6" fill="#88bf77"/>
<circle cx="188.0" cy="134.1" r="2.6" fill="#118cd2"/>
<circle cx="184.8" cy="139.6" r="2.6" fill="#352a87"/>
<circle cx="177.5" cy="144.3" r="2.6" fill="#352a87"/>
<circle cx="222.8" cy="133.8" r="2.6" fill="#118cd2"/>
<circle cx="228.2" cy="137.3" r="2.6" fill="#88bf77"/>
<circle cx="241.3" cy="140.6" r="2.6" fill="#118cd2"/>
<circle cx="222.8" cy="148.7" r="2.6" fill="#fec13a"/>
<circle cx="240.6" cy="152.3" r="2.6" fill="#0364e1"/>
<circle cx="248.2" cy="153.3" r="2.6" fill="#fec13a"/>
<circle cx="171.2" cy="155.7" r="2.6" fill="#352a87"/>
<circle cx="190.2" cy="156.7" r="2.6" fill="#fec13a"/>
<circle cx="199.4" cy="157.4" r="2.6" fill="#118cd2"/>
<circle cx="226.0" cy="154.5" r="2.6" fill="#88bf77"/>
<circle cx="231.8" cy="157.1" r="2.6" fill="#18b1b2"/>
<circle cx="243.5" cy="160.3" r="2.6" fill="#118cd2"/>
<circle cx="219.9" cy="164.4" r="2.6" fill="#fec13a"/>
<circle cx="176.4" cy="165.4" r="2.6" fill="#88bf77"/>
<circle cx="207.3" cy="164.7" r="2.6" fill="#118cd2"/>
<circle cx="231.8" cy="166.2" r="2.6" fill="#352a87"/>
<circle cx="156.6" cy="163.3" r="2.6" fill="#88bf77"/>
<circle cx="240.3" cy="166.2" r="2.6" fill="#352a87"/>
<circle cx="255.2" cy="123.5" r="2.6" fill="#fec13a"/>
<circle cx="277.1" cy="130.4" r="2.6" fill="#fec13a"/>
<circle cx="342.8" cy="130.8" r="2.6" fill="#0364e1"/>
<circle cx="339.9" cy="135.5" r="2.6" fill="#352a87"/>
<circle cx="282.9" cy="147.9" r="2.6" fill="#352a87"/>
<circle cx="262.1" cy="149.4" r="2.6" fill="#fec13a"/>
<circle cx="319.4" cy="148.4" r="2.6" fill="#118cd2"/>
<circle cx="327.5" cy="152.7" r="2.6" fill="#352a87"/>
<circle cx="257.4" cy="157.1" r="2.6" fill="#18b1b2"/>
<circle cx="290.2" cy="165.9" r="2.6" fill="#352a87"/>
<circle cx="318.0" cy="164.4" r="2.6" fill="#352a87"/>
<circle cx="324.5" cy="166.9" r="2.6" fill="#352a87"/>
<circle cx="334.0" cy="160.3" r="2.6" fill="#352a87"/>
<circle cx="337.7" cy="165.4" r="2.6" fill="#352a87"/>
<circle cx="342.1" cy="165.9" r="2.6" fill="#352a87"/>
<circle cx="346.4" cy="154.5" r="2.6" fill="#352a87"/>
<circle cx="343.5" cy="157.4" r="2.6" fill="#352a87"/>
<circle cx="350.1" cy="161.8" r="2.6" fill="#fec13a"/>
<circle cx="357.4" cy="124.1" r="2.6" fill="#0364e1"/>
<circle cx="386.9" cy="118.0" r="2.6" fill="#352a87"/>
<circle cx="405.8" cy="119.2" r="2.6" fill="#18b1b2"/>
<circle cx="421.9" cy="120.2" r="2.6" fill="#88bf77"/>
<circle cx="432.6" cy="120.2" r="2.6" fill="#352a87"/>
<circle cx="388.8" cy="126.0" r="2.6" fill="#118cd2"/>
<circle cx="396.8" cy="126.0" r="2.6" fill="#352a87"/>
<circle cx="399.7" cy="123.8" r="2.6" fill="#352a87"/>
<circle cx="396.1" cy="129.0" r="2.6" fill="#352a87"/>
<circle cx="428.9" cy="126.0" r="2.6" fill="#352a87"/>
<circle cx="405.6" cy="130.8" r="2.6" fill="#352a87"/>
<circle cx="366.1" cy="134.4" r="2.6" fill="#352a87"/>
<circle cx="367.6" cy="139.2" r="2.6" fill="#352a87"/>
<circle cx="374.9" cy="132.6" r="2.6" fill="#352a87"/>
<circle cx="385.8" cy="133.8" r="2.6" fill="#352a87"/>
<circle cx="391.0" cy="135.5" r="2.6" fill="#fec13a"/>
<circle cx="379.3" cy="138.1" r="2.6" fill="#18b1b2"/>
<circle cx="388.8" cy="139.2" r="2.6" fill="#118cd2"/>
<circle cx="399.7" cy="141.4" r="2.6" fill="#118cd2"/>
<circle cx="378.5" cy="143.5" r="2.6" fill="#118cd2"/>
<circle cx="366.1" cy="147.9" r="2.6" fill="#18b1b2"/>
<circle cx="359.6" cy="148.7" r="2.6" fill="#fec13a"/>
<circle cx="370.5" cy="147.9" r="2.6" fill="#352a87"/>
<circle cx="382.2" cy="147.2" r="2.6" fill="#118cd2"/>
<circle cx="387.3" cy="150.1" r="2.6" fill="#18b1b2"/>
<circle cx="377.8" cy="153.0" r="2.6" fill="#18b1b2"/>
<circle cx="355.2" cy="153.0" r="2.6" fill="#352a87"/>
<circle cx="354.5" cy="145.7" r="2.6" fill="#352a87"/>
<circle cx="361.8" cy="157.1" r="2.6" fill="#352a87"/>
<circle cx="389.5" cy="160.3" r="2.6" fill="#118cd2"/>
<circle cx="396.1" cy="156.0" r="2.6" fill="#352a87"/>
<circle cx="364.7" cy="161.8" r="2.6" fill="#352a87"/>
<circle cx="361.8" cy="164.7" r="2.6" fill="#352a87"/>
<circle cx="369.1" cy="165.4" r="2.6" fill="#352a87"/>
<circle cx="405.6" cy="147.9" r="2.6" fill="#352a87"/>
<circle cx="415.8" cy="151.6" r="2.6" fill="#118cd2"/>
<circle cx="441.3" cy="134.8" r="2.6" fill="#352a87"/>
<circle cx="448.6" cy="132.6" r="2.6" fill="#352a87"/>
<circle cx="447.9" cy="137.0" r="2.6" fill="#352a87"/>
<circle cx="431.8" cy="144.3" r="2.6" fill="#352a87"/>
<circle cx="436.9" cy="146.5" r="2.6" fill="#352a87"/>
<circle cx="440.6" cy="143.5" r="2.6" fill="#352a87"/>
<circle cx="428.9" cy="147.9" r="2.6" fill="#352a87"/>
<circle cx="434.0" cy="149.4" r="2.6" fill="#352a87"/>
<circle cx="442.1" cy="151.3" r="2.6" fill="#352a87"/>
<circle cx="427.5" cy="153.8" r="2.6" fill="#352a87"/>
<circle cx="421.6" cy="153.8" r="2.6" fill="#352a87"/>
<circle cx="417.2" cy="154.5" r="2.6" fill="#352a87"/>
<circle cx="411.4" cy="156.7" r="2.6" fill="#352a87"/>
<circle cx="414.3" cy="158.9" r="2.6" fill="#352a87"/>
<circle cx="418.7" cy="157.4" r="2.6" fill="#352a87"/>
<circle cx="423.1" cy="160.3" r="2.6" fill="#352a87"/>
<circle cx="408.5" cy="161.8" r="2.6" fill="#352a87"/>
<circle cx="404.1" cy="161.8" r="2.6" fill="#352a87"/>
<circle cx="401.2" cy="163.3" r="2.6" fill="#352a87"/>
<circle cx="396.8" cy="165.4" r="2.6" fill="#352a87"/>
<circle cx="404.1" cy="166.2" r="2.6" fill="#352a87"/>
<circle cx="411.4" cy="164.7" r="2.6" fill="#352a87"/>
<circle cx="417.2" cy="164.7" r="2.6" fill="#352a87"/>
<circle cx="421.6" cy="164.7" r="2.6" fill="#352a87"/>
<circle cx="428.9" cy="166.2" r="2.6" fill="#352a87"/>
<circle cx="434.8" cy="161.8" r="2.6" fill="#352a87"/>
<circle cx="443.5" cy="161.8" r="2.6" fill="#352a87"/>
<circle cx="446.4" cy="163.3" r="2.6" fill="#352a87"/>
<circle cx="449.4" cy="160.3" r="2.6" fill="#352a87"/>
<circle cx="401.2" cy="161.8" r="2.6" fill="#0364e1"/>
<circle cx="405.6" cy="160.3" r="2.6" fill="#0364e1"/>
<circle cx="414.3" cy="161.8" r="2.6" fill="#0364e1"/>
<circle cx="483.7" cy="108.9" r="2.6" fill="#352a87"/>
<circle cx="486.6" cy="106.0" r="2.6" fill="#352a87"/>
<circle cx="489.5" cy="105.2" r="2.6" fill="#352a87"/>
<circle cx="491.7" cy="108.1" r="2.6" fill="#352a87"/>
<circle cx="496.8" cy="106.0" r="2.6" fill="#352a87"/>
<circle cx="498.5" cy="110.3" r="2.6" fill="#352a87"/>
<circle cx="490.2" cy="116.2" r="2.6" fill="#352a87"/>
<circle cx="483.7" cy="119.5" r="2.6" fill="#352a87"/>
<circle cx="469.8" cy="122.0" r="2.6" fill="#352a87"/>
<circle cx="475.6" cy="126.0" r="2.6" fill="#352a87"/>
<circle cx="478.5" cy="125.4" r="2.6" fill="#352a87"/>
<circle cx="456.6" cy="127.1" r="2.6" fill="#352a87"/>
<circle cx="460.0" cy="128.9" r="2.6" fill="#352a87"/>
<circle cx="458.1" cy="129.7" r="2.6" fill="#0364e1"/>
<circle cx="466.1" cy="130.0" r="2.6" fill="#352a87"/>
<circle cx="468.3" cy="128.9" r="2.6" fill="#352a87"/>
<circle cx="475.6" cy="132.2" r="2.6" fill="#352a87"/>
<circle cx="469.8" cy="137.6" r="2.6" fill="#352a87"/>
<circle cx="461.8" cy="140.3" r="2.6" fill="#352a87"/>
<circle cx="512.1" cy="129.6" r="2.6" fill="#352a87"/>
<circle cx="519.4" cy="137.3" r="2.6" fill="#352a87"/>
<circle cx="543.2" cy="130.0" r="2.6" fill="#352a87"/>
<circle cx="499.0" cy="146.1" r="2.6" fill="#352a87"/>
<circle cx="499.0" cy="149.9" r="2.6" fill="#352a87"/>
<circle cx="469.1" cy="155.3" r="2.6" fill="#352a87"/>
<circle cx="474.2" cy="158.2" r="2.6" fill="#352a87"/>
<circle cx="478.1" cy="158.2" r="2.6" fill="#352a87"/>
<circle cx="485.1" cy="159.3" r="2.6" fill="#352a87"/>
<circle cx="485.4" cy="162.6" r="2.6" fill="#352a87"/>
<circle cx="453.0" cy="165.5" r="2.6" fill="#352a87"/>
<circle cx="458.5" cy="169.9" r="2.6" fill="#352a87"/>
<circle cx="466.9" cy="167.0" r="2.6" fill="#352a87"/>
<circle cx="475.2" cy="167.7" r="2.6" fill="#352a87"/>
<circle cx="112.1" cy="177.0" r="2.6" fill="#352a87"/>
<circle cx="123.8" cy="179.1" r="2.6" fill="#352a87"/>
<circle cx="132.6" cy="181.3" r="2.6" fill="#fec13a"/>
<circle cx="146.4" cy="177.4" r="2.6" fill="#18b1b2"/>
<circle cx="124.5" cy="188.6" r="2.6" fill="#352a87"/>
<circle cx="136.2" cy="190.1" r="2.6" fill="#352a87"/>
<circle cx="146.4" cy="186.4" r="2.6" fill="#fec13a"/>
<circle cx="142.0" cy="193.0" r="2.6" fill="#fec13a"/>
<circle cx="115.8" cy="200.3" r="2.6" fill="#18b1b2"/>
<circle cx="127.5" cy="198.1" r="2.6" fill="#88bf77"/>
<circle cx="147.2" cy="202.5" r="2.6" fill="#352a87"/>
<circle cx="148.6" cy="208.3" r="2.6" fill="#352a87"/>
<circle cx="140.6" cy="209.1" r="2.6" fill="#118cd2"/>
<circle cx="143.5" cy="211.3" r="2.6" fill="#118cd2"/>
<circle cx="140.6" cy="212.7" r="2.6" fill="#118cd2"/>
<circle cx="134.0" cy="214.2" r="2.6" fill="#18b1b2"/>
<circle cx="102.6" cy="214.9" r="2.6" fill="#118cd2"/>
<circle cx="107.0" cy="214.9" r="2.6" fill="#118cd2"/>
<circle cx="126.7" cy="170.4" r="2.6" fill="#18b1b2"/>
<circle cx="180.7" cy="172.6" r="2.6" fill="#18b1b2"/>
<circle cx="209.2" cy="170.4" r="2.6" fill="#352a87"/>
<circle cx="212.9" cy="172.6" r="2.6" fill="#352a87"/>
<circle cx="205.6" cy="173.3" r="2.6" fill="#118cd2"/>
<circle cx="241.3" cy="168.9" r="2.6" fill="#352a87"/>
<circle cx="232.6" cy="166.7" r="2.6" fill="#352a87"/>
<circle cx="161.0" cy="180.6" r="2.6" fill="#352a87"/>
<circle cx="165.4" cy="186.4" r="2.6" fill="#fec13a"/>
<circle cx="158.8" cy="189.4" r="2.6" fill="#118cd2"/>
<circle cx="170.5" cy="191.5" r="2.6" fill="#18b1b2"/>
<circle cx="172.0" cy="194.5" r="2.6" fill="#18b1b2"/>
<circle cx="175.6" cy="190.8" r="2.6" fill="#118cd2"/>
<circle cx="193.1" cy="181.3" r="2.6" fill="#88bf77"/>
<circle cx="196.8" cy="176.2" r="2.6" fill="#88bf77"/>
<circle cx="205.6" cy="190.1" r="2.6" fill="#118cd2"/>
<circle cx="215.8" cy="187.9" r="2.6" fill="#fec13a"/>
<circle cx="231.8" cy="194.5" r="2.6" fill="#352a87"/>
<circle cx="240.3" cy="189.4" r="2.6" fill="#18b1b2"/>
<circle cx="249.4" cy="183.5" r="2.6" fill="#88bf77"/>
<circle cx="155.9" cy="199.6" r="2.6" fill="#18b1b2"/>
<circle cx="159.6" cy="201.0" r="2.6" fill="#118cd2"/>
<circle cx="166.9" cy="206.1" r="2.6" fill="#18b1b2"/>
<circle cx="196.8" cy="195.2" r="2.6" fill="#118cd2"/>
<circle cx="203.4" cy="201.8" r="2.6" fill="#352a87"/>
<circle cx="201.2" cy="204.7" r="2.6" fill="#352a87"/>
<circle cx="220.9" cy="199.9" r="2.6" fill="#18b1b2"/>
<circle cx="215.5" cy="205.7" r="2.6" fill="#0364e1"/>
<circle cx="207.0" cy="209.1" r="2.6" fill="#118cd2"/>
<circle cx="192.4" cy="197.4" r="2.6" fill="#fec13a"/>
<circle cx="236.2" cy="214.2" r="2.6" fill="#fec13a"/>
<circle cx="182.9" cy="214.2" r="2.6" fill="#fec13a"/>
<circle cx="290.2" cy="167.2" r="2.6" fill="#352a87"/>
<circle cx="298.3" cy="171.8" r="2.6" fill="#352a87"/>
<circle cx="307.7" cy="174.0" r="2.6" fill="#352a87"/>
<circle cx="324.5" cy="168.2" r="2.6" fill="#352a87"/>
<circle cx="340.6" cy="167.5" r="2.6" fill="#352a87"/>
<circle cx="346.4" cy="166.7" r="2.6" fill="#352a87"/>
<circle cx="255.9" cy="177.7" r="2.6" fill="#352a87"/>
<circle cx="280.7" cy="186.4" r="2.6" fill="#352a87"/>
<circle cx="276.4" cy="192.3" r="2.6" fill="#118cd2"/>
<circle cx="286.6" cy="194.5" r="2.6" fill="#18b1b2"/>
<circle cx="283.7" cy="198.8" r="2.6" fill="#118cd2"/>
<circle cx="276.4" cy="201.0" r="2.6" fill="#fec13a"/>
<circle cx="307.0" cy="185.7" r="2.6" fill="#352a87"/>
<circle cx="312.1" cy="184.7" r="2.6" fill="#118cd2"/>
<circle cx="320.2" cy="184.2" r="2.6" fill="#18b1b2"/>
<circle cx="326.0" cy="174.8" r="2.6" fill="#118cd2"/>
<circle cx="328.9" cy="177.7" r="2.6" fill="#18b1b2"/>
<circle cx="332.6" cy="175.5" r="2.6" fill="#118cd2"/>
<circle cx="326.0" cy="186.4" r="2.6" fill="#118cd2"/>
<circle cx="331.8" cy="181.3" r="2.6" fill="#118cd2"/>
<circle cx="337.7" cy="181.3" r="2.6" fill="#118cd2"/>
<circle cx="337.7" cy="186.4" r="2.6" fill="#352a87"/>
<circle cx="342.1" cy="189.4" r="2.6" fill="#118cd2"/>
<circle cx="349.4" cy="188.6" r="2.6" fill="#352a87"/>
<circle cx="309.2" cy="193.0" r="2.6" fill="#18b1b2"/>
<circle cx="317.2" cy="198.8" r="2.6" fill="#118cd2"/>
<circle cx="321.6" cy="201.0" r="2.6" fill="#fec13a"/>
<circle cx="326.0" cy="201.0" r="2.6" fill="#118cd2"/>
<circle cx="320.2" cy="204.7" r="2.6" fill="#118cd2"/>
<circle cx="330.4" cy="205.4" r="2.6" fill="#118cd2"/>
<circle cx="340.6" cy="201.0" r="2.6" fill="#118cd2"/>
<circle cx="302.6" cy="201.0" r="2.6" fill="#352a87"/>
<circle cx="296.8" cy="201.8" r="2.6" fill="#352a87"/>
<circle cx="287.3" cy="208.3" r="2.6" fill="#352a87"/>
<circle cx="270.5" cy="207.6" r="2.6" fill="#352a87"/>
<circle cx="273.4" cy="213.4" r="2.6" fill="#118cd2"/>
<circle cx="290.2" cy="212.7" r="2.6" fill="#118cd2"/>
<circle cx="306.3" cy="213.0" r="2.6" fill="#352a87"/>
<circle cx="314.3" cy="208.3" r="2.6" fill="#118cd2"/>
<circle cx="346.4" cy="202.5" r="2.6" fill="#118cd2"/>
<circle cx="363.2" cy="179.1" r="2.6" fill="#352a87"/>
<circle cx="367.6" cy="168.9" r="2.6" fill="#352a87"/>
<circle cx="372.0" cy="171.1" r="2.6" fill="#352a87"/>
<circle cx="374.9" cy="172.6" r="2.6" fill="#352a87"/>
<circle cx="370.5" cy="171.8" r="2.6" fill="#118cd2"/>
<circle cx="386.6" cy="168.9" r="2.6" fill="#118cd2"/>
<circle cx="404.1" cy="168.9" r="2.6" fill="#118cd2"/>
<circle cx="396.8" cy="170.4" r="2.6" fill="#352a87"/>
<circle cx="398.3" cy="174.0" r="2.6" fill="#352a87"/>
<circle cx="401.2" cy="168.2" r="2.6" fill="#352a87"/>
<circle cx="408.5" cy="168.9" r="2.6" fill="#352a87"/>
<circle cx="410.7" cy="172.6" r="2.6" fill="#352a87"/>
<circle cx="405.6" cy="176.2" r="2.6" fill="#352a87"/>
<circle cx="414.3" cy="166.7" r="2.6" fill="#352a87"/>
<circle cx="421.6" cy="168.2" r="2.6" fill="#352a87"/>
<circle cx="432.6" cy="172.6" r="2.6" fill="#352a87"/>
<circle cx="440.6" cy="170.4" r="2.6" fill="#352a87"/>
<circle cx="445.0" cy="168.9" r="2.6" fill="#352a87"/>
<circle cx="449.4" cy="171.8" r="2.6" fill="#352a87"/>
<circle cx="444.2" cy="174.0" r="2.6" fill="#352a87"/>
<circle cx="448.6" cy="174.8" r="2.6" fill="#352a87"/>
<circle cx="449.4" cy="179.1" r="2.6" fill="#352a87"/>
<circle cx="446.4" cy="180.6" r="2.6" fill="#fec13a"/>
<circle cx="411.4" cy="179.9" r="2.6" fill="#352a87"/>
<circle cx="420.2" cy="179.1" r="2.6" fill="#352a87"/>
<circle cx="424.5" cy="179.9" r="2.6" fill="#352a87"/>
<circle cx="417.2" cy="182.8" r="2.6" fill="#352a87"/>
<circle cx="430.4" cy="180.6" r="2.6" fill="#352a87"/>
<circle cx="431.1" cy="183.5" r="2.6" fill="#352a87"/>
<circle cx="406.3" cy="185.7" r="2.6" fill="#352a87"/>
<circle cx="412.9" cy="187.9" r="2.6" fill="#352a87"/>
<circle cx="417.2" cy="187.9" r="2.6" fill="#352a87"/>
<circle cx="424.5" cy="191.5" r="2.6" fill="#352a87"/>
<circle cx="414.3" cy="193.0" r="2.6" fill="#352a87"/>
<circle cx="418.7" cy="194.5" r="2.6" fill="#352a87"/>
<circle cx="361.8" cy="199.6" r="2.6" fill="#118cd2"/>
<circle cx="114.3" cy="217.6" r="2.6" fill="#118cd2"/>
<circle cx="104.8" cy="225.7" r="2.6" fill="#352a87"/>
<circle cx="120.9" cy="220.6" r="2.6" fill="#fec13a"/>
<circle cx="127.5" cy="219.8" r="2.6" fill="#fec13a"/>
<circle cx="134.0" cy="216.2" r="2.6" fill="#88bf77"/>
<circle cx="137.7" cy="227.4" r="2.6" fill="#352a87"/>
<circle cx="128.9" cy="230.8" r="2.6" fill="#18b1b2"/>
<circle cx="147.9" cy="231.5" r="2.6" fill="#fec13a"/>
<circle cx="112.1" cy="238.1" r="2.6" fill="#18b1b2"/>
<circle cx="113.6" cy="240.3" r="2.6" fill="#18b1b2"/>
<circle cx="103.8" cy="242.9" r="2.6" fill="#352a87"/>
<circle cx="119.4" cy="242.5" r="2.6" fill="#88bf77"/>
<circle cx="124.5" cy="246.1" r="2.6" fill="#88bf77"/>
<circle cx="91.2" cy="253.1" r="2.6" fill="#352a87"/>
<circle cx="152.0" cy="241.0" r="2.6" fill="#352a87"/>
<circle cx="143.5" cy="214.7" r="2.6" fill="#0364e1"/>
<circle cx="161.8" cy="217.6" r="2.6" fill="#352a87"/>
<circle cx="181.5" cy="215.5" r="2.6" fill="#fec13a"/>
<circle cx="192.4" cy="216.2" r="2.6" fill="#118cd2"/>
<circle cx="168.3" cy="221.3" r="2.6" fill="#18b1b2"/>
<circle cx="154.5" cy="228.6" r="2.6" fill="#18b1b2"/>
<circle cx="153.7" cy="241.0" r="2.6" fill="#352a87"/>
<circle cx="174.9" cy="245.4" r="2.6" fill="#fec13a"/>
<circle cx="202.6" cy="243.9" r="2.6" fill="#fec13a"/>
<circle cx="234.8" cy="220.6" r="2.6" fill="#88bf77"/>
<circle cx="237.7" cy="241.0" r="2.6" fill="#fec13a"/>
<circle cx="242.8" cy="242.5" r="2.6" fill="#118cd2"/>
<circle cx="249.4" cy="245.4" r="2.6" fill="#0364e1"/>
<circle cx="250.5" cy="240.3" r="2.6" fill="#0364e1"/>
<circle cx="221.6" cy="258.1" r="2.6" fill="#352a87"/>
<circle cx="234.0" cy="256.3" r="2.6" fill="#118cd2"/>
<circle cx="228.9" cy="262.2" r="2.6" fill="#118cd2"/>
<circle cx="236.5" cy="262.5" r="2.6" fill="#352a87"/>
<circle cx="273.4" cy="214.7" r="2.6" fill="#118cd2"/>
<circle cx="280.0" cy="216.9" r="2.6" fill="#118cd2"/>
<circle cx="283.7" cy="221.3" r="2.6" fill="#18b1b2"/>
<circle cx="289.5" cy="220.6" r="2.6" fill="#118cd2"/>
<circle cx="290.2" cy="223.5" r="2.6" fill="#352a87"/>
<circle cx="301.2" cy="215.5" r="2.6" fill="#118cd2"/>
<circle cx="270.5" cy="222.8" r="2.6" fill="#fec13a"/>
<circle cx="261.8" cy="225.0" r="2.6" fill="#352a87"/>
<circle cx="279.3" cy="233.7" r="2.6" fill="#118cd2"/>
<circle cx="280.0" cy="237.4" r="2.6" fill="#118cd2"/>
<circle cx="288.0" cy="234.4" r="2.6" fill="#118cd2"/>
<circle cx="288.8" cy="238.1" r="2.6" fill="#118cd2"/>
<circle cx="254.5" cy="243.9" r="2.6" fill="#fec13a"/>
<circle cx="257.4" cy="242.5" r="2.6" fill="#352a87"/>
<circle cx="293.1" cy="241.0" r="2.6" fill="#352a87"/>
<circle cx="298.3" cy="245.4" r="2.6" fill="#352a87"/>
<circle cx="295.3" cy="249.0" r="2.6" fill="#352a87"/>
<circle cx="301.2" cy="249.8" r="2.6" fill="#352a87"/>
<circle cx="295.3" cy="252.7" r="2.6" fill="#352a87"/>
<circle cx="293.9" cy="257.8" r="2.6" fill="#352a87"/>
<circle cx="311.4" cy="254.1" r="2.6" fill="#352a87"/>
<circle cx="311.4" cy="258.5" r="2.6" fill="#352a87"/>
<circle cx="323.1" cy="249.0" r="2.6" fill="#352a87"/>
<circle cx="258.8" cy="249.8" r="2.6" fill="#352a87"/>
<circle cx="260.3" cy="254.9" r="2.6" fill="#352a87"/>
<circle cx="266.1" cy="246.1" r="2.6" fill="#352a87"/>
<circle cx="272.0" cy="249.0" r="2.6" fill="#352a87"/>
<circle cx="276.4" cy="253.4" r="2.6" fill="#352a87"/>
<circle cx="280.7" cy="254.9" r="2.6" fill="#352a87"/>
<circle cx="264.0" cy="260.7" r="2.6" fill="#352a87"/>
<circle cx="274.2" cy="262.9" r="2.6" fill="#352a87"/>
<circle cx="284.4" cy="261.4" r="2.6" fill="#352a87"/>
<circle cx="283.7" cy="263.6" r="2.6" fill="#352a87"/>
<circle cx="301.2" cy="260.4" r="2.6" fill="#118cd2"/>
<circle cx="301.2" cy="231.5" r="2.6" fill="#0364e1"/>
<circle cx="289.5" cy="254.9" r="2.6" fill="#fec13a"/>
<circle cx="354.5" cy="215.5" r="2.6" fill="#352a87"/>
<circle cx="358.8" cy="218.4" r="2.6" fill="#352a87"/>
<circle cx="355.9" cy="221.3" r="2.6" fill="#352a87"/>
<circle cx="358.1" cy="225.7" r="2.6" fill="#352a87"/>
<circle cx="359.6" cy="232.2" r="2.6" fill="#352a87"/>
<circle cx="366.9" cy="219.8" r="2.6" fill="#352a87"/>
<circle cx="371.2" cy="221.3" r="2.6" fill="#352a87"/>
<circle cx="374.9" cy="222.8" r="2.6" fill="#352a87"/>
<circle cx="378.5" cy="216.9" r="2.6" fill="#352a87"/>
<circle cx="382.2" cy="219.8" r="2.6" fill="#352a87"/>
<circle cx="384.4" cy="222.0" r="2.6" fill="#352a87"/>
<circle cx="373.4" cy="216.2" r="2.6" fill="#352a87"/>
<circle cx="380.7" cy="214.7" r="2.6" fill="#352a87"/>
<circle cx="370.5" cy="215.5" r="2.6" fill="#352a87"/>
<circle cx="243.5" cy="267.1" r="2.6" fill="#352a87"/>
<circle cx="249.1" cy="272.5" r="2.6" fill="#352a87"/>
<circle cx="239.4" cy="287.5" r="2.6" fill="#352a87"/>
<circle cx="252.0" cy="286.5" r="2.6" fill="#352a87"/>
<circle cx="258.8" cy="267.5" r="2.6" fill="#352a87"/>
</g>
<line x1="162.60" y1="312.36" x2="601.00" y2="36.20" stroke="#262626" stroke-width="0.8"/>
<path d="M53,18.8 V312.9 H601" fill="none" stroke="#808080" stroke-width="1.2"/>
<line x1="53" y1="295.10" x2="58.5" y2="295.10" stroke="#3a3a3a" stroke-width="0.9"/>
<text x="48" y="301.70" font-size="14.5" text-anchor="end" fill="#262626" font-family='"Liberation Sans", sans-serif'>0</text>
<line x1="53" y1="251.95" x2="58.5" y2="251.95" stroke="#3a3a3a" stroke-width="0.9"/>
<text x="48" y="258.55" font-size="14.5" text-anchor="end" fill="#262626" font-family='"Liberation Sans", sans-serif'>0.05</text>
<line x1="53" y1="208.80" x2="58.5" y2="208.80" stroke="#3a3a3a" stroke-width="0.9"/>
<text x="48" y="215.40" font-size="14.5" text-anchor="end" fill="#262626" font-family='"Liberation Sans", sans-serif'>0.1</text>
<line x1="53" y1="165.65" x2="58.5" y2="165.65" stroke="#3a3a3a" stroke-width="0.9"/>
<text x="48" y="172.25" font-size="14.5" text-anchor="end" fill="#262626" font-family='"Liberation Sans", sans-serif'>0.15</text>
<line x1="53" y1="122.50" x2="58.5" y2="122.50" stroke="#3a3a3a" stroke-width="0.9"/>
<text x="48" y="129.10" font-size="14.5" text-anchor="end" fill="#262626" font-family='"Liberation Sans", sans-serif'>0.2</text>
<line x1="53" y1="79.35" x2="58.5" y2="79.35" stroke="#3a3a3a" stroke-width="0.9"/>
<text x="48" y="85.95" font-size="14.5" text-anchor="end" fill="#262626" font-family='"Liberation Sans", sans-serif'>0.25</text>
<line x1="53" y1="36.20" x2="58.5" y2="36.20" stroke="#3a3a3a" stroke-width="0.9"/>
<text x="48" y="42.80" font-size="14.5" text-anchor="end" fill="#262626" font-family='"Liberation Sans", sans-serif'>0.3</text>
<line x1="53.30" y1="312.5" x2="53.30" y2="308.2" stroke="#3a3a3a" stroke-width="0.9"/>
<text x="53.00" y="332.4" font-size="14.5" text-anchor="middle" fill="#262626" font-family='"Liberation Sans", sans-serif'>-0.1</text>
<line x1="121.80" y1="312.5" x2="121.80" y2="308.2" stroke="#3a3a3a" stroke-width="0.9"/>
<text x="121.50" y="332.4" font-size="14.5" text-anchor="middle" fill="#262626" font-family='"Liberation Sans", sans-serif'>-0.05</text>
<line x1="190.30" y1="312.5" x2="190.30" y2="308.2" stroke="#3a3a3a" stroke-width="0.9"/>
<text x="190.00" y="332.4" font-size="14.5" text-anchor="middle" fill="#262626" font-family='"Liberation Sans", sans-serif'>0</text>
<line x1="258.80" y1="312.5" x2="258.80" y2="308.2" stroke="#3a3a3a" stroke-width="0.9"/>
<text x="258.50" y="332.4" font-size="14.5" text-anchor="middle" fill="#262626" font-family='"Liberation Sans", sans-serif'>0.05</text>
<line x1="327.30" y1="312.5" x2="327.30" y2="308.2" stroke="#3a3a3a" stroke-width="0.9"/>
<text x="327.00" y="332.4" font-size="14.5" text-anchor="middle" fill="#262626" font-family='"Liberation Sans", sans-serif'>0.1</text>
<line x1="395.80" y1="312.5" x2="395.80" y2="308.2" stroke="#3a3a3a" stroke-width="0.9"/>
<text x="395.50" y="332.4" font-size="14.5" text-anchor="middle" fill="#262626" font-family='"Liberation Sans", sans-serif'>0.15</text>
<line x1="464.30" y1="312.5" x2="464.30" y2="308.2" stroke="#3a3a3a" stroke-width="0.9"/>
<text x="464.00" y="332.4" font-size="14.5" text-anchor="middle" fill="#262626" font-family='"Liberation Sans", sans-serif'>0.2</text>
<line x1="532.80" y1="312.5" x2="532.80" y2="308.2" stroke="#3a3a3a" stroke-width="0.9"/>
<text x="532.50" y="332.4" font-size="14.5" text-anchor="middle" fill="#262626" font-family='"Liberation Sans", sans-serif'>0.25</text>
<line x1="601.30" y1="312.5" x2="601.30" y2="308.2" stroke="#3a3a3a" stroke-width="0.9"/>
<text x="601.00" y="332.4" font-size="14.5" text-anchor="middle" fill="#262626" font-family='"Liberation Sans", sans-serif'>0.3</text>
<text x="327" y="13" font-size="16" font-weight="bold" text-anchor="middle" fill="#000" font-family='"Liberation Sans", sans-serif'>CCLE Validation</text>
<text x="326.5" y="352.3" font-size="15.7" text-anchor="middle" fill="#262626" font-family='"Liberation Sans", sans-serif'>Sensitive Score</text>
<text transform="translate(13.2,165.8) rotate(-90)" font-size="15.6" text-anchor="middle" fill="#262626" font-family='"Liberation Sans", sans-serif'>Resistant Score</text>
<rect x="465.1" y="248.7" width="97.4" height="28.6" fill="#fff" stroke="#555" stroke-width="1.1"/>
<text x="468.98 478.84 488.26 499.42 509.81 518.46 523.46 533.35 542.05 549.6" y="267.9" font-size="14" fill="#111" font-family='"Liberation Sans", sans-serif'>AUC=0.8474</text>
<rect x="620.5" y="18.5" width="19" height="295" fill="url(#cb)" stroke="#555" stroke-width="1"/>
<line x1="636" y1="313.50" x2="639.5" y2="313.50" stroke="#555" stroke-width="0.9"/>
<text x="644" y="320.10" font-size="15" fill="#262626" font-family='"Liberation Sans", sans-serif'>0</text>
<line x1="636" y1="254.50" x2="639.5" y2="254.50" stroke="#555" stroke-width="0.9"/>
<text x="644" y="261.10" font-size="15" fill="#262626" font-family='"Liberation Sans", sans-serif'>0.2</text>
<line x1="636" y1="195.50" x2="639.5" y2="195.50" stroke="#555" stroke-width="0.9"/>
<text x="644" y="202.10" font-size="15" fill="#262626" font-family='"Liberation Sans", sans-serif'>0.4</text>
<line x1="636" y1="136.50" x2="639.5" y2="136.50" stroke="#555" stroke-width="0.9"/>
<text x="644" y="143.10" font-size="15" fill="#262626" font-family='"Liberation Sans", sans-serif'>0.6</text>
<line x1="636" y1="77.50" x2="639.5" y2="77.50" stroke="#555" stroke-width="0.9"/>
<text x="644" y="84.10" font-size="15" fill="#262626" font-family='"Liberation Sans", sans-serif'>0.8</text>
<line x1="636" y1="18.50" x2="639.5" y2="18.50" stroke="#555" stroke-width="0.9"/>
<text x="644" y="25.10" font-size="15" fill="#262626" font-family='"Liberation Sans", sans-serif'>1</text>
<text transform="translate(683.2,165.6) rotate(-90)" font-size="14" text-anchor="middle" fill="#262626" font-family='"Liberation Sans", sans-serif'>IC50 value</text>
</svg>
</body></html>
